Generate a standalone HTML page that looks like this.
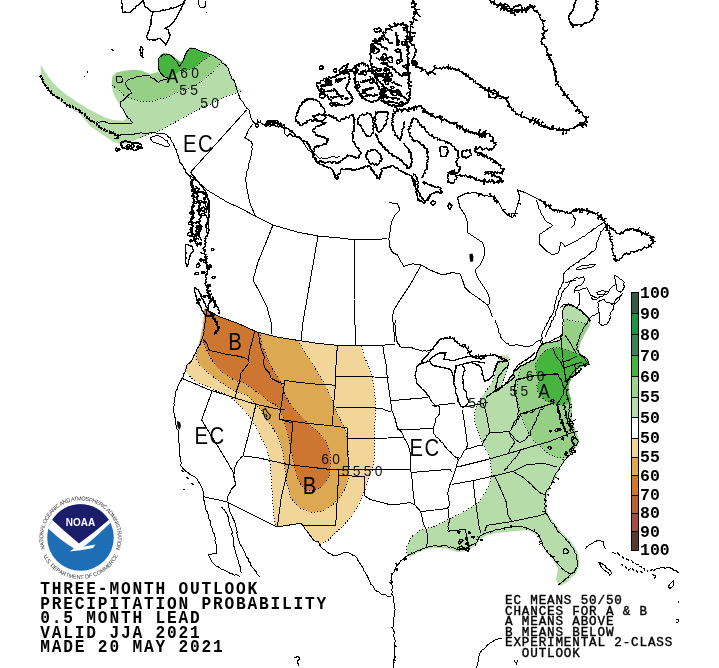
<!DOCTYPE html><html><head><meta charset="utf-8"><style>html,body{margin:0;padding:0;background:#fff;}svg{display:block;}</style></head><body><svg width="719" height="668" viewBox="0 0 719 668">
<rect width="719" height="668" fill="#fff"/>
<g stroke="none"><polygon points="40.8,65.0 48.3,76.7 56.7,86.7 66.7,95.0 76.7,101.7 86.7,108.3 96.7,113.3 105.0,117.5 113.3,120.0 123.3,120.8 126.7,118.3 125.0,113.3 120.8,106.7 116.7,100.0 113.3,93.3 111.7,85.0 112.5,76.7 116.7,72.5 125.0,70.8 133.3,69.7 141.7,70.8 149.8,74.2 155.0,73.5 158.0,72.0 158.0,63.0 160.0,55.0 165.0,53.0 171.7,55.0 176.7,59.0 180.0,62.0 183.3,60.0 186.7,51.7 190.0,47.5 195.0,48.3 203.0,52.0 212.0,55.0 218.0,58.0 224.0,62.0 228.0,67.0 231.0,75.0 235.0,83.0 238.0,88.0 243.0,91.0 228.4,95.6 210.0,104.5 197.5,109.9 181.3,118.9 161.4,129.8 150.0,134.0 139.7,137.9 134.0,140.7 128.0,143.0 121.6,144.8 112.6,141.2 101.7,134.0 90.9,126.8 80.0,114.0 70.0,108.0 61.0,102.0 53.0,96.0 47.0,89.0 43.0,81.0 40.8,73.3" fill="#b6dcaa"/><polygon points="111.7,85.0 112.5,76.7 116.7,72.5 125.0,70.8 133.3,69.7 141.7,70.8 149.8,74.2 158.0,72.0 163.0,76.0 170.0,78.0 176.0,74.0 185.0,68.0 197.0,62.0 205.0,57.0 212.0,55.0 218.0,58.0 223.0,60.5 218.9,65.0 211.1,73.4 201.6,81.1 192.0,87.5 179.0,92.0 168.0,97.0 156.0,99.9 149.8,102.0 138.3,100.8 130.0,98.3 123.3,95.0 118.3,90.0" fill="#95d086"/><polygon points="160.0,55.0 158.0,63.0 159.0,70.0 163.0,76.0 170.0,78.0 176.0,74.0 180.0,71.0 188.0,70.0 194.0,68.0 199.8,63.2 204.0,60.0 207.5,57.8 211.0,55.0 203.0,52.0 195.0,48.3 190.0,47.5 186.7,51.7 183.3,60.0 180.0,62.0 176.7,59.0 171.7,55.0 165.0,53.0" fill="#47b440"/><polygon points="204.0,309.0 206.0,310.0 220.0,317.0 237.0,323.0 257.0,332.0 277.0,337.0 298.0,340.4 318.0,343.4 337.0,345.3 357.0,345.9 361.0,346.0 364.6,357.0 368.5,366.7 372.4,378.4 374.3,390.0 375.3,401.8 375.3,413.5 374.8,425.0 374.6,439.5 374.6,455.0 372.7,468.7 368.8,478.4 364.9,490.1 359.0,503.7 351.2,517.4 339.6,529.0 327.9,540.7 320.1,544.6 316.2,542.7 308.4,532.9 302.6,525.1 300.6,523.2 277.3,527.0 275.3,525.1 273.4,511.5 272.4,497.9 271.4,478.4 269.5,458.9 266.0,447.0 262.1,440.0 259.3,433.7 255.1,425.4 250.9,418.4 244.0,410.1 235.6,401.7 229.1,396.0 223.7,393.5 217.4,390.8 211.2,388.1 204.0,385.4 197.7,382.7 191.4,378.2 186.0,372.0 184.2,368.0 188.3,364.2 193.9,358.0 197.0,350.0 200.0,340.0 203.0,325.0 204.0,315.0" fill="#f2d699"/><polygon points="204.0,309.0 206.0,310.0 220.0,317.0 237.0,323.0 257.0,332.0 277.0,337.0 298.0,340.4 304.3,351.2 312.0,362.8 317.9,372.6 323.7,382.3 329.6,394.0 333.5,403.7 337.4,413.5 341.2,421.2 345.1,429.0 347.0,437.0 348.0,449.0 348.5,458.9 349.3,468.7 348.3,478.4 345.4,488.1 339.6,497.9 331.8,505.7 322.0,511.5 310.4,512.5 298.7,507.6 290.9,497.9 287.0,484.3 285.0,468.7 283.1,453.1 280.0,442.0 277.4,435.1 271.8,426.8 266.2,418.4 260.7,410.1 253.7,401.7 246.8,395.0 241.0,393.0 236.3,391.7 230.9,389.0 225.5,385.4 220.1,381.8 214.8,378.2 209.4,373.7 204.0,369.2 199.5,364.8 196.8,359.4 197.0,350.0 200.0,340.0 203.0,325.0 204.0,315.0" fill="#dca851"/><polygon points="204.0,309.0 206.0,310.0 220.0,317.0 237.0,323.0 257.0,332.0 259.5,332.0 261.4,343.4 266.3,355.0 270.4,365.0 276.0,374.5 280.9,382.3 283.8,392.0 288.7,401.8 294.5,409.6 302.3,417.4 308.4,423.9 318.1,431.7 325.9,441.4 329.8,451.2 330.8,462.8 329.8,474.5 325.9,482.3 320.1,488.1 312.3,491.1 306.5,490.1 300.6,484.3 296.7,476.5 294.8,466.7 291.9,455.0 289.9,443.4 287.0,431.7 284.1,420.0 280.0,410.0 277.4,405.9 269.0,401.7 260.7,394.8 252.3,388.5 244.0,383.0 237.2,380.9 232.7,379.1 227.3,375.5 221.9,371.9 216.5,366.5 212.1,360.3 208.5,354.0 205.8,347.7 203.1,341.4 204.0,330.0 205.0,318.0" fill="#cc7632"/><polygon points="589.3,318.9 584.4,314.8 579.4,309.9 572.8,304.1 567.0,304.5 563.0,306.6 562.9,314.8 563.8,324.7 563.0,332.9 560.1,340.3 551.7,342.4 545.5,343.1 541.9,344.0 538.3,349.4 536.5,353.0 535.6,357.5 532.9,360.2 529.3,362.0 525.7,363.8 522.1,365.5 518.5,368.2 515.0,370.9 513.2,374.5 510.0,379.5 506.0,383.5 502.5,387.0 500.5,389.0 502.0,384.0 504.0,379.0 506.0,373.0 508.0,366.0 509.5,358.0 507.0,355.5 502.0,355.5 499.0,358.0 497.0,365.0 495.0,373.0 493.0,381.0 488.0,388.5 481.5,397.0 477.0,405.0 475.0,412.0 474.5,420.0 476.7,428.3 480.0,436.7 483.3,445.0 486.7,451.7 490.0,458.3 490.8,465.0 491.7,473.3 490.0,481.7 486.7,490.0 478.9,502.0 467.3,509.8 455.6,515.7 447.8,519.6 440.0,523.5 433.3,526.7 420.0,530.0 411.7,536.7 406.7,546.7 407.0,555.0 410.0,557.0 416.7,553.0 426.7,549.0 436.7,548.0 446.7,548.5 456.7,552.0 463.3,551.5 470.0,549.5 476.7,545.0 480.0,539.5 486.7,535.5 496.7,533.0 506.7,532.0 516.7,531.0 526.7,530.0 533.2,533.0 538.1,536.3 541.4,542.9 543.0,547.8 546.3,552.8 551.3,557.7 554.6,562.7 558.0,568.0 556.0,580.0 560.0,586.0 566.0,583.0 571.0,578.0 576.0,574.0 579.0,567.0 579.5,560.0 578.0,553.0 574.5,546.5 571.0,541.5 566.0,536.6 561.0,531.5 556.0,525.0 551.0,518.5 547.0,512.0 546.5,500.0 547.5,493.0 551.0,486.6 555.0,479.0 560.0,469.0 565.0,461.0 571.0,454.0 576.0,447.0 579.5,441.7 576.0,432.0 573.0,424.0 571.5,415.7 572.0,407.3 571.0,399.0 568.5,392.0 568.5,385.7 571.5,377.4 576.5,370.8 581.0,367.0 589.0,364.0 588.0,359.0 581.0,354.0 578.5,349.4 580.5,342.8 583.5,336.2 587.0,329.7 590.0,324.7 591.0,319.5" fill="#b6dcaa"/><polygon points="521.0,366.0 519.0,375.0 517.5,383.0 517.0,390.0 516.4,393.9 517.8,400.9 519.9,412.0 523.4,421.7 527.6,431.5 533.1,439.8 540.1,446.8 548.4,453.7 556.8,457.9 565.1,457.9 571.0,454.0 576.0,447.0 579.5,441.7 576.0,432.0 573.0,424.0 571.5,415.7 572.0,407.3 571.0,399.0 568.5,392.0 568.5,385.7 571.5,377.4 576.5,370.8 581.0,367.0 589.0,364.0 588.0,359.0 581.0,354.0 578.5,349.4 580.5,342.8 583.5,336.2 587.0,329.7 590.0,324.7 588.0,323.9 586.0,323.9 576.1,321.4 566.2,319.8 563.5,320.0 563.8,324.7 563.0,332.9 560.1,340.3 551.7,342.4 545.5,343.1 541.9,344.0 538.3,349.4 536.5,353.0 535.6,357.5 532.9,360.2 529.3,362.0 525.7,363.8" fill="#95d086"/><polygon points="544.8,351.1 551.4,347.8 559.7,347.8 571.2,351.1 579.4,354.4 585.0,358.0 589.0,364.0 581.0,367.0 576.5,370.8 571.5,377.4 568.5,385.7 568.5,392.0 571.0,399.0 569.0,403.0 566.0,404.5 559.7,405.0 551.4,403.8 543.2,398.8 538.2,392.3 536.6,385.7 539.9,380.7 536.6,374.1 534.9,365.9 538.2,357.7" fill="#47b440"/></g>
<g fill="none" stroke="#000" stroke-width="1" stroke-dasharray="1 2" shape-rendering="crispEdges"><polyline points="111.7,85.0 118.3,90.0 123.3,95.0 130.0,98.3 138.3,100.8 149.8,102.0 156.0,99.9 168.0,97.0 179.0,92.0 192.0,87.5 201.6,81.1 211.1,73.4 218.9,65.0 223.0,60.5"/><polyline points="180.0,71.0 188.0,70.0 194.0,68.0 199.8,63.2 204.0,60.0 207.5,57.8 211.0,55.0"/><polyline points="139.7,137.9 150.0,134.0 161.4,129.8 181.3,118.9 197.5,109.9 210.0,104.5 228.4,95.6 243.0,91.0"/><polyline points="298.0,340.4 304.3,351.2 312.0,362.8 317.9,372.6 323.7,382.3 329.6,394.0 333.5,403.7 337.4,413.5 341.2,421.2 345.1,429.0 347.0,437.0 348.0,449.0 348.5,458.9 349.3,468.7 348.3,478.4 345.4,488.1 339.6,497.9 331.8,505.7 322.0,511.5 310.4,512.5 298.7,507.6 290.9,497.9 287.0,484.3 285.0,468.7 283.1,453.1 280.0,442.0 277.4,435.1 271.8,426.8 266.2,418.4 260.7,410.1 253.7,401.7 246.8,395.0 241.0,393.0 236.3,391.7 230.9,389.0 225.5,385.4 220.1,381.8 214.8,378.2 209.4,373.7 204.0,369.2 199.5,364.8 196.8,359.4 197.0,350.0"/><polyline points="259.5,332.0 261.4,343.4 266.3,355.0 270.4,365.0 276.0,374.5 280.9,382.3 283.8,392.0 288.7,401.8 294.5,409.6 302.3,417.4 308.4,423.9 318.1,431.7 325.9,441.4 329.8,451.2 330.8,462.8 329.8,474.5 325.9,482.3 320.1,488.1 312.3,491.1 306.5,490.1 300.6,484.3 296.7,476.5 294.8,466.7 291.9,455.0 289.9,443.4 287.0,431.7 284.1,420.0 280.0,410.0 277.4,405.9 269.0,401.7 260.7,394.8 252.3,388.5 244.0,383.0 237.2,380.9 232.7,379.1 227.3,375.5 221.9,371.9 216.5,366.5 212.1,360.3 208.5,354.0 205.8,347.7 203.1,341.4"/><polyline points="361.0,346.0 364.6,357.0 368.5,366.7 372.4,378.4 374.3,390.0 375.3,401.8 375.3,413.5 374.8,425.0 374.6,439.5 374.6,455.0 372.7,468.7 368.8,478.4 364.9,490.1 359.0,503.7 351.2,517.4 339.6,529.0 327.9,540.7 320.1,544.6"/><polyline points="277.3,527.0 275.3,525.1 273.4,511.5 272.4,497.9 271.4,478.4 269.5,458.9 266.0,447.0 262.1,440.0 259.3,433.7 255.1,425.4 250.9,418.4 244.0,410.1 235.6,401.7 229.1,396.0 223.7,393.5 217.4,390.8 211.2,388.1 204.0,385.4 197.7,382.7 191.4,378.2 186.0,372.0"/><polyline points="563.5,320.0 566.2,319.8 576.1,321.4 588.0,323.9"/><polyline points="500.5,389.0 502.0,384.0 504.0,379.0 506.0,373.0 508.0,366.0 509.5,358.0"/><polyline points="499.0,358.0 497.0,365.0 495.0,373.0 493.0,381.0 488.0,388.5 481.5,397.0 477.0,405.0 475.0,412.0 474.5,420.0 476.7,428.3 480.0,436.7 483.3,445.0 486.7,451.7 490.0,458.3 490.8,465.0 491.7,473.3 490.0,481.7 486.7,490.0 478.9,502.0 467.3,509.8 455.6,515.7 447.8,519.6 440.0,523.5 433.3,526.7 420.0,530.0 411.7,536.7 406.7,546.7 407.0,555.0"/><polyline points="521.0,366.0 519.0,375.0 517.5,383.0 517.0,390.0 516.4,393.9 517.8,400.9 519.9,412.0 523.4,421.7 527.6,431.5 533.1,439.8 540.1,446.8 548.4,453.7 556.8,457.9 565.1,457.9 571.0,454.0"/><polyline points="544.8,351.1 551.4,347.8 559.7,347.8 571.2,351.1 579.4,354.4 582.7,357.7"/><polyline points="544.8,351.1 538.2,357.7 534.9,365.9 536.6,374.1 539.9,380.7 536.6,385.7 538.2,392.3 543.2,398.8 551.4,403.8 559.7,405.0 566.0,402.0"/></g>
<g fill="none" stroke="#000" stroke-width="1" stroke-linejoin="round" shape-rendering="crispEdges"><polyline points="199.0,0.0 198.0,3.0 200.0,7.0 204.0,8.0 206.0,5.0 205.0,1.0"/><polyline points="206.0,12.0 206.5,13.5"/><polyline points="84.0,76.0 85.0,77.0"/><polyline points="87.5,71.5 88.0,72.5"/><polyline points="190.0,48.0 192.5,48.7 195.0,48.3 196.8,49.7 198.9,50.4 200.7,51.7 203.0,52.0 205.4,52.2 207.6,53.2 209.7,54.3 212.0,55.0 213.9,55.9 215.6,57.0 217.2,58.3 219.0,59.5 220.9,60.7 221.8,63.0 223.9,63.9 225.8,65.3 227.2,67.2 228.6,68.9 228.9,71.1 229.7,73.1 230.6,75.0 231.5,77.1 232.2,79.2 234.4,80.6 235.0,82.8 235.3,85.3 236.6,87.5 237.0,90.0 237.2,92.3 238.8,93.9 239.1,96.1 239.7,98.2 241.0,100.0 242.7,101.7 243.8,103.9 245.0,106.0 247.0,108.3 248.9,110.1 249.7,112.5 250.3,114.6 250.9,116.8 251.2,119.0 252.5,120.9 255.3,123.6 258.0,122.7 260.9,122.9 263.0,124.2 265.6,123.9 267.8,125.0 270.2,124.6 272.5,125.4 274.8,125.7 277.0,126.5 279.4,126.5 281.7,126.4 284.5,124.3 285.2,127.8 284.3,130.5 284.5,133.4 287.3,136.2 290.1,133.4 292.9,136.2 295.6,136.9 297.9,137.0 299.8,138.2 301.4,139.8 302.6,141.7 304.2,143.7 305.4,145.9 306.8,148.0 308.2,150.1 310.6,151.1 312.3,152.9 314.8,153.7 316.5,155.6 319.3,158.4 321.4,157.9 323.5,158.4 326.3,158.7 329.0,157.7 331.7,156.9 334.6,157.0 337.4,157.2 340.0,156.3"/><polyline points="133.3,122.5 131.2,121.6 130.4,119.2 128.3,118.3 126.4,115.9 125.0,113.3 123.8,110.8 122.5,108.3 121.0,106.8 120.0,105.0 120.8,101.7 123.3,100.5 125.0,98.3 127.0,97.0 128.3,95.0 131.7,93.3 130.0,90.0 128.1,88.6 126.7,86.7 125.0,83.3 126.6,81.6 128.3,80.0 130.6,78.7 133.3,78.3 135.7,77.1 138.3,76.7 140.4,76.4 142.5,75.9 144.6,75.8 146.7,75.8 149.8,75.8 151.1,77.6 153.3,78.3 155.2,79.5 156.7,81.1 158.3,82.5 160.6,80.8 163.3,80.0 165.9,79.4 168.3,78.3 165.7,77.3 163.3,75.8 161.5,74.1 160.1,72.3 159.2,70.0 158.4,67.8 158.5,65.5 158.3,63.3 159.0,61.1 158.7,58.7 160.0,56.7 161.9,55.8 163.3,54.2 165.5,55.1 167.8,54.7 170.0,55.0 172.0,56.4 173.7,57.9 175.0,60.0 176.9,61.9 178.0,64.3 179.2,66.7 180.6,64.5 182.5,62.6 183.3,60.0 184.3,58.0 184.8,55.8 185.9,53.8 186.7,51.7 188.4,49.9 190.0,48.0"/><polyline points="96.7,121.7 98.7,122.3 100.7,121.8 102.7,122.0 104.8,121.7 106.7,122.5 108.7,123.1 110.7,123.3 112.6,123.7 114.6,123.8 116.7,123.3 118.7,123.1 120.7,123.7 122.7,123.5 124.7,123.0 126.7,123.3 128.9,123.4 131.2,123.3 133.3,122.5"/><polyline points="117.0,76.0 121.0,76.0 123.0,80.0 121.0,83.0 117.0,82.0 116.0,79.0 117.0,76.0"/><polyline points="120.0,135.2 122.2,134.6 124.5,134.4 126.7,134.2 129.0,134.3 131.3,134.8 133.6,134.5 135.8,133.4 138.1,133.4 140.8,132.7 143.5,133.4 145.9,133.4 148.4,133.3 150.7,132.5 153.0,132.5 155.3,132.8 157.4,133.9 159.8,133.4 162.3,133.7 164.8,133.9 167.0,135.2 168.4,137.1 170.6,137.9 171.2,140.3 172.4,142.4 173.6,144.1 174.2,146.1 175.1,147.9 176.1,149.7 176.6,152.5 177.9,155.1 178.6,157.9 179.7,160.5 180.0,162.6 181.5,164.1 183.0,165.7 183.3,167.8 185.0,169.3 185.3,171.7 186.9,173.2 188.5,175.2 190.5,176.8 191.1,179.6 192.3,182.2 192.1,184.3 193.0,186.1 193.3,188.1 194.1,190.0"/><polyline points="246.6,109.9 190.5,172.3"/><polyline points="207.0,310.0 206.5,312.1 206.6,314.4 205.9,316.5 205.7,318.7 205.0,320.8 205.0,323.0 204.1,325.1 204.7,327.4 203.8,329.5 204.2,331.7 203.1,333.8 203.1,336.0 202.6,338.4 201.3,340.5 200.7,342.7 199.9,344.9 198.6,346.8 197.3,348.4 196.6,350.3 195.9,352.2 195.0,354.0 193.9,355.7 193.2,357.6 192.3,359.6 191.1,361.4 189.6,363.0 187.6,364.5 186.0,366.5 186.0,368.7 185.4,370.8 184.6,372.8 183.3,374.6 183.1,376.8 182.2,378.7 181.0,380.4 180.0,382.2 179.0,384.0 177.8,386.3 177.4,388.9 175.9,391.1 175.5,393.1 175.5,395.1 174.9,397.0 174.5,399.0 174.6,401.3 173.9,403.4 174.2,405.7 173.5,407.9 173.9,410.3 173.9,412.7 174.5,415.0 175.0,417.4 175.8,419.8 175.9,422.3 175.9,424.4 176.2,426.4 176.7,428.4 178.1,430.2 178.2,432.2 178.3,434.3 178.1,436.5 178.6,438.7 178.9,440.8 179.0,443.0 179.1,445.0 179.7,447.0 179.7,449.0 179.5,451.0 180.1,453.0 179.3,455.2 180.3,457.1 180.4,459.2 180.9,461.2 181.1,463.3 180.7,465.4 182.3,467.5 184.0,469.5 185.8,471.3 187.9,472.6 189.5,473.9 191.1,475.1 193.0,476.0 195.6,477.5 197.5,479.8 198.7,481.9 200.0,484.0 201.4,486.5 202.3,489.3 203.1,491.7 203.3,494.2 203.3,496.7 203.7,499.1 204.2,501.4 204.4,503.8 205.5,506.0 205.7,508.2 206.1,510.4 207.6,512.3 208.1,514.5 208.3,516.7 208.9,518.8 210.1,520.6 210.6,522.8 210.6,525.0 211.5,527.0 212.6,528.8 212.3,531.1 213.7,532.8 214.6,534.7 215.0,536.7 215.2,538.8 214.9,540.9 215.8,542.9 216.4,544.9 216.2,547.1 216.5,549.1 216.7,551.2 216.7,553.3 214.4,553.8 212.0,554.0 208.3,555.0 209.5,557.1 210.5,559.3 211.6,561.5 213.3,563.3 214.8,564.7 216.3,566.1 218.2,566.9 220.0,568.0 222.0,569.7 224.7,570.1 226.7,571.7 228.7,572.2 230.3,573.7 232.4,573.9 234.1,575.1 236.4,574.8 238.3,575.5 240.0,576.7"/><polyline points="221.7,506.7 222.5,508.7 224.5,509.8 225.4,511.7 226.7,513.3 227.6,515.3 228.3,517.4 228.7,519.5 229.0,521.7 229.8,523.8 229.9,526.0 230.9,528.0 231.7,530.0 232.4,532.2 231.7,534.5 233.0,536.6 233.3,538.8 233.4,541.0 233.3,543.3 233.8,545.5 234.3,547.8 235.1,550.0 235.2,552.3 236.3,554.4 236.7,556.7 237.8,558.6 238.1,560.8 238.6,562.9 239.4,564.9 240.2,567.0 240.2,569.2 240.8,571.3 241.7,573.3"/><polyline points="228.0,503.0 228.6,505.2 228.6,507.4 229.9,509.4 230.0,511.7 230.6,513.7 231.8,515.5 232.8,517.4 233.2,519.5 234.5,521.2 235.0,523.3 235.0,525.5 236.1,527.4 236.7,529.5 237.2,531.5 236.8,533.8 238.0,535.7 237.9,537.9 238.3,540.0 239.3,541.9 240.1,543.9 241.2,545.7 242.3,547.5 243.4,549.4 244.1,551.4 245.0,553.3 245.9,555.3 246.6,557.3 248.4,558.8 248.5,561.1 250.1,562.7 250.6,564.8 251.7,566.7 253.1,568.3 254.6,569.9 256.1,571.5 256.8,573.7 258.4,575.2 260.0,576.7"/><polyline points="181.0,470.0 184.0,472.0"/><polyline points="186.0,477.0 189.0,479.0"/><polyline points="191.0,483.0 194.0,485.0"/><polyline points="183.0,489.0 185.0,490.0"/><polyline points="190.0,175.0 207.0,190.0 227.0,202.0 240.0,208.0 257.0,217.0 273.0,225.0 297.0,232.0 318.0,236.0 340.0,238.0 355.0,240.0 387.5,238.8"/><polyline points="252.5,123.6 251.8,125.5 250.6,127.2 249.2,128.8 248.3,130.6 247.2,132.9 246.3,135.4 244.9,137.6 246.9,139.0 249.1,140.3 251.1,141.7 252.5,144.5 251.8,146.7 252.3,149.0 251.7,151.2 251.3,153.4 251.1,155.6 250.8,157.9 250.1,160.1 249.2,162.3 248.5,164.5 248.3,166.8 248.1,169.1 247.0,171.2 246.7,173.5 246.3,175.7 245.6,177.9 245.6,180.2 246.2,182.3 246.3,184.6 246.9,186.8 247.0,189.0 247.8,190.9 247.9,193.0 248.2,195.0 248.6,197.0 248.9,199.1 249.7,201.0 250.0,203.0 250.5,205.1 251.5,207.1 252.3,209.1 253.3,211.0 254.1,213.0 255.0,215.0 257.0,217.0"/><polyline points="273.0,225.0 265.0,245.0 258.0,262.0 253.0,280.0 260.0,293.0 267.0,307.0 271.0,322.0 271.0,334.0"/><polyline points="318.0,236.0 303.0,322.0 301.0,340.0"/><polyline points="355.0,240.0 354.0,300.0 355.8,345.0"/><polyline points="421.3,265.0 410.0,285.0 400.0,300.0 393.8,310.0 392.5,317.0 395.0,342.0"/><polyline points="388.8,202.5 397.5,203.8 400.0,210.0 395.0,215.0 391.3,222.5 390.0,232.5 388.8,238.8 390.0,247.5 392.5,252.5 397.5,255.0 400.0,260.0 403.8,266.3 412.5,263.8 421.3,265.0 430.0,270.0 442.5,275.0 452.5,272.5 460.0,273.8 462.5,280.0 465.0,287.5 470.0,292.5 477.5,297.5 482.5,301.3 487.5,305.0 490.0,310.0 492.5,317.0"/><polyline points="488.8,305.0 490.0,300.0 487.5,292.5 482.5,285.0 477.5,277.5 475.0,270.0 480.0,265.0 483.8,257.5 485.0,250.0 482.5,242.5 475.0,237.5 467.5,232.5 467.5,222.5 465.0,215.0 460.0,207.5 457.5,197.5 465.0,193.8 475.0,192.5 482.5,195.0 490.0,196.3 495.0,197.5 498.8,202.5 502.5,210.0 507.5,215.0 512.5,217.5 515.0,213.8 517.5,205.0 520.0,197.5 517.5,190.0 525.0,192.5 535.0,197.5 540.0,200.0"/><polyline points="536.0,200.0 537.2,202.0 537.6,204.3 538.5,206.5 538.9,208.8 540.4,210.8 541.0,213.0 542.2,215.1 543.7,217.2 544.7,219.5 546.3,221.4 548.4,222.8 550.7,223.9 552.6,225.6 550.8,227.4 548.4,228.4 546.3,229.8 544.3,231.4 542.2,232.7 540.0,234.0 539.9,236.0 539.2,238.0 539.0,240.0 539.5,242.3 540.0,244.5 542.2,246.5 544.2,248.7 545.8,250.1 547.3,251.6 549.3,252.4 550.7,254.0 552.6,255.0 554.7,254.2 556.7,253.4 558.9,252.9 559.0,250.7 559.3,248.6 559.8,246.5 560.7,244.5 561.0,242.4 563.3,244.3 565.2,246.6 567.2,245.4 569.2,244.2 571.4,243.3 573.5,242.4 575.6,241.3 577.7,240.3 579.2,238.7 581.4,238.0 582.8,236.3 585.2,235.9 586.7,234.3 588.4,232.9 590.3,231.9 591.9,230.5 593.4,229.0 595.5,228.4 597.2,227.0 598.7,225.6 600.9,224.4 602.9,222.9 605.0,221.4"/><polyline points="571.4,213.1 572.9,215.1 573.9,217.5 575.6,219.3 574.7,221.3 574.9,223.7 573.5,225.6 571.4,227.7"/><polyline points="607.1,225.6 605.6,226.9 603.9,228.1 603.0,230.0 600.8,231.9 600.6,234.3 599.4,236.2 598.5,238.3 598.0,240.5 596.6,242.4 596.1,244.5 596.2,246.8 595.8,248.9 594.5,250.8 592.0,251.6 590.2,253.5 588.2,255.0 586.3,256.7 584.3,258.3 581.9,259.2 580.0,260.0 578.6,262.0 576.1,262.7 574.4,264.4 572.4,265.8 570.2,266.7 568.8,268.8 566.7,270.0 565.0,272.2 563.3,274.4 563.6,277.0 563.1,279.6 563.3,282.2 561.7,284.2 561.1,286.7 559.0,290.0 558.8,292.5 558.0,294.7 556.5,296.7 556.7,298.9 555.1,300.8 555.6,303.1 554.5,305.0 554.8,307.1 554.3,309.1 553.5,311.0 553.0,313.0 552.3,314.9 551.0,316.5 549.6,318.0 549.0,320.0 548.3,321.9 546.9,323.5 546.5,325.6 545.0,327.0 544.6,329.6 542.7,331.5 542.0,334.0 541.4,336.0 542.3,338.0 541.3,340.0 542.7,342.0 541.9,344.0"/><polyline points="576.7,267.8 582.2,265.6 595.6,264.4 593.3,266.7 582.2,268.9 576.7,270.0 576.7,267.8"/><polyline points="545.0,337.0 546.1,334.7 547.0,332.3 548.0,330.0 549.2,327.7 550.5,325.6 551.0,323.0 551.6,321.0 553.6,319.8 553.4,317.4 555.0,316.0 555.3,313.9 555.8,311.9 556.2,309.8 557.5,308.0 557.7,305.9 559.0,304.1 558.8,301.8 560.0,300.0 560.8,297.8 561.5,295.5 561.9,293.1 563.3,291.0 564.4,288.9 566.3,287.9 567.7,286.3 568.7,284.5 569.7,282.6 571.1,281.1 573.2,280.5 574.5,278.4 576.7,277.8 579.0,278.2 581.2,277.7 583.3,276.7 585.0,279.4 583.9,281.1 583.0,283.0 580.8,285.0 578.0,286.0 575.7,287.6 574.4,290.0 574.4,293.3"/><polyline points="574.4,293.3 574.9,291.2 576.7,290.0 579.6,290.4 582.2,288.9 584.5,288.5 586.7,287.8 588.9,291.1 589.4,293.6 591.1,295.6 593.6,296.3 595.6,297.8 598.0,298.2 600.0,296.7 602.6,296.3 604.4,294.4 607.1,294.1 608.9,292.2 609.2,289.6 611.1,287.8 613.2,286.0 615.6,284.4"/><polyline points="596.0,292.0 598.1,292.0 600.1,291.6 602.0,290.5 604.0,291.0 606.0,291.0 608.0,291.0 605.8,292.2 604.0,294.0 602.0,294.4 600.0,294.8 598.0,294.5 596.0,292.0"/><polyline points="614.4,275.6 617.8,276.7 619.7,278.8 622.2,280.0 624.4,282.2 623.7,284.4 624.4,286.8 623.3,288.9 622.2,291.1 620.0,292.2 616.7,290.0 616.2,287.4 616.1,284.7 615.0,282.2 615.4,279.9 614.6,277.8 614.4,275.6"/><polyline points="622.2,293.3 621.3,295.1 620.0,296.7 617.6,298.0 615.6,300.0 614.3,302.5 612.2,304.4 610.1,303.2 607.8,302.2 605.7,302.0 604.4,299.9 602.2,300.0 599.8,300.7 597.8,302.2 598.9,304.7 597.7,307.5 598.9,310.0 598.9,312.9 600.0,315.6 599.9,317.8 599.7,320.1 598.9,322.2 600.3,324.2 602.2,325.6 604.4,324.7 606.7,324.4 608.9,321.1 610.0,318.5 610.0,315.6 610.3,313.0 612.2,311.1 613.3,309.0 613.3,306.7 614.7,304.0 617.0,302.0 619.0,300.4 620.0,298.0"/><polyline points="560.0,307.8 562.0,306.5 563.3,304.4 565.9,304.2 568.5,303.9 571.1,304.4 572.7,305.6 574.6,306.4 576.0,308.0 577.8,308.9 580.3,309.9 582.6,311.3 584.4,313.3 585.9,314.8 587.2,316.5 588.9,317.8 589.2,320.1 590.0,322.2"/><polyline points="577.8,308.9 577.7,306.5 579.1,304.4 579.0,302.0 579.0,299.9 579.9,298.0 580.0,296.0 579.5,293.7 578.0,292.0"/><polyline points="565.2,282.2 567.7,282.0 570.0,281.0 572.8,280.3 575.6,280.1"/><polyline points="591.0,297.0 592.2,298.8 594.0,300.0 597.0,299.0"/><polyline points="205.0,309.0 220.0,317.0 237.0,323.0 257.0,332.0 277.0,337.0 298.0,340.4 318.0,343.4 337.0,345.3 357.0,345.9 381.6,345.1 395.0,344.7"/><polyline points="181.4,378.1 207.8,389.2 235.6,398.2 256.5,404.5 280.0,409.4 284.8,410.0"/><polyline points="212.0,391.3 201.6,419.8 212.0,437.0 222.0,453.0 233.4,472.6 235.8,484.6"/><polyline points="255.8,405.2 249.0,433.0 243.0,455.8"/><polyline points="243.0,455.8 241.1,457.4 239.7,459.3 238.0,461.0 236.7,463.1 235.8,465.4 234.7,467.7 234.7,470.2 234.4,472.7 233.4,475.0 233.8,477.5 234.6,479.8 235.2,482.2 235.8,484.6 234.1,486.3 232.4,488.0 231.0,490.0 230.2,492.3 228.6,494.2 227.9,496.7 227.9,499.3 226.7,501.7"/><polyline points="255.1,330.0 252.9,338.9 249.9,349.4 248.4,358.4 249.1,362.9 245.4,367.4 240.9,373.4 239.4,382.3 236.4,391.3 235.6,397.6"/><polyline points="203.1,339.6 204.9,341.2 206.3,343.0 207.6,345.0 208.1,347.2 208.5,349.5 210.6,350.7 213.0,351.3 215.0,351.9 217.1,352.0 219.2,352.2 221.7,353.6 224.6,354.0 226.7,354.1 228.8,354.4 230.9,354.9 233.1,355.4 235.5,355.3 237.7,356.1 239.9,356.7 242.0,357.1 244.0,357.7 246.0,358.5 248.4,360.0"/><polyline points="258.5,331.7 259.5,341.4 261.4,349.2 264.3,357.0 263.4,362.8 265.3,368.7 269.2,372.6 271.2,378.4 279.0,382.3 284.8,384.3"/><polyline points="284.8,380.4 298.4,382.3 317.9,384.3 335.4,385.2"/><polyline points="337.4,345.3 336.4,359.0 335.4,374.5 335.4,385.2 333.5,405.7 332.5,426.0"/><polyline points="284.8,380.4 281.9,401.8 279.0,419.3 306.2,423.2 333.5,426.0 347.4,427.8"/><polyline points="335.4,376.5 388.8,377.2"/><polyline points="335.6,407.5 374.9,408.0 381.6,408.6 390.6,412.0"/><polyline points="292.8,422.9 289.0,464.8 281.2,497.9 277.3,527.0"/><polyline points="279.0,419.3 292.8,422.9"/><polyline points="243.0,455.8 260.0,458.2 289.0,464.8 331.8,469.6 348.3,469.6 390.0,469.6 411.0,470.0"/><polyline points="347.4,427.8 348.3,469.6"/><polyline points="347.4,438.5 404.0,437.8"/><polyline points="338.6,469.6 338.6,475.5 364.9,476.5 364.9,495.9 370.7,499.8 380.0,502.0 390.0,504.7 400.0,504.0 410.0,502.5 415.0,505.0"/><polyline points="338.6,475.5 335.7,525.1 302.6,525.1"/><polyline points="203.3,496.7 226.7,501.7 246.7,511.7 273.3,525.0 277.3,527.0 300.6,523.2 302.6,525.1"/><polyline points="302.6,525.1 304.2,527.0 305.1,529.3 306.8,531.0 308.4,532.9 309.4,535.2 311.4,536.7 312.4,539.0 314.3,540.7 316.5,541.3 318.7,542.0 319.3,544.3 320.4,546.3 322.0,548.0 323.7,549.3 325.5,550.4 326.8,552.1 328.8,553.2 331.0,553.8 332.8,555.2 334.9,556.1 336.9,555.4 338.9,554.5 341.0,554.0 342.9,553.1 344.9,552.5 347.0,552.1 349.0,553.1 351.1,553.9 352.9,555.2 355.0,556.1 356.8,557.7 357.6,560.1 359.0,562.0 360.3,564.1 361.8,566.1 363.1,568.2 363.6,570.3 364.9,572.1 366.0,574.0 367.3,576.0 368.3,578.1 369.2,580.3 370.1,582.5 371.1,584.6 373.2,586.1 374.2,588.2 375.2,590.4 377.2,591.4 379.5,592.1 381.0,594.0 383.3,594.5 385.4,594.6 387.2,596.1 389.2,596.5 391.4,596.5"/><polyline points="382.7,345.1 383.9,353.7 386.1,364.9 387.2,377.2 389.5,394.0 390.6,400.8 391.7,409.8 395.1,418.7 397.3,427.7 401.8,432.2 404.0,437.8 408.5,445.7 410.0,452.0 410.5,462.0 411.0,472.0 411.7,475.0 413.3,494.8 415.0,505.0 420.8,511.7 423.3,523.3 426.7,530.0 427.5,538.3 426.7,548.3"/><polyline points="390.6,400.8 428.3,397.4"/><polyline points="428.3,395.5 429.6,397.5 430.4,399.7 431.7,401.7 433.9,403.9 435.0,406.7 438.3,405.5 439.5,407.4 439.2,409.7 440.0,411.7 439.2,414.3 437.8,416.5 435.8,418.3 435.0,420.7 435.0,423.3 434.2,425.8 433.3,428.3 433.2,430.8 433.3,433.3 434.9,435.1 436.2,437.0 438.3,438.3 439.7,440.2 441.2,442.1 443.3,443.3 444.1,445.2 445.3,446.8 446.7,448.3 448.1,450.2 450.0,451.6 451.7,453.3 453.0,455.3 455.0,456.7 456.9,458.1 458.3,460.0 457.7,462.6 456.7,465.0 456.6,467.1 455.6,468.9 455.1,470.9 454.4,472.8 453.9,474.8 453.1,476.7 452.4,478.7 451.7,480.6 450.8,482.5 450.1,484.4 449.3,486.3 449.0,488.4 448.5,490.4 447.8,492.3 447.8,494.7 449.0,496.9 448.7,499.4 449.3,501.7 449.7,504.0 449.1,506.1 447.8,507.9 448.4,510.2 449.0,512.5 448.6,515.0 448.8,517.3 449.7,519.6 449.3,521.9 448.3,524.1 447.9,526.4 448.3,528.9 447.8,531.2"/><polyline points="447.8,531.2 465.3,529.3 467.3,539.0 469.2,546.8"/><polyline points="431.7,405.8 455.0,403.3"/><polyline points="397.3,430.0 416.7,429.2 433.3,428.3"/><polyline points="411.5,472.5 450.0,469.2 451.7,471.7"/><polyline points="420.8,511.7 448.3,508.3"/><polyline points="462.5,410.0 464.2,421.7 465.8,431.7 466.7,440.0 467.5,445.0 465.8,450.0"/><polyline points="483.3,403.3 486.7,415.0 488.3,425.0 490.0,431.7"/><polyline points="465.0,407.0 483.3,403.3 488.0,402.0"/><polyline points="455.0,456.7 457.6,457.3 460.0,458.3 461.5,456.4 462.4,454.1 463.5,451.9 465.0,450.0 467.3,448.6 470.0,448.3 472.3,447.4 474.7,446.7 477.0,446.0 479.8,445.7 482.5,445.0 483.1,442.7 483.9,440.4 485.8,438.7 486.3,436.3 488.5,434.5 490.0,432.0 492.5,432.0 495.0,432.5 497.1,432.4 499.2,432.3 501.3,432.5 503.7,431.7 506.3,431.3 510.0,431.3 511.5,428.9 512.5,426.3 513.3,423.6 515.0,421.3 517.0,419.1 518.1,416.3 517.9,414.1 518.2,412.1 518.8,410.0 517.9,408.0 517.7,405.9 517.5,403.8 516.8,401.6 516.4,399.4 516.1,397.1 515.0,395.0"/><polyline points="457.5,467.0 488.7,459.2 507.5,453.8 532.5,446.3 549.0,441.7 568.5,433.9 578.0,431.0"/><polyline points="508.8,431.3 509.7,433.3 510.6,435.4 511.3,437.5 512.9,438.9 513.9,440.7 515.0,442.5 513.6,444.1 512.6,445.9 511.3,447.5 509.8,449.5 509.1,451.9 507.5,453.8"/><polyline points="508.8,431.3 510.4,433.4 512.5,435.2 513.8,437.5 515.5,439.6 517.7,441.1 520.0,442.5 522.5,441.2 525.0,440.0 526.5,438.2 527.8,436.2 530.0,435.0 530.4,432.8 530.5,430.4 532.2,428.6 532.5,426.3 534.1,424.6 535.0,422.5 536.2,420.6 536.4,418.2 537.5,416.3 538.8,414.4 539.2,412.1 540.0,410.0 543.8,408.8 542.1,407.5 540.0,407.5 537.2,408.1 535.0,410.0 533.4,411.7 531.3,412.5 528.8,411.3 527.1,412.9 525.0,413.8 521.3,413.8 520.0,416.3 518.8,418.8 516.9,420.2 516.3,422.5 515.0,425.0 512.5,426.3"/><polyline points="518.8,414.5 528.8,411.3 540.0,407.5 555.0,402.5"/><polyline points="451.7,484.5 473.1,480.6 494.5,475.8 514.0,470.9"/><polyline points="504.3,470.9 505.3,468.8 507.7,467.9 508.2,465.4 510.0,464.0 511.4,462.5 512.3,460.5 514.0,459.2 515.7,457.8 516.9,456.0 518.0,454.0 519.6,451.5 521.8,449.5"/><polyline points="514.0,470.9 525.7,465.0 543.2,463.1 556.8,467.0"/><polyline points="514.0,471.9 515.8,473.3 517.7,474.6 520.0,475.2 521.8,476.7 523.7,477.7 525.2,479.0 526.5,480.8 528.4,481.7 529.9,483.2 531.5,484.5 532.9,486.2 534.4,487.9 536.0,489.4 537.8,490.7 539.3,492.3 541.1,493.4 543.0,494.1 545.1,494.3"/><polyline points="494.5,475.8 500.4,488.4 506.2,502.0 508.1,515.7 512.0,521.5"/><polyline points="473.1,480.6 475.0,498.1 477.0,511.8 478.9,525.4 480.9,533.2"/><polyline points="486.7,525.4 512.0,521.5 539.3,515.7 545.1,513.7"/><polyline points="486.7,525.4 484.8,531.2"/><polyline points="558.0,373.8 558.6,376.1 559.7,378.2 561.3,380.0 562.2,382.2 562.8,384.3 563.2,386.5 564.3,388.5 563.7,390.6 563.9,392.8 563.2,394.8 561.9,396.4 561.0,398.2 560.0,400.0 558.7,402.1 556.8,403.6"/><polyline points="552.6,347.6 555.7,355.9 560.9,362.2 564.1,369.6 566.2,379.0"/><polyline points="560.9,335.0 560.7,337.1 561.4,339.2 561.7,341.3 561.9,343.4 562.0,345.5 561.9,347.6 562.0,349.7 562.5,351.8 562.4,353.9 562.7,355.9 563.1,358.0 562.8,360.1 563.0,362.2 563.2,364.3 563.3,366.4 564.2,368.5 564.4,370.6 564.1,372.8 565.1,374.8 565.1,376.9 565.3,379.0 565.8,381.1 566.2,383.2"/><polyline points="565.1,335.0 569.3,341.3 573.5,348.6 576.6,353.8"/><polyline points="560.9,362.2 569.3,360.1 576.6,355.9"/><polyline points="563.0,368.5 571.4,365.4 577.7,363.3 581.9,362.2"/><polyline points="574.6,365.4 576.6,374.8"/><polyline points="579.8,354.9 583.0,356.0 586.1,358.0 587.5,359.9 588.4,362.1 589.2,364.3 586.9,365.0 585.0,366.4 582.9,363.3"/><polyline points="540.0,345.5 542.2,345.0 544.1,343.6 546.2,342.6 548.4,342.2 550.5,341.3 552.7,340.5 554.5,339.0 556.7,338.2 558.8,337.1 560.8,335.9 563.0,335.0"/><polyline points="560.1,340.3 560.6,338.2 561.5,336.2 562.1,334.1 562.2,331.9 562.9,329.8 562.1,327.7 563.3,325.6 562.7,323.5 563.2,321.4 563.1,319.3 562.5,317.3 562.2,315.2 562.8,313.0 562.2,311.0 563.6,309.4 564.4,307.3 565.7,305.6 568.5,304.7 570.5,305.6 572.7,306.1 574.8,306.8 577.1,307.9 578.8,309.8 581.0,311.0 582.4,312.7 583.9,314.4 585.7,315.6 587.3,317.2 589.3,319.0 590.5,321.4"/><polyline points="541.9,344.0 545.5,343.1 547.5,342.7 549.6,342.2 551.7,342.4 553.7,341.6 556.0,341.8 558.0,340.7 560.1,340.3"/><polyline points="395.0,320.0 395.1,322.0 394.9,324.0 395.1,326.0 395.0,328.0 395.4,330.2 395.1,332.6 395.8,334.8 396.1,337.0 396.3,339.3 397.5,343.0 399.1,344.7 400.0,346.8 402.5,347.3 405.0,347.4 407.1,347.2 409.2,347.7 411.3,347.4 413.3,348.5 415.4,349.1 417.5,349.9 420.1,350.1 422.5,351.1 424.6,350.8 426.7,351.1 428.8,350.5 431.2,349.2 433.8,348.6"/><polyline points="495.0,320.0 495.0,322.2 496.6,323.9 497.4,325.8 498.1,327.9 498.3,330.0 498.9,332.8 500.6,335.0 500.9,337.5 502.4,339.5 504.1,341.4 506.0,343.1 508.2,343.9 509.6,345.8 512.3,345.6 515.0,344.9 517.4,344.5 519.7,345.7 522.1,345.8 524.3,346.7 526.6,346.7 528.9,346.6 530.9,345.7 532.9,344.9 534.8,343.2 536.5,341.3 540.1,340.4 540.5,342.4 541.9,344.0"/><polyline points="393.3,668.0 394.1,666.1 393.5,664.0 394.0,662.0 393.9,660.0 394.1,658.0 394.8,656.0 394.7,654.0 395.0,652.0 394.5,650.0 394.2,648.0 395.0,646.0 394.7,644.0 395.1,642.0 395.0,640.0 394.5,638.0 393.7,636.0 394.1,634.0 394.2,632.0 393.3,630.0 392.8,628.1 393.3,626.0 393.6,624.0 393.3,622.0 393.8,620.0 393.5,618.0 394.6,616.0 394.9,614.1 394.1,612.0 395.2,610.0 394.7,608.0 395.0,606.0 394.3,604.0 393.7,602.0 393.0,600.0 393.4,597.9 392.9,595.9 391.6,594.1 392.5,591.9 391.7,590.0 392.2,588.0 392.2,586.0 391.6,584.0 392.4,582.0 391.6,580.0 391.6,578.0 391.7,576.0 392.4,573.9 394.0,572.2 394.7,570.0 395.4,567.8 396.7,566.0 398.2,564.2 399.9,562.5 401.3,560.7 403.3,559.3 404.6,557.5 406.4,556.5 408.1,555.2 410.0,554.3 412.3,553.3 414.5,552.2 416.7,551.0 418.8,550.7 420.8,549.9 422.6,548.7 424.6,548.1 426.7,547.7 428.6,546.8 430.7,547.0 432.6,546.1 434.6,545.8 436.7,546.0 438.7,546.6 440.7,546.4 442.7,545.5 444.7,545.5 446.7,546.0 448.5,547.2 450.8,546.9 452.9,547.5 454.8,548.4 456.7,549.3 458.9,549.7 461.1,549.7 463.3,549.3 465.8,548.7 467.7,547.0 470.0,546.0 472.1,544.6 474.4,543.7 476.7,542.7 477.6,540.4 478.6,538.1 480.0,536.0 482.3,535.0 484.4,533.6 486.7,532.7 488.7,532.1 490.8,531.6 492.9,531.3 494.7,530.0 496.7,529.3 498.7,529.0 500.7,529.0 502.7,528.5 504.7,527.9 506.7,527.7 508.8,528.0 510.7,526.8 512.7,526.6 514.7,526.3 516.7,526.0 520.0,526.9 522.3,526.7 524.4,527.5 526.6,527.7 528.8,528.7 531.0,530.0 533.2,531.0 535.9,532.4 538.1,534.3 538.9,536.7 540.6,538.5 541.4,540.9 542.4,543.3 543.0,545.8 544.7,548.3 546.3,550.8 547.7,552.7 549.5,554.2 551.3,555.7 553.4,557.9 554.6,560.7 556.6,561.9 557.9,563.9 559.5,565.6 561.1,567.3 562.6,569.0 564.4,570.5 567.0,572.0 569.4,573.8 571.9,573.2 574.3,572.2 575.4,569.6 576.8,567.2 577.6,565.1 577.5,562.9 577.6,560.7 576.4,558.7 576.7,556.2 576.0,554.1 574.5,552.1 573.9,549.7 572.7,547.5 570.5,545.4 569.4,542.6 567.4,541.3 566.0,539.3 564.4,537.6 563.0,535.8 561.2,534.3 559.5,532.7 557.8,531.4 556.8,529.6 556.2,527.5 554.6,526.1 553.9,524.1 551.9,522.9 550.7,521.3 549.6,519.5 548.5,517.1 547.4,514.8 545.5,512.9 545.7,510.3 544.7,508.0 545.4,505.9 544.7,503.9 545.2,501.9 544.7,499.8 545.0,497.6 545.8,495.5 545.5,493.2 546.3,490.7 548.7,489.1 549.6,486.6 551.2,484.6 552.1,482.3 553.0,480.0 553.8,477.9 554.7,475.8 555.7,473.8 557.0,472.0 558.8,470.3 559.5,467.9 561.0,466.0 561.9,464.0 563.3,462.4 564.5,460.6 566.0,459.0 567.9,457.2 569.8,455.4 571.0,453.0 572.4,450.7 573.7,448.5 575.5,446.5 576.9,443.9 578.5,441.5 577.3,439.7 575.7,438.2 575.0,436.0 574.8,433.8 573.6,431.9 572.5,430.0 571.3,428.2 571.2,426.1 570.6,424.1 569.6,422.1 570.2,419.7 568.5,417.9 568.5,415.7 568.2,413.5 569.4,411.5 568.8,409.3 569.5,407.3 569.4,405.1 569.4,402.9 568.7,400.8 567.9,398.8 567.5,396.6 566.8,394.4 566.2,392.3 566.8,390.1 565.6,387.9 566.2,385.7 567.6,383.9 567.6,381.5 569.0,379.6 569.5,377.4 570.4,375.5 572.0,374.1 572.9,372.2 574.5,370.8 576.0,369.1 578.2,368.0 579.4,365.9 582.0,366.0 584.4,365.1 585.8,363.6 587.7,362.6 585.6,360.4 584.4,357.7 582.2,356.6 580.7,354.7 579.0,353.0 578.1,350.8 576.1,349.4 577.3,347.4 576.8,344.9 577.8,342.8 578.3,340.6 579.3,338.5 579.4,336.2 580.3,333.9 581.9,332.0 582.7,329.7 584.0,327.0 586.0,324.7 587.6,323.0 588.1,320.8 589.3,318.9 592.0,316.0 594.2,315.4 596.0,314.0 598.0,313.0 600.0,312.0"/><polyline points="558.5,584.5 560.7,583.4 562.4,581.7 564.4,580.4 565.9,578.6 568.0,577.5 569.4,575.5 571.6,573.5 574.3,572.2"/><polyline points="563.0,549.5 566.0,548.5 568.5,551.0 567.5,554.0 564.0,553.5 563.0,549.5"/><polyline points="476.7,668.0 477.1,665.8 477.3,663.5 478.3,661.5 478.4,659.2 478.6,657.0 479.7,654.9 480.0,652.7 481.2,651.1 482.6,649.6 484.5,648.7 485.9,647.2 486.9,645.3 488.9,644.4 490.0,642.7 492.4,641.8 494.5,640.2 497.0,639.5 499.4,638.3 502.0,638.0"/><polyline points="585.5,548.8 586.5,546.8 588.3,545.7 589.9,544.4 592.3,543.6 594.3,541.9 596.6,541.0 598.8,540.3 601.0,541.0 603.2,541.0 603.2,543.1 603.8,545.0 604.3,547.0 605.4,548.8"/><polyline points="598.8,562.1 601.0,563.3 603.2,564.3 605.0,565.5 605.8,567.5 607.6,568.7 609.4,569.9 610.8,571.4 612.1,573.1 609.8,575.3 608.8,573.4 607.2,572.0 605.4,570.9 603.6,569.8 602.1,568.3 601.0,566.5 599.9,564.3 598.8,562.1"/><polyline points="649.7,570.9 651.8,569.9 654.3,570.2 656.3,568.7 658.6,568.7 660.7,567.4 663.0,567.6 665.2,568.2 667.4,567.8 669.6,567.6 671.9,568.6 673.8,570.4 676.3,570.9 678.5,573.1"/><polyline points="652.0,574.0 653.8,575.3 656.0,576.0 654.0,579.0"/><polyline points="668.5,586.4 669.8,584.0 671.8,582.0 674.1,579.8 673.5,582.0 673.3,584.2 672.9,586.4 669.6,588.6 668.5,586.4"/><polyline points="678.0,600.5 678.0,602.5"/><polyline points="676.0,619.0 678.0,619.0 678.0,622.0 676.0,622.0"/><polyline points="294.5,658.0 296.4,657.2 298.0,656.0 300.0,659.0 298.2,660.2 297.0,662.0 298.2,663.9 299.0,666.0"/><polyline points="514.0,660.5 516.0,663.0 518.0,660.5"/><polyline points="516.0,663.0 516.0,665.0"/><polyline points="121.7,0.0 121.4,2.1 122.2,4.1 122.2,6.2 122.1,8.3 122.7,10.4 122.5,12.5 125.0,12.1 127.5,12.4 130.0,12.5 131.6,11.1 133.2,9.5 135.0,8.3 136.4,6.4 138.3,4.9 140.0,3.3 141.9,2.0 143.0,0.0" stroke-width="1.4"/><polyline points="143.0,0.0 144.0,2.1 144.3,4.5 145.0,6.7 147.0,7.7 148.6,9.1 150.0,10.8 152.0,11.4 154.0,11.7 156.0,11.2 158.0,11.7 160.2,11.2 162.2,10.0 164.7,10.3 166.7,9.2 168.9,9.3 170.7,7.8 173.0,8.4 175.0,7.5 177.2,6.8 179.1,5.6 181.2,4.8 183.0,3.3 185.0,0.0" stroke-width="1.4"/><polyline points="153.0,11.7 152.6,14.3 151.7,16.7 151.2,18.7 150.9,20.8 151.0,22.9 150.8,25.0 149.4,27.0 149.5,29.6 148.3,31.7 147.6,34.2 146.7,36.7 147.5,38.6 149.0,40.0 151.2,39.5 153.3,40.0 155.7,39.9 157.8,39.0 160.0,38.3 161.7,39.9 163.3,41.7 164.9,43.1 165.8,45.0 166.9,42.4 168.3,40.0 169.3,37.6 170.0,35.0 168.8,32.6 168.3,30.0 165.0,28.3 167.6,27.2 170.0,25.8 171.8,24.0 173.4,22.0 175.0,20.0 176.2,17.8 177.7,15.8 178.3,13.3 179.8,11.3 181.0,9.1 181.7,6.7 183.0,4.6 184.4,2.5 185.0,0.0" stroke-width="1.4"/><polyline points="141.0,46.0 143.0,49.0 142.0,53.0 143.0,58.0 141.0,56.0 140.0,50.0 141.0,46.0" stroke-width="1.4"/><polyline points="112.0,49.0 113.0,51.0" stroke-width="1.4"/><polyline points="113.0,50.5 113.5,51.5" stroke-width="1.4"/><polyline points="40.8,75.0 40.4,76.4 40.9,77.3 42.4,77.9 42.2,79.1 43.3,79.9 43.7,80.8 43.0,82.3 43.6,83.2 44.0,84.3 45.0,85.0 46.0,85.6 46.6,86.4 46.5,87.8 48.1,87.9 49.0,88.5 48.3,90.3 49.4,90.8 50.0,91.7 51.4,91.5 51.2,93.6 52.0,94.3 53.0,94.6 53.7,95.5 55.2,95.3 55.6,96.4 56.7,96.7 58.2,96.4 58.3,98.1 59.4,98.3 60.5,98.6 61.5,99.0 61.8,100.2 62.3,101.3 63.3,101.7 64.0,102.5 65.2,102.7 66.2,103.1 66.7,104.2 66.8,105.7 67.8,106.2 69.6,105.5 70.0,106.7 71.2,106.5 72.3,106.4 73.1,107.5 73.9,108.2 75.0,108.3 75.8,108.9 76.8,109.3 77.4,110.1 78.6,110.2 79.6,110.5 80.0,111.7 81.2,111.8 81.7,112.9 82.5,113.5 84.0,113.3 84.8,114.0 84.5,116.1 85.7,116.3 86.7,116.7 87.1,117.9 88.7,117.5 89.0,118.8 89.6,119.7 91.0,119.6 91.1,121.1 93.0,120.4 93.3,121.7 94.2,122.5 95.3,123.1 96.6,123.4 96.7,125.0 97.7,125.7 99.2,125.6 99.3,127.6 100.8,127.5 101.7,128.3 102.2,129.6 103.1,130.2 104.8,129.2 105.3,130.6 106.0,131.5 107.3,131.3 108.3,131.7 109.6,131.2 109.9,133.2 111.3,132.4 112.1,132.9 113.4,132.5 113.9,133.8 114.9,134.0 115.4,135.5 116.7,135.0 117.7,136.0 119.0,134.2 120.0,135.2" stroke-width="2.0" stroke-dasharray="3 1"/><polyline points="121.0,142.0 122.2,141.7 123.5,141.7 124.7,141.0 126.0,141.0 127.1,141.7 128.3,141.9 129.5,141.9 130.8,142.0 131.8,142.9 133.0,143.0 134.4,142.9 135.8,143.1 137.3,142.9 138.7,143.3 140.0,144.0 141.5,144.9 141.0,146.8 142.0,148.0 140.7,148.1 139.4,148.3 138.3,148.8 137.2,149.5 136.0,150.0 134.6,150.5 133.3,150.1 132.1,148.8 130.7,148.8 129.4,148.5 128.0,149.0 126.7,148.9 125.5,148.4 124.3,148.1 123.0,148.1 122.0,147.0 121.8,145.7 120.7,144.7 121.4,143.2 121.0,142.0" stroke-width="1.6"/><polyline points="150.0,137.0 151.7,137.1 153.1,136.4 154.7,136.1 156.0,135.0 157.3,135.8 158.9,136.0 160.3,136.6 161.6,137.5 163.0,138.0 164.4,139.4 166.0,140.6 168.0,141.0 167.9,142.8 169.3,144.2 169.0,146.0 167.3,146.0 165.7,146.6 164.0,146.0 162.4,145.5 161.2,144.1 159.2,144.4 158.0,143.0 156.3,143.1 154.8,142.6 153.3,142.1 152.0,141.0 150.8,139.1 150.0,137.0" stroke-width="1.0"/><polyline points="192.5,179.0 192.4,180.6 190.6,181.7 191.3,183.5 190.9,185.1 193.0,185.5 191.8,187.5 193.2,188.1 194.8,188.8 194.7,190.2 193.0,190.8 194.1,192.7 193.8,194.0 193.0,195.0 192.0,196.0 193.8,196.7 193.2,198.3 193.8,199.4 193.9,200.7 194.0,202.0 194.2,203.5 193.2,204.5 192.6,205.6 192.2,206.9 191.5,208.0 192.2,209.1 191.7,210.5 191.2,211.9 191.8,213.0 193.0,214.0 193.6,215.4 192.2,216.3 193.2,217.9 190.4,218.4 191.5,220.0 190.9,221.4 192.8,222.2 192.8,223.5 191.3,225.1 193.0,226.0 192.4,227.1 191.6,228.2 192.3,229.6 191.8,230.7 192.0,232.0 192.3,233.2 193.4,234.2 191.8,236.1 194.0,236.7 194.0,238.0 194.3,239.2 194.1,240.6 196.0,241.3 195.2,242.9 196.0,244.0" stroke-width="1.6"/><polyline points="196.0,186.0 196.5,187.3 197.1,188.4 199.1,188.9 197.8,191.1 199.0,192.0 197.8,192.9 196.8,193.9 198.3,195.8 197.2,196.7 197.0,198.0 197.0,199.5 197.5,200.8 199.1,201.5 199.7,202.6 200.0,204.0 200.1,205.4 198.6,206.2 198.7,207.6 199.2,209.1 198.0,210.0 198.3,211.3 199.2,212.4 198.9,214.0 199.5,215.2 201.0,216.0 201.1,217.4 200.5,218.5 199.0,219.3 200.6,221.2 199.0,222.0 199.1,223.3 200.1,224.3 200.6,225.5 201.9,226.4 201.0,228.0 201.0,229.3 199.5,230.2 199.0,231.3 198.5,232.5 199.0,234.0 199.8,235.1 199.2,236.9 200.6,237.7 200.4,239.3 202.0,240.0" stroke-width="1.6"/><polyline points="203.0,191.0 203.1,192.4 204.9,193.0 205.7,194.1 205.6,195.7 206.0,197.0 205.8,198.6 203.9,199.6 205.3,201.8 204.0,203.0 205.2,203.9 205.4,205.3 205.8,206.6 206.5,207.8 207.0,209.0 206.6,210.5 206.1,212.0 204.5,213.2 205.0,215.0 206.5,215.8 206.9,217.0 207.8,218.1 207.3,219.9 208.0,221.0 206.8,222.3 206.2,223.7 206.1,225.4 206.0,227.0 207.0,228.3 206.7,230.1 206.5,231.8 208.0,233.0 207.6,234.5 207.6,236.2 205.5,237.2 206.0,239.0" stroke-width="1.4"/><polyline points="194.7,190.2 197.1,191.8 200.0,192.0 202.2,192.0 203.8,194.1 206.0,194.0 207.0,196.0 207.4,198.3 209.0,200.0 209.1,202.0 208.9,204.0 209.8,206.0 209.1,208.0 209.3,210.0 208.9,212.0 208.7,214.0 209.3,216.1 208.7,218.1 208.0,220.0 208.1,222.0 208.0,224.0 208.7,226.0 208.2,228.1 209.0,230.0 208.5,232.4 207.3,234.6 207.0,237.0" stroke-width="1.4"/><polyline points="206.0,237.4 204.7,238.4 205.8,240.0 204.3,241.0 206.2,242.7 204.7,243.7 205.4,245.1 205.3,246.4 203.9,247.4 203.7,248.7 203.6,250.0 205.2,251.0 204.8,252.4 204.0,253.8 205.9,254.7 205.5,256.1 204.8,257.6 207.0,258.4 206.0,259.9 205.9,261.2 205.0,262.5 206.3,263.6 207.3,264.8 206.6,266.1 207.5,267.3 206.6,268.6 208.1,269.7 207.1,271.1 207.2,272.4 207.4,273.7 206.0,274.8 205.3,276.0 205.9,277.3 206.8,278.7 205.4,279.8 205.7,281.1 206.0,282.4 204.9,283.9 205.9,285.0 207.1,286.1 206.7,287.4 208.1,288.4 206.7,290.0 207.7,291.1 208.1,292.3 208.2,293.6 208.4,295.1 210.5,295.3 210.5,296.9 210.8,298.3 210.9,299.9 212.7,300.3 213.3,301.5 214.5,302.4 215.6,303.3 216.2,304.5 216.7,305.8 217.2,307.1 218.9,308.0 217.9,309.9 219.7,310.7 218.8,312.5 219.4,313.8" stroke-width="1.4"/><polyline points="185.7,244.2 188.1,244.6 190.2,245.9 192.5,246.4 192.7,248.7 193.6,250.9 191.4,252.8 190.2,255.4 189.6,257.6 188.8,259.8 188.6,262.2 188.0,264.4 186.9,266.6 186.4,264.4 185.6,262.2 185.7,259.9 186.0,257.6 185.3,255.4 186.0,253.2 185.7,250.9 185.4,248.7 185.8,246.4 185.7,244.2" stroke-width="1.4"/><polyline points="194.7,286.9 196.0,288.6 197.9,289.6 199.2,291.3 200.0,293.2 201.1,294.8 201.2,297.0 202.2,298.8 203.7,300.3 204.1,302.3 205.1,304.1 205.8,306.0 207.3,307.5 208.2,309.3 209.0,311.7 210.9,313.6 211.6,316.1 208.8,316.1 206.0,316.1 204.9,314.4 203.8,312.7 202.3,311.2 201.5,309.3 200.9,307.3 200.1,305.5 198.2,304.2 198.5,301.8 197.0,300.3 196.3,298.1 196.0,295.8 195.3,293.5 194.7,291.3 194.6,289.1 194.7,286.9" stroke-width="1.4"/><polyline points="190.5,172.3 196.7,180.0 203.3,188.3 206.7,193.3 208.3,200.0 208.0,210.0" stroke-width="1.4"/><polyline points="540.0,200.0 540.8,200.8 541.8,201.4 543.0,201.6 544.2,201.9 544.1,203.9 545.5,203.9 546.3,204.7 547.1,205.6 548.6,205.6 549.4,206.4 549.3,208.4 551.0,208.1 551.6,209.3 552.6,209.9 553.8,210.4 554.9,210.9 556.3,209.7 557.4,210.4 558.7,210.1 559.7,211.8 561.0,211.0 562.1,211.8 563.5,211.3 564.5,212.1 565.5,213.1 567.2,211.5 567.9,213.8 569.3,213.1 570.6,213.3 571.3,212.2 572.1,211.0 573.2,210.8 574.4,210.8 575.9,211.5 576.6,210.1 577.7,209.9 578.9,208.7 580.6,209.7 581.9,208.9 582.7,209.9 583.9,209.8 584.8,210.6 586.1,210.3 586.9,211.3 588.2,211.0 589.4,210.8 590.0,212.6 591.4,211.8 592.4,212.3 593.1,213.8 594.5,213.1 595.4,214.1 597.3,213.4 597.7,215.1 598.3,216.4 599.1,217.5 600.8,217.2 602.3,217.3 601.7,219.7 603.1,219.9 603.9,220.8 605.0,221.4 604.6,222.9 605.4,223.8 605.8,225.0 607.1,225.6" stroke-width="1.5"/><polyline points="605.0,223.5 605.5,224.6 605.9,225.7 605.7,227.1 607.0,227.7 606.6,229.3 607.7,230.0 609.3,230.5 609.2,231.9 608.7,233.2 610.6,234.0 609.4,235.5 610.4,236.5 610.2,237.8 609.7,239.1 610.5,240.1 610.6,241.3 611.3,242.4 612.5,243.4 611.9,244.7 613.1,245.7 612.5,247.0 612.9,248.1 612.8,249.4 612.3,250.7 612.4,251.9 613.4,252.9 613.4,254.2 613.0,255.6 615.5,256.2 615.6,257.5 614.3,259.0 614.3,260.3 615.5,261.3 616.6,260.9 617.3,259.7 619.1,260.7 619.6,259.2 620.4,258.3 621.7,258.0 622.7,257.2 622.5,255.4 623.8,255.0 624.7,254.1 625.7,253.7 626.6,252.8 628.2,254.3 629.3,254.0 630.1,252.9 630.9,251.8 631.9,251.3 633.3,251.9 634.4,251.9 635.5,251.7 636.4,250.8 637.7,251.2 638.3,249.5 639.5,249.6 641.0,250.6 642.0,250.0 642.7,248.7 643.6,247.8 644.4,246.8 645.9,247.8 647.1,247.8 648.1,247.4 649.0,246.6 650.7,246.7 650.3,244.5 651.3,243.9 652.9,243.7 653.2,242.4 652.8,241.4 653.6,239.9 652.9,239.0 651.7,238.2 651.8,237.0 651.1,236.1 650.2,235.2 649.0,235.4 647.9,235.3 647.1,234.2 646.0,233.8 644.8,234.0 644.0,233.0 642.2,233.9 641.9,231.9 640.6,231.9 639.9,230.7 638.4,231.0 637.0,231.1 636.4,229.8 635.0,230.3 633.7,230.6 632.8,228.2 631.3,229.3 630.1,228.8 629.6,230.5 627.6,229.1 626.9,230.3 625.5,230.0 624.7,231.1 623.8,231.9 623.1,233.1 621.2,231.9 620.9,234.0 619.6,234.0 618.5,233.6 617.2,233.6 616.3,232.8 615.5,231.9 615.0,230.8 613.9,230.4 613.6,229.0 612.0,229.1 611.7,227.8 609.9,228.1 609.2,227.2 609.2,225.6 607.8,225.8 607.4,224.0 605.5,225.1 605.0,223.5" stroke-width="1.4"/><polyline points="413.0,0.0 412.8,1.4 414.4,2.2 413.9,3.6 415.1,4.5 415.0,5.8 414.5,7.3 415.0,8.4 415.1,9.7 416.5,10.6 416.5,11.9 417.0,13.0 415.1,13.2 414.7,15.0 414.0,16.3 413.0,17.6 413.3,19.3 413.6,20.9 413.4,22.4 411.9,23.5 410.5,24.7 410.6,26.2 410.7,27.7 410.5,29.2 410.7,30.6 410.3,32.0 410.3,33.5 409.5,34.9 410.5,36.3 410.7,37.7 412.0,39.0 412.1,40.4 410.1,42.1 411.2,43.4 411.6,45.3 414.1,44.6 414.7,46.3 414.6,47.9 415.8,49.1 416.1,50.5 416.2,52.0 414.7,52.7 414.3,53.9 414.8,55.6 414.3,56.8 413.3,57.7 412.8,59.1 411.9,60.4 411.6,61.8 411.9,63.4 412.5,64.5 413.1,65.6 414.9,65.5 415.7,66.4 416.2,67.6 417.6,67.0 419.0,67.5 420.5,68.3 421.9,67.6 422.0,69.2 423.0,69.8 425.0,69.6 425.6,70.7 426.1,71.9 427.2,73.3 428.6,73.9 430.4,73.3 430.8,72.0 431.9,71.4 432.8,70.6 433.7,69.8 434.7,69.1 435.9,68.1 437.6,68.5 439.1,68.6 440.3,67.6 441.7,68.8 443.2,67.0 444.6,68.5 446.1,67.2 447.5,67.6 448.5,69.0 450.2,67.1 451.0,69.5 452.6,67.9 453.7,68.9 455.0,69.1 455.8,70.4 457.6,69.5 458.6,70.4 459.6,71.2 460.9,71.5 462.0,72.0 462.9,72.9 463.7,73.9 465.3,73.8 466.5,74.3 466.9,75.9 468.4,76.0 468.8,77.5 470.0,78.0 470.3,79.6 472.3,79.1 473.6,79.4 473.3,82.0 475.5,81.1 475.5,83.1 476.8,83.6 478.0,84.0 479.2,84.7 480.4,85.1 481.7,85.7 482.2,87.2 482.9,88.6 485.2,87.5 485.1,90.1 486.7,90.0 487.9,90.4 489.2,90.6 490.7,90.3 491.1,92.7 492.6,92.4 493.4,94.0 495.0,93.3 496.2,93.7 497.4,94.2 498.1,95.8 499.6,95.7 500.7,96.2 502.0,96.4 503.3,96.7 503.6,98.2 506.0,98.2 506.3,99.6 506.7,101.0 508.2,101.6 508.3,103.3 509.5,104.1 508.3,106.1 509.7,106.8 511.2,107.4 511.4,108.7 511.7,110.0 513.1,110.4 514.2,111.3 515.3,112.1 515.6,114.1 517.4,113.9 518.3,115.0 519.9,114.5 520.8,115.7 521.5,117.4 522.8,117.6 524.5,116.9 525.6,117.6 526.7,118.3 528.0,118.6 529.0,119.5 530.1,120.1 531.0,121.3 532.8,120.4 534.0,120.7 535.0,121.7 536.4,121.9 537.0,123.6 539.1,122.4 539.2,125.2 541.2,124.1 541.9,125.6 543.3,125.8 544.1,127.4 545.4,127.4 547.0,126.9 548.0,128.0 549.4,128.1 550.1,129.6 551.7,129.2 553.1,128.9 554.6,128.4 556.0,128.5 557.2,130.3 558.6,129.6 560.0,130.0 561.3,130.2 562.6,130.2 563.9,129.6 565.1,130.8 566.4,129.6 567.7,130.3 569.0,130.0 569.8,128.8 570.9,128.3 572.3,128.3 574.0,128.8 574.4,126.9 575.7,126.8 577.0,126.6 577.4,124.5 579.0,125.0 580.5,125.4 580.8,123.0 582.2,123.0 583.7,123.7 584.4,122.1 585.6,121.6 587.0,122.0 586.1,120.9 586.3,119.5 586.1,118.3 586.0,117.0 584.3,117.0 583.7,115.8 582.5,115.3 582.6,113.4 581.9,112.3 580.6,111.9 579.3,111.5 579.0,110.0 577.3,109.9 577.5,108.0 577.1,106.6 575.8,106.2 574.2,106.0 573.8,104.7 573.5,103.2 572.0,103.0 571.2,102.0 571.0,100.5 569.3,100.2 569.3,98.5 567.7,98.1 567.0,97.0 567.1,95.4 564.8,95.5 565.6,93.5 564.0,93.1 563.8,91.7 562.4,91.2 562.0,90.0 560.6,89.3 561.0,87.6 560.0,86.7 558.6,86.0 558.6,84.5 557.0,83.9 558.1,81.8 556.0,81.5 556.0,80.0 555.9,78.7 555.9,77.4 556.0,76.1 554.9,75.0 555.4,73.6 554.6,72.5 555.2,71.1 554.0,70.0 554.9,68.4 553.6,67.4 553.7,66.0 553.5,64.7 552.7,63.6 552.4,62.3 550.4,61.6 551.0,60.0 549.3,59.2 550.4,57.4 548.5,56.7 549.6,54.8 548.4,53.8 547.1,52.8 546.6,51.6 547.0,50.0 546.7,48.7 546.5,47.4 545.6,46.5 544.4,45.8 544.3,44.4 541.7,44.7 542.0,43.0 541.1,41.5 541.5,40.3 541.7,39.0 544.1,38.2 544.1,36.9 543.3,35.5 542.7,34.0 544.0,33.0 544.9,31.5 543.5,30.4 543.2,29.1 542.5,27.9 543.9,26.4 543.3,25.1 543.5,23.8 542.4,22.6 543.0,21.2 542.0,20.0 540.8,19.1 540.5,17.7 539.2,17.0 540.0,14.9 538.4,14.3 538.3,12.8 537.0,12.0 536.1,10.9 534.3,10.7 533.5,9.5 533.8,7.2 532.0,7.0 530.4,6.4 529.6,8.2 528.3,8.4 527.2,9.1 526.0,9.6 524.5,9.4 523.4,10.0 522.0,10.0 520.5,9.7 519.5,10.6 518.3,11.3 516.7,10.4 515.4,10.9 514.5,12.3 513.4,13.2 512.0,13.0 510.6,12.8 510.1,11.2 508.7,10.9 507.2,11.0 507.0,8.8 505.2,9.2 503.8,9.0 503.0,7.8 502.0,7.0 501.3,5.6 500.2,5.1 498.7,5.4 497.8,4.3 496.1,4.9 495.4,3.6 493.9,3.9 493.6,1.8 491.6,2.9 490.6,2.1 490.7,-0.5 489.0,0.0" stroke-width="1.6"/><polyline points="488.0,91.0 490.1,91.1 492.0,90.6 494.0,90.0 496.1,91.9 498.0,94.0 496.8,96.2 495.0,98.0 493.0,97.4 491.0,97.3 489.0,97.0 488.9,95.0 488.5,93.0 488.0,91.0" stroke-width="1.6"/><polyline points="505.0,3.0 505.3,4.7 507.1,4.6 507.8,5.8 509.1,6.3 509.5,7.9 510.7,8.5 512.0,9.0 513.0,8.2 513.9,7.1 515.0,6.4 516.0,5.7 518.0,6.6 518.7,5.2 520.0,5.0 521.4,5.6 521.7,7.1 522.0,8.5 522.6,9.7 524.6,9.8 525.8,10.4 526.0,12.0 526.4,10.8 527.8,10.0 526.7,8.1 528.3,7.4 529.9,6.8 529.5,5.2 530.0,4.0" stroke-width="1.6"/><polyline points="569.0,17.0 569.3,14.6 571.0,13.0 572.5,11.3 573.2,9.1 574.0,7.0 574.2,4.5 575.4,2.4 576.0,0.0" stroke-width="1.6"/><polyline points="596.0,0.0 596.1,2.0 596.6,4.0 596.2,6.0 596.2,8.1 597.0,10.0 595.7,11.9 594.4,13.7 593.8,15.9 593.2,18.1 592.0,20.0 590.2,21.4 588.3,22.6 585.9,22.8 583.8,23.6 582.0,25.0 580.0,24.3 578.0,24.6 576.0,25.3 574.0,24.7 572.0,25.0 571.6,22.9 569.7,21.7 569.6,19.4 568.0,18.0" stroke-width="1.6"/><polyline points="296.2,114.7 296.5,113.7 297.2,112.8 298.2,112.1 297.8,110.8 298.3,109.9 298.9,109.0 298.6,107.7 299.6,107.0 300.0,106.0 300.9,105.4 301.8,104.9 301.5,103.2 302.5,102.8 302.9,101.7 304.6,102.0 305.2,101.1 304.9,99.5 307.0,100.0 307.0,98.6 307.9,99.6 309.0,99.1 310.0,99.1 311.1,98.2 312.0,99.0 313.3,98.5 313.9,99.8 315.2,99.3 316.0,100.0 316.9,100.4 317.7,101.3 319.2,101.6 319.4,103.1 320.3,104.0 321.0,105.0 321.2,106.3 322.4,106.7 322.9,107.8 323.8,108.4 324.5,109.3 324.3,110.4 324.9,111.3 325.4,112.3 324.2,113.5 324.3,114.5 324.8,115.5 325.2,116.5 325.8,117.4 325.1,118.4 324.3,119.2 323.4,119.8 322.7,120.8 321.0,120.4 320.4,121.5 319.3,121.5 318.4,120.4 317.1,121.1 316.2,119.8 315.0,120.5 314.0,119.7 312.8,121.3 311.7,120.8 310.7,119.4 309.6,120.1 308.7,120.7 307.2,120.4 306.9,122.0 306.4,123.1 305.0,123.0 304.0,123.4 303.0,123.8 302.7,125.2 301.6,125.5 300.2,125.6 299.6,124.5 299.4,122.9 298.0,123.0 297.8,121.8 296.2,121.5 296.2,120.1 295.7,119.0 295.4,117.9 295.3,116.9 296.8,115.8 296.2,114.7" stroke-width="1.6"/><polyline points="312.3,116.1 313.4,115.8 314.6,116.0 315.8,115.8 316.7,114.5 318.0,115.0 319.1,114.0 320.2,114.7 321.3,114.4 322.5,115.4 323.6,115.2 324.7,114.9 325.8,114.7 326.8,115.1 327.7,115.7 329.1,115.0 329.9,115.9 331.1,115.7 331.6,117.5 333.2,116.2 333.9,117.4 334.4,118.6 336.2,118.1 336.4,119.7 337.7,119.9 338.5,120.7 339.3,121.5 340.6,121.4 340.6,119.5 341.6,118.9 343.0,119.0 344.4,119.4 345.2,118.2 346.0,117.0 347.4,117.4 348.7,117.8 349.6,117.3 349.8,115.4 350.9,115.5 351.6,114.5 352.8,114.7 353.4,115.7 353.0,116.8 354.1,117.7 353.3,119.0 354.8,119.8 354.1,121.0 354.8,122.0 353.5,123.1 354.3,124.1 354.3,125.1 353.9,126.1 354.1,127.2 354.1,128.2 354.1,129.4 354.7,130.6 353.1,131.5 352.4,132.6 352.2,133.7 353.0,135.0 352.6,136.1 353.2,137.2 353.2,138.4 352.5,139.5 352.5,140.6 352.8,141.7 354.1,142.1 354.6,143.2 355.0,144.2 355.4,145.3 355.6,146.6 356.8,147.1 357.5,148.0 358.9,148.3 358.3,150.2 359.6,150.6 360.2,151.6 360.9,152.5 360.9,153.6 360.1,154.4 359.7,155.3 358.6,155.9 359.4,157.4 358.2,157.9 357.2,157.5 355.9,157.9 355.2,156.6 353.8,157.5 352.9,156.7 352.0,156.0 350.8,156.1 349.7,155.3 348.4,156.3 347.4,155.2 346.7,156.0 346.3,157.2 345.4,157.8 344.3,158.3 342.9,158.4 342.8,159.9 342.0,160.6 340.5,160.4 340.3,162.4 338.6,161.7 338.0,163.0 336.9,163.1 335.9,163.2 335.1,161.9 334.2,161.4 333.0,162.0 331.9,163.0 330.7,162.4 329.6,161.4 328.5,161.9 327.4,162.2 326.3,162.5 325.3,162.9 324.2,162.9 323.1,161.7 322.0,162.0 320.9,161.0 319.9,161.0 318.8,161.9 317.7,161.9 316.3,161.7 316.1,160.4 316.1,159.0 315.5,158.1 314.5,157.5 313.2,157.2 313.0,156.0 312.3,155.2 312.6,154.2 313.2,153.3 312.9,152.0 314.5,151.4 314.7,150.4 313.7,148.9 314.3,148.0 315.0,147.1 316.2,147.5 316.9,146.0 318.3,147.0 319.0,145.8 320.0,145.5 321.2,145.7 322.4,145.5 323.4,144.3 324.6,144.2 325.8,144.4 325.8,143.3 327.0,142.8 327.5,141.9 326.9,140.5 328.7,140.2 328.5,139.0 327.4,138.9 326.2,138.9 325.2,138.2 324.4,136.9 323.0,137.5 322.0,137.1 320.9,136.8 320.0,136.0 319.0,135.6 317.7,136.3 317.3,135.2 316.0,134.9 315.5,133.9 315.2,132.6 314.3,132.0 313.2,131.6 312.3,130.9 312.9,129.9 313.7,129.2 314.9,128.9 315.5,127.9 315.5,126.4 317.2,126.6 317.7,125.5 319.0,125.9 319.9,125.4 321.0,125.2 322.0,124.9 322.8,123.9 324.0,124.0 324.7,122.9 325.8,122.8 324.5,123.3 323.4,122.6 322.2,122.4 321.3,120.9 320.0,121.5 319.0,120.5 317.7,120.1 316.8,119.4 316.0,118.6 314.6,118.7 314.1,117.4 313.4,116.4 312.3,116.1" stroke-width="1.6"/><polyline points="280.0,125.5 281.2,125.6 281.8,126.8 282.8,127.3 283.7,128.1 285.0,128.0 286.2,127.9 287.2,128.5 288.2,128.8 289.1,129.4 289.6,130.8 290.8,130.9 292.1,131.1 292.3,132.5 293.5,132.8 294.2,133.7 294.8,134.7 295.0,136.0 296.2,136.3 297.1,137.0 298.6,136.5 299.3,137.5 300.4,137.8 301.0,139.0 301.7,140.1 302.7,140.5 303.7,140.9 304.7,141.4 305.8,141.7 307.0,141.7 306.7,143.0 307.5,143.8 308.9,144.1 308.4,145.6 309.5,146.1 310.0,147.0 310.0,148.3 310.8,149.2 311.5,150.2 312.1,151.3 312.3,152.5 312.9,153.4 313.5,154.2 314.3,154.9 313.5,156.4 314.0,157.3 315.0,158.0 314.7,159.5 315.7,160.3 316.5,161.2 316.7,162.4 317.7,163.2 319.0,163.0 319.7,164.5 320.9,164.5 322.2,164.5 323.2,165.0 324.0,166.0 325.0,166.4 326.2,166.3 327.1,167.0 328.0,167.7 329.2,167.7 330.4,167.5 331.2,168.6 331.7,169.5 332.6,170.2 333.1,171.1 333.6,171.9 333.8,173.0 334.0,174.0 335.3,174.7 334.8,176.3 334.7,177.6 336.3,178.2 336.6,179.4 337.5,178.5 338.4,177.6 337.2,175.8 337.9,174.8 339.0,174.0 340.0,173.4 340.6,172.5 340.7,171.4 340.4,170.1 341.3,169.4 342.0,168.6 343.0,169.4 343.9,169.5 345.0,169.4 346.0,168.3 347.0,169.6 348.0,169.0 349.1,168.9 350.1,169.7 351.3,168.7 352.2,170.5 353.3,169.9 354.4,170.3 355.5,170.0 356.4,169.1 357.7,169.6 358.8,169.2 359.9,168.8 360.8,168.1 362.0,168.0 363.1,168.1 363.9,167.1 364.9,166.7 365.8,166.2 367.1,166.9 367.8,165.5 369.0,165.9 370.0,166.4 370.9,167.0 370.6,168.5 371.3,169.2 372.0,170.0 372.5,171.0 373.9,171.5 373.8,172.9 374.3,174.0 375.2,174.5 376.3,175.0 377.1,175.6 377.0,177.0 377.2,178.5 379.3,178.0 379.7,179.4 379.6,178.2 379.8,177.1 380.7,176.2 379.9,174.9 381.0,174.0 381.2,172.9 381.3,171.8 382.5,170.9 381.2,169.4 382.4,168.6 383.4,168.0 384.6,168.0 386.0,168.5 386.9,167.4 388.0,167.0 389.0,166.7 390.2,166.9 391.0,165.9 392.0,165.2 393.2,165.9 394.1,166.4 394.7,167.7 395.8,167.9 397.0,168.0 398.2,168.3 398.5,169.6 399.2,170.5 400.7,170.3 401.3,171.3 402.2,172.0 403.3,172.1 404.4,172.5 405.3,173.1 406.0,174.0 407.3,173.9 408.2,174.6 409.4,174.5 410.1,175.6 411.4,175.5 412.1,176.7 411.9,177.9 412.5,178.9 413.9,179.6 412.7,181.1 413.5,182.0 414.4,183.0 414.1,184.2 414.2,185.3 414.9,186.3 414.8,187.5" stroke-width="1.6"/><polyline points="316.4,84.2 316.8,82.9 318.3,83.5 319.1,82.8 320.3,82.8 320.3,81.0 321.1,80.4 322.6,80.7 323.3,80.0 323.7,78.8 324.8,78.6 325.9,78.8 326.8,78.1 328.0,78.7 328.8,77.1 329.9,77.2 331.2,78.5 332.0,77.2 333.1,77.3 333.8,76.4 335.3,77.0 336.0,76.2 336.5,74.7 337.8,75.1 338.7,74.5 339.8,74.3 340.0,72.8 341.5,73.2 341.7,71.7 342.8,71.6 343.4,70.6 344.4,70.3 345.6,70.3 346.1,71.7 347.6,71.0 348.4,71.7 347.7,73.1 349.2,73.8 349.2,74.9 349.8,75.9 348.8,76.7 349.0,77.8 350.0,79.0 348.8,79.8 348.5,80.8 349.3,82.0 348.4,82.8 348.7,84.1 346.7,84.3 347.0,85.6 347.1,86.8 346.2,87.5 345.6,88.4 346.8,88.9 346.5,90.6 347.7,91.2 349.1,91.5 348.5,93.4 349.8,93.9 351.1,94.4 351.2,95.6 352.1,96.2 351.2,97.9 352.9,98.2 352.6,99.5 352.0,100.3 352.2,101.7 351.0,102.0 350.0,102.6 349.8,103.7 348.8,103.8 347.8,104.2 346.8,104.3 345.9,104.6 344.8,104.5 344.1,105.8 342.9,105.1 341.8,105.2 340.7,105.7 339.5,104.3 338.4,104.1 337.3,105.1 335.9,105.5 335.1,104.9 334.7,103.3 333.6,103.1 332.2,103.7 331.7,102.3 331.4,101.1 331.1,99.9 329.5,99.6 328.7,98.8 328.4,97.5 327.6,96.7 327.5,95.2 325.6,95.5 324.9,94.7 323.9,94.0 323.8,92.6 322.8,92.0 322.0,91.2 320.9,91.1 320.2,90.3 318.9,90.4 318.4,89.3 317.8,88.4 318.5,87.0 317.3,86.2 316.3,85.4 316.4,84.2" stroke-width="1.6"/><polyline points="320.0,86.0 321.2,86.9 321.8,84.5 323.1,86.1 323.9,84.5 325.2,86.3 326.0,85.0 326.8,83.7 328.1,85.6 329.1,84.9 330.1,85.2 331.2,85.3 332.0,84.0" stroke-width="1.6"/><polyline points="324.0,92.0 324.9,91.5 326.0,91.6 327.0,91.3 328.0,91.2 329.0,91.0 330.0,91.0 331.1,91.2 331.9,90.1 333.1,90.8 333.8,89.2 334.9,89.7 336.0,90.0" stroke-width="1.6"/><polyline points="330.0,97.0 331.0,97.0 332.1,97.6 333.1,97.9 334.0,96.2 335.0,97.3 336.0,97.1 337.0,96.5 338.0,96.8 338.9,95.4 339.9,95.2 341.0,95.9 342.0,96.7 343.0,95.5 344.0,96.0" stroke-width="1.6"/><polyline points="336.0,80.0 336.8,79.0 338.1,80.0 338.9,79.0 339.9,78.5 341.0,79.0 342.0,78.8 343.0,78.6 344.0,78.4 345.0,78.1 346.0,78.0" stroke-width="1.6"/><polyline points="334.0,88.0 334.2,89.1 334.6,90.1 335.7,90.6 336.3,91.4 337.1,92.1 336.4,93.8 338.0,94.0 339.0,94.6 339.8,95.2 340.2,96.3 340.8,97.1 341.2,98.1 341.9,98.8 342.0,100.0" stroke-width="1.6"/><polyline points="339.0,70.0 340.1,69.7 340.8,68.8 341.7,68.2 342.6,67.7 343.0,66.4 344.0,66.0 345.1,65.6 346.2,65.4 347.2,64.9 348.0,64.0 347.5,65.0 347.6,66.1 346.9,67.0 345.8,67.8 346.0,69.0 345.2,70.0 344.1,70.4 342.7,70.3 342.0,71.5 341.0,72.0 339.8,71.2 339.0,70.0" stroke-width="1.6"/><polyline points="352.0,70.0 352.3,69.0 353.4,68.5 353.9,67.7 354.4,66.8 355.0,66.0 355.9,66.6 355.9,67.8 356.5,68.6 357.4,69.2 358.0,70.0 357.4,70.8 357.1,71.8 356.7,72.8 355.7,73.3 355.0,74.0 354.5,73.1 353.4,72.7 353.5,71.4 352.3,71.0 352.0,70.0" stroke-width="1.6"/><polyline points="355.0,67.5 356.4,67.8 356.3,65.7 357.1,64.9 359.1,66.2 359.0,64.1 359.8,63.4 361.3,63.8 362.0,63.0 363.2,63.2 363.6,64.8 365.3,64.0 365.5,65.9 367.2,65.1 368.0,66.0 368.4,67.0 368.4,68.2 369.4,68.8 369.5,69.9 370.5,70.5 372.3,70.6 372.0,72.0 372.1,73.4 373.3,73.8 374.5,74.3 375.4,75.0 375.0,76.8 376.1,77.3 377.0,78.0 377.0,79.5 378.0,80.1 378.4,81.2 379.7,81.5 380.2,82.6 381.1,83.3 382.0,84.0 383.0,84.8 382.1,86.4 383.9,86.8 383.4,88.3 383.6,89.4 385.0,90.0 384.4,90.9 385.1,92.2 383.3,92.8 383.3,93.9 384.0,95.2 383.0,96.0 382.8,97.4 381.3,97.3 381.1,98.8 379.1,97.9 378.8,99.3 378.0,100.0 377.0,100.3 376.1,100.9 374.9,100.7 373.7,100.5 373.1,102.1 372.0,102.0 370.9,101.9 370.1,101.2 368.9,101.4 368.1,100.5 367.0,100.2 366.0,100.0 365.1,99.4 364.6,98.4 363.5,98.0 362.1,98.0 362.5,95.8 361.0,96.0 360.2,95.3 359.7,94.4 359.1,93.5 359.5,92.0 359.0,91.2 357.6,90.8 357.0,90.0 356.6,89.0 355.7,88.2 357.3,86.8 355.5,86.1 356.1,85.0 355.5,84.1 355.2,83.1 355.1,82.1 354.5,81.1 355.0,80.0 354.0,79.0 355.1,77.9 355.7,76.9 355.3,75.8 354.3,74.8 355.4,73.8 354.0,72.7 354.8,71.7 355.7,70.6 355.9,69.6 354.9,68.5 355.0,67.5" stroke-width="1.6"/><polyline points="358.0,74.0 359.5,74.4 360.5,74.0 361.4,73.3 362.0,72.0 362.6,70.6 364.1,71.2 364.9,70.3 366.0,70.0" stroke-width="1.6"/><polyline points="360.0,82.0 361.1,82.3 362.2,82.4 362.9,80.7 364.2,82.4 365.0,81.0 365.9,80.1 367.1,81.0 367.8,79.4 369.1,80.8 370.0,80.0" stroke-width="1.6"/><polyline points="362.0,90.0 363.0,89.5 364.2,90.7 365.1,90.3 365.9,88.7 367.1,90.0 368.0,89.0 369.1,89.2 369.8,87.6 371.2,89.6 371.9,87.8 372.9,87.7 374.0,88.0" stroke-width="1.6"/><polyline points="366.0,96.0 367.0,96.5 367.9,95.1 368.9,95.0 370.0,95.9 370.9,94.5 372.0,95.5 373.1,96.1 374.1,96.0 374.9,94.2 376.0,95.6 377.0,95.1 378.0,95.0" stroke-width="1.6"/><polyline points="370.0,76.0 370.3,77.0 370.8,77.9 370.9,79.1 373.0,78.8 373.0,80.0 374.4,80.2 373.6,82.1 375.1,82.2 375.6,83.0 376.0,84.0" stroke-width="1.6"/><polyline points="380.0,93.0 380.7,91.9 381.7,91.6 383.1,92.1 383.8,90.9 384.7,90.4 386.0,90.7 386.9,90.2 388.0,90.0 389.1,89.7 390.1,90.3 390.8,91.4 392.2,90.3 393.2,90.6 394.2,90.6 395.1,91.2 396.0,92.0 397.3,91.9 397.3,93.9 398.9,93.4 399.0,95.1 400.8,94.1 400.9,96.0 402.2,95.9 402.9,96.8 404.0,97.0 404.4,98.0 405.7,98.4 406.4,99.2 406.4,100.6 407.9,100.7 408.0,102.0 407.4,103.4 405.8,102.5 404.9,103.3 404.2,104.4 403.0,104.5 401.6,104.3 401.2,105.9 400.0,106.0 398.9,106.6 398.0,106.0 396.9,106.4 396.0,105.9 394.9,106.4 394.1,104.9 393.1,104.7 392.0,105.5 391.0,105.3 390.0,105.0 388.8,104.9 388.4,103.2 387.3,102.8 386.1,102.7 384.7,103.1 383.7,102.6 383.2,101.0 382.0,101.0 381.1,100.2 381.9,98.9 381.1,98.0 380.1,97.2 380.2,96.1 381.3,94.8 379.9,94.1 380.0,93.0" stroke-width="1.6"/><polyline points="384.0,97.0 385.0,97.2 386.0,96.9 386.9,98.2 388.1,97.0 389.0,97.6 390.0,97.4 391.0,97.7 392.0,98.0 392.9,99.3 394.1,97.3 395.0,98.2 396.1,97.8 397.0,98.3 397.9,99.9 399.1,98.5 400.0,99.0" stroke-width="1.6"/><polyline points="386.0,102.0 387.0,102.1 388.0,101.6 389.1,101.0 390.0,102.6 391.0,101.6 392.0,101.8 393.0,102.1 394.0,102.8 395.0,102.5 395.9,103.7 397.0,102.5 397.9,103.8 398.9,103.9 400.0,102.2 401.1,101.8 402.0,102.1 403.0,103.8 404.0,103.0" stroke-width="1.6"/><polyline points="370.6,49.1 370.3,47.6 371.1,46.9 372.2,46.5 373.4,46.1 373.0,44.5 373.5,43.7 374.9,43.4 375.3,42.1 377.0,42.2 376.7,40.4 378.6,40.6 379.2,39.7 379.2,38.0 380.6,37.8 381.3,37.1 381.8,36.1 382.3,35.3 384.1,35.3 383.0,33.2 383.5,32.3 385.9,32.9 385.5,31.3 386.3,30.6 386.8,29.5 387.9,29.2 388.8,28.7 390.4,29.4 390.4,27.4 391.3,26.9 392.6,27.1 393.4,26.4 394.5,26.1 395.8,26.6 396.8,25.9 397.3,24.4 398.2,23.7 399.8,24.7 400.5,23.5 401.3,24.9 403.1,23.0 403.8,24.9 404.8,25.6 406.2,25.0 406.2,26.2 407.5,26.9 406.6,28.4 407.6,29.2 406.9,30.1 407.9,31.4 406.7,32.2 407.5,33.4 407.7,34.5 406.8,35.4 406.2,36.3 406.8,37.2 406.8,38.3 406.5,39.4 406.2,40.5 406.1,41.6 406.3,42.6 407.6,43.4 406.5,44.5 407.1,45.5 408.4,46.4 408.8,47.4 407.8,48.6 408.1,49.6 408.3,50.6 407.8,51.6 409.1,52.7 408.7,53.7 406.9,54.6 407.6,55.6 407.2,56.6 407.6,57.7 408.8,58.5 408.3,59.7 407.3,60.9 408.1,61.8 407.5,63.0 409.6,63.6 409.1,64.8 409.0,65.8 408.0,66.7 408.6,67.9 407.6,68.7 407.9,69.8 408.7,71.1 407.6,71.9 408.8,72.7 406.9,74.2 409.1,74.8 409.2,75.8 409.1,76.9 408.4,78.1 409.1,79.0 408.1,79.9 408.9,81.0 408.8,82.0 408.0,83.0 409.1,84.1 408.7,85.1 408.3,86.1 408.3,87.2 408.5,88.3 410.2,89.1 410.3,90.2 410.5,91.3 409.4,92.7 409.8,93.7 410.5,94.7 409.1,95.5 409.3,96.8 410.2,98.2 408.8,99.0 409.1,100.3 407.6,100.0 407.7,101.8 407.4,103.1 406.0,103.0 405.3,103.8 404.7,104.6 403.4,104.6 402.5,105.9 401.4,105.8 400.0,104.3 399.3,106.4 398.0,105.2 397.1,106.3 396.0,106.6 394.8,106.0 393.9,105.0 392.7,106.1 391.6,106.1 390.7,105.3 389.8,104.5 388.7,104.7 387.7,104.6 387.6,103.3 386.1,103.3 385.6,102.4 385.2,101.4 384.1,101.1 383.4,100.3 383.6,99.1 382.8,98.1 381.7,97.2 381.4,96.0 382.0,94.7 382.2,93.5 381.7,92.6 381.8,91.4 380.8,90.7 380.2,89.8 378.9,89.3 379.2,88.0 379.6,86.7 377.6,86.3 377.9,85.1 376.9,84.3 377.1,83.1 376.6,82.2 376.5,81.1 376.3,80.0 376.3,78.8 375.6,78.0 374.5,77.2 375.2,75.7 374.7,74.8 374.5,73.7 372.3,73.4 373.2,71.9 373.4,70.6 372.1,70.0 371.4,69.1 371.1,68.1 372.4,66.9 371.2,66.0 371.1,65.0 372.0,63.9 370.8,63.0 370.2,62.1 370.1,61.1 370.6,60.0 370.2,58.9 371.1,57.8 370.3,56.7 371.3,55.6 369.6,54.5 370.0,53.5 370.9,52.4 370.6,51.3 370.6,50.2 370.6,49.1" stroke-width="1.6"/><polyline points="378.0,44.0 379.7,43.5 380.4,44.5 381.3,45.3 381.4,47.4 383.0,47.0 384.0,47.6 384.7,48.8 386.6,47.8 387.0,49.4 388.0,50.0" stroke-width="1.6"/><polyline points="384.0,36.0 384.7,36.9 385.3,37.9 385.7,39.1 387.7,38.7 388.0,40.0 388.5,41.1 388.8,42.4 389.5,43.3 391.9,42.5 392.0,44.0" stroke-width="1.6"/><polyline points="376.0,58.0 377.0,58.3 377.9,58.7 378.8,59.6 379.8,60.0 381.0,59.0 381.8,60.3 383.1,59.0 383.7,60.9 385.0,59.6 386.0,60.0" stroke-width="1.6"/><polyline points="386.0,64.0 386.9,64.7 387.6,65.8 388.6,66.4 389.4,67.3 391.0,67.0 392.3,67.0 392.3,69.4 393.9,69.0 394.6,70.0 396.0,70.0" stroke-width="1.6"/><polyline points="380.0,74.0 381.3,74.2 381.3,76.4 382.3,77.0 383.4,77.5 385.0,77.0 385.6,78.3 386.4,79.2 388.8,77.5 388.8,79.7 390.0,80.0" stroke-width="1.6"/><polyline points="392.0,82.0 392.8,82.9 394.5,81.7 394.9,83.5 395.6,84.6 397.0,84.0 397.6,85.3 399.0,84.8 399.9,85.6 401.1,85.2 402.0,86.0" stroke-width="1.6"/><polyline points="396.0,32.0 395.8,33.1 396.5,34.0 395.8,35.1 398.0,35.8 396.2,37.1 397.0,38.0 397.5,38.9 397.0,40.1 398.5,40.8 398.1,41.9 398.5,42.9 398.0,44.0" stroke-width="1.6"/><polyline points="400.0,52.0 401.1,52.8 400.7,53.9 401.5,54.8 401.1,55.9 401.0,57.0 401.0,58.0 401.0,59.1 402.3,59.9 402.2,60.9 402.0,62.0" stroke-width="1.6"/><polyline points="388.0,90.0 389.0,90.2 389.7,91.7 391.4,89.5 392.2,90.5 392.6,92.8 393.9,92.2 395.0,92.0 396.3,91.2 397.1,92.1 397.7,94.0 399.0,93.0 400.4,92.1 400.7,94.9 402.0,94.0" stroke-width="1.6"/><polyline points="395.0,72.0 396.2,72.2 397.4,72.3 398.4,72.6 399.0,74.0 399.4,75.6 400.9,75.2 401.7,76.0 403.0,76.0" stroke-width="1.6"/><polyline points="358.3,118.3 359.3,117.7 359.3,116.0 360.5,115.5 361.7,115.0 362.7,114.2 364.0,114.9 365.1,114.5 366.3,114.6 367.0,112.8 368.3,113.3 369.3,114.0 370.7,114.3 371.2,115.5 371.7,116.7 372.0,117.8 373.2,118.7 373.1,119.9 372.5,121.2 372.9,122.2 373.3,123.3 373.9,124.3 373.1,125.4 372.7,126.4 374.3,127.5 372.7,128.5 372.9,129.6 373.6,130.6 373.3,131.7 373.4,133.1 371.4,133.5 371.7,135.0 370.8,135.6 370.0,136.5 369.0,136.8 367.5,135.7 366.7,136.7 366.3,135.7 366.1,134.5 365.4,133.7 364.5,132.9 364.7,131.5 363.2,131.2 362.9,130.1 362.8,128.9 361.7,128.3 361.3,127.3 361.2,126.2 360.1,125.7 359.8,124.7 358.1,124.6 358.3,123.3 357.8,122.3 357.9,121.3 357.5,120.3 357.8,119.3 358.3,118.3" stroke-width="1.6"/><polyline points="375.0,113.3 375.9,112.1 377.3,113.1 378.2,111.8 379.4,112.2 380.7,112.3 381.7,111.7 382.7,112.4 383.9,111.9 385.0,112.1 386.2,111.3 387.2,112.2 388.3,112.5 388.4,113.6 387.3,114.4 387.7,115.6 387.1,116.5 387.5,117.6 387.9,118.7 386.4,119.5 386.2,120.6 386.7,121.7 386.4,122.8 386.4,124.0 385.2,124.5 384.8,125.5 383.8,126.2 383.6,127.3 383.3,128.3 382.5,129.1 381.5,129.9 381.0,131.0 380.0,131.7 378.5,131.9 377.4,131.3 376.7,130.0 377.3,128.7 376.8,127.6 375.5,126.8 376.3,125.3 375.3,124.4 375.0,123.3 374.2,122.3 375.7,121.3 375.2,120.3 375.9,119.3 375.4,118.3 374.2,117.3 375.2,116.3 375.6,115.3 375.8,114.3 375.0,113.3" stroke-width="1.6"/><polyline points="366.7,151.7 367.8,151.2 368.9,151.2 370.2,151.6 370.9,149.9 372.1,149.8 373.3,150.0 374.7,149.6 375.6,150.3 376.6,150.5 377.4,151.3 378.1,152.4 378.6,153.7 380.0,153.3 379.9,154.5 380.8,155.5 381.0,156.6 380.8,157.9 381.8,158.8 381.7,160.0 381.6,161.3 379.8,160.9 379.4,162.0 379.4,163.4 378.7,164.2 378.0,164.9 376.7,165.0 375.8,163.8 374.3,165.2 373.4,163.9 372.5,163.0 370.9,164.5 370.0,163.3 369.1,162.4 368.6,161.3 368.7,159.8 366.8,159.6 366.7,158.3 366.2,157.2 366.2,156.1 365.8,155.0 367.0,153.9 367.3,152.8 366.7,151.7" stroke-width="1.6"/><polyline points="375.0,133.3 375.8,134.1 375.8,135.2 376.9,135.8 376.8,136.9 377.6,137.7 378.1,138.5 378.0,139.7 378.6,140.5 378.3,141.7 379.3,142.2 379.4,143.5 381.2,143.2 381.1,144.8 382.5,144.8 382.4,146.5 383.2,147.2 384.7,147.2 385.0,148.3 385.2,149.5 386.1,150.0 387.7,149.8 388.0,151.0 388.3,152.2 388.7,153.2 390.0,153.3 391.2,153.3 391.9,154.0 392.2,155.5 392.8,156.3 394.6,155.5 395.0,156.7 396.3,156.4 396.7,158.1 398.0,157.8 398.9,158.4 399.5,159.7 400.5,160.0 401.7,160.0 402.1,161.0 402.4,162.1 403.2,162.8 403.7,163.7 404.6,164.4 405.3,165.1 406.8,165.3 406.7,166.7 406.9,168.1 408.3,168.3 409.7,168.1 409.8,166.4 411.0,166.0 411.7,165.0 410.7,164.0 411.7,163.0 411.9,162.0 411.3,161.0 411.5,160.0 412.4,159.0 411.0,158.0 411.6,157.0 410.9,156.0 411.7,155.0 410.9,154.2 411.2,152.8 410.2,152.1 408.7,151.8 409.5,150.0 408.6,149.3 407.8,148.5 406.9,147.8 406.7,146.7 405.6,146.1 404.6,145.4 404.3,144.0 403.3,143.3" stroke-width="1.6"/><polyline points="393.3,113.3 394.9,113.5 395.1,111.7 396.4,111.5 397.9,111.5 398.3,110.0 399.4,109.2 400.4,110.0 401.4,110.2 402.5,111.3 403.6,108.7 404.6,108.8 405.6,109.5 406.7,110.0 408.0,110.3 409.0,109.9 409.1,107.7 411.0,109.2 411.4,107.7 412.9,108.3 413.3,106.7 414.4,107.9 415.4,105.6 416.4,108.0 417.5,106.6 418.6,105.7 419.6,106.6 420.6,105.5 421.7,106.7 421.8,107.9 422.9,108.4 424.4,108.5 424.8,109.5 424.8,110.8 424.8,112.1 426.6,112.1 426.7,113.3 428.1,112.8 428.8,113.9 430.1,113.7 430.7,114.8 430.9,116.7 432.8,115.4 433.3,116.7 434.5,116.4 435.4,118.0 436.8,116.7 438.0,116.7 439.0,117.3 440.0,118.3 440.9,119.0 441.9,119.7 442.9,120.0 444.6,118.9 445.4,119.9 446.6,119.9 447.2,121.4 448.3,121.7 449.4,121.7 449.9,123.1 451.0,123.0 451.9,123.4 453.3,122.7 453.9,124.0 455.3,123.1 456.2,123.6 456.7,125.0 457.1,126.4 459.0,125.3 460.2,125.5 460.1,127.7 461.8,127.0 462.5,127.9 463.0,129.1 463.4,130.5 465.0,130.0 466.5,129.2 466.9,131.2 468.6,130.0 468.9,132.4 470.3,131.7 471.7,131.4 472.4,132.6 473.3,133.3 474.3,133.8 475.5,132.5 476.5,133.3 477.4,134.5 478.5,134.8 479.5,134.6 480.7,134.0 481.7,134.2 482.7,134.9 483.9,133.4 484.8,134.2 485.9,134.1 487.0,133.7 488.0,133.5 489.1,133.7 490.0,135.0 489.9,136.8 491.9,136.4 492.8,137.1 493.3,138.3 493.2,139.4 493.4,140.5 493.3,141.7 493.6,142.7 495.0,143.3 495.8,144.7 495.0,145.5 494.3,146.4 494.2,147.5 493.3,148.3 492.2,148.5 491.5,149.7 489.9,148.3 489.5,150.1 488.3,150.0 487.5,148.6 486.4,148.3 485.1,148.7 483.7,149.5 482.5,149.8 481.7,148.3 480.7,146.8 479.6,146.9 478.3,147.9 477.1,149.0 476.2,146.9 475.0,147.5" stroke-width="1.6"/><polyline points="475.0,147.5 475.3,148.6 475.2,149.6 475.1,150.6 475.0,151.7 476.2,151.8 477.1,152.6 478.2,152.7 479.5,152.4 480.3,153.6 481.6,153.2 482.6,153.8 483.3,155.0 484.4,155.0 484.7,156.8 486.0,156.3 486.9,156.9 487.4,158.1 488.4,158.5 489.6,158.3 490.8,158.1 491.5,159.1 492.5,159.3 493.3,160.0 493.5,161.4 495.6,160.4 496.0,161.7 496.4,162.8 497.4,163.3 498.2,163.9 498.8,164.8 500.0,165.0 501.0,165.7 500.3,167.2 500.6,168.3 502.8,168.4 502.7,169.6 503.1,170.6 503.3,171.7 502.3,172.2 501.1,172.1 500.1,173.0 498.8,172.4 497.6,172.2 496.7,173.3 495.8,172.2 494.7,172.2 493.4,173.3 492.6,172.0 491.6,171.7 490.4,171.9 489.4,171.5 488.3,171.7 487.3,172.4 486.0,171.6 485.0,172.5 486.2,172.3 487.0,173.2 488.3,172.9 489.1,173.8 490.5,173.1 491.3,174.0 492.1,175.3 493.3,175.0 494.4,174.9 495.0,176.2 495.9,176.7 496.9,176.7 497.9,177.1 499.1,176.6 499.8,177.5 500.4,178.9 501.7,178.3 501.6,180.1 503.3,180.8 502.2,180.8 501.1,181.2 499.9,180.2 498.9,181.3 497.7,180.9 496.7,181.7 495.6,182.6 494.6,182.2 493.6,181.0 492.5,181.6 491.4,181.1 490.4,181.8 489.4,180.8 488.3,181.7 487.2,182.6 486.2,182.0 485.2,181.0 484.2,181.2 483.2,180.8 482.1,181.1 481.1,180.5 480.0,180.8 479.3,179.8 477.9,180.5 476.8,180.7 476.0,179.9 475.1,179.3 474.6,177.6 473.3,178.3 472.7,177.0 471.6,177.2 470.2,177.9 469.9,176.0 468.3,177.3 467.4,176.9 466.7,175.8 465.7,175.0 464.4,175.9 463.3,175.6 462.2,175.8 461.0,176.2 460.0,175.0 458.9,175.7 457.8,175.6 456.8,175.6 455.8,175.4 455.0,174.2 453.9,174.7 453.0,173.8 452.0,173.7 451.1,172.9 450.0,173.3 451.1,174.0 452.2,173.4 453.4,173.4 454.5,172.2 455.6,172.4 456.7,173.3 458.0,172.7 458.8,171.8 458.4,170.1 460.0,169.7 460.0,168.3 460.0,166.8 458.2,166.6 457.2,165.8 456.7,164.8 456.7,163.3 456.1,162.0 456.3,160.9 457.6,160.0 457.2,158.8 458.9,158.0 458.3,156.7 458.1,155.6 457.9,154.4 458.1,153.2 457.5,152.2 458.0,150.9 456.7,150.0 455.3,149.9 455.2,148.5 454.6,147.7 454.4,146.3 452.8,146.4 452.0,145.8 451.2,145.1 451.3,143.5 450.0,143.3 449.0,143.0 447.8,143.4 447.3,141.3 445.7,142.8 445.0,141.7 444.2,140.7 443.2,140.3 442.0,140.8 441.0,140.2 440.0,140.0 439.3,139.0 437.7,139.9 437.4,138.0 436.4,137.6 435.2,137.7 433.9,137.9 433.3,136.7 432.1,136.5 432.0,134.9 430.4,135.4 429.4,135.0 428.6,134.3 428.3,133.0 427.5,132.4 426.7,131.7 425.6,131.2 425.3,130.0 424.9,129.0 424.5,127.8 423.9,127.0 421.9,127.3 421.7,126.0 421.5,124.9 419.7,124.9 419.6,123.8 419.4,122.7 418.1,122.4 418.3,121.0 417.6,119.9 416.7,119.1 415.5,118.8 414.4,118.4 413.3,118.0 412.9,119.0 412.0,119.7 412.1,120.9 412.1,122.0 411.1,122.8 410.3,123.6 410.3,124.7 411.3,126.1 409.2,126.5 409.7,127.8 409.8,128.9 408.1,129.4 408.6,130.7 408.3,131.7 409.1,132.5 410.1,133.1 409.2,135.0 409.9,135.8 410.6,136.6 411.9,137.1 412.5,138.0 412.1,139.5 413.3,140.0 414.0,141.2 415.2,141.0 416.5,140.5 417.5,140.8 418.3,141.7 419.7,141.8 419.9,143.7 420.9,144.3 421.7,145.2 423.3,145.0 424.0,145.8 423.9,147.0 425.3,147.3 425.2,148.5 426.8,148.7 426.7,150.0 426.9,151.0 428.1,151.9 426.5,153.3 427.5,154.2 427.5,155.2 427.1,156.4 428.5,157.2 428.3,158.3 428.5,159.4 427.0,160.2 427.9,161.5 427.5,162.5 426.3,163.4 427.1,164.6 426.9,165.6 426.7,166.7 426.8,167.9 427.1,169.2 425.6,169.9 424.8,170.9 424.5,172.0 425.0,173.3 423.6,173.8 423.5,175.2 422.8,176.2 422.1,177.1 421.7,178.3" stroke-width="1.6"/><polyline points="393.3,113.3 393.1,114.4 393.8,115.5 392.5,116.4 393.2,117.6 391.8,118.5 393.2,119.7 392.0,120.7 393.0,121.9 391.3,122.8 391.4,123.9 392.0,125.0 393.1,125.8 392.3,127.1 393.4,127.8 393.2,129.0 392.8,130.2 394.5,130.8 394.6,131.8 395.2,132.8 395.5,133.7 395.0,135.0 395.7,135.7 396.9,136.0 397.7,136.6 397.6,138.1 398.9,138.3 399.5,139.1 400.0,140.0 400.0,138.9 401.2,138.1 400.4,136.8 401.4,136.0 402.2,135.1 401.8,133.9 401.5,132.8 401.5,131.7 402.8,130.9 402.2,129.7 402.9,128.8 403.9,128.0 404.2,126.9 403.5,125.6 403.9,124.7 404.0,123.6 404.3,122.6 405.0,121.7" stroke-width="1.6"/><polyline points="440.0,147.0 441.0,146.4 442.0,146.8 443.0,146.4 444.0,147.1 445.0,146.8 446.0,146.7 447.0,147.5 447.5,148.6 447.2,150.0 448.0,151.0 448.1,152.1 447.1,152.8 446.9,153.8 446.7,154.8 445.9,155.6 446.0,156.7 445.0,156.4 444.0,156.3 443.0,156.4 442.0,156.4 441.0,156.0 440.4,155.1 440.5,154.0 440.3,153.0 440.5,151.9 440.0,151.0 439.7,150.0 439.9,149.0 440.5,148.0 440.0,147.0" stroke-width="1.6"/><polyline points="448.0,174.0 449.0,173.7 449.9,173.2 451.0,173.4 451.9,172.7 453.0,172.7 454.0,172.5 453.9,173.7 455.3,174.1 455.5,175.2 455.6,176.3 456.7,176.9 456.7,178.0 456.4,179.1 455.1,179.5 454.4,180.3 454.4,181.7 453.9,182.6 453.0,183.3 452.1,182.5 450.9,183.0 450.0,182.4 449.0,182.1 448.0,182.0 448.1,181.0 448.3,180.0 448.3,178.9 447.8,178.0 447.5,177.0 448.1,176.1 448.2,175.1 448.0,174.0" stroke-width="1.6"/><polyline points="462.0,151.0 463.0,150.6 464.0,150.8 464.9,150.2 466.0,150.9 467.0,150.1 468.0,150.3 469.1,150.6 470.0,150.0 470.5,151.0 470.1,152.2 470.8,153.1 471.3,154.0 471.7,155.0 470.7,155.4 469.7,156.0 468.9,156.8 467.6,156.7 467.0,157.8 466.0,158.3 465.3,157.2 464.2,156.8 462.7,157.1 462.0,156.0 461.7,155.0 462.0,154.0 462.4,153.0 461.6,152.0 462.0,151.0" stroke-width="1.6"/><polyline points="413.3,173.3 413.5,174.8 415.6,174.4 415.5,176.2 416.7,176.7 417.0,177.8 416.4,179.1 417.7,180.0 417.0,181.3 418.7,182.0 418.3,183.3 417.1,184.2 417.9,185.6 418.1,186.8 417.5,187.8 416.7,188.8 416.7,190.0 418.1,190.6 418.0,191.9 419.2,192.5 419.7,193.6 420.0,194.7 420.0,196.0 421.2,196.3 422.0,197.2 422.1,198.7 423.4,198.9 423.7,200.3 425.0,200.5 426.3,200.3 427.0,199.5 427.8,198.7 428.0,197.5 428.8,196.8 429.9,196.3 430.0,195.0 431.0,194.6 431.7,193.4 433.0,193.5 434.0,193.1 435.0,192.5 436.1,191.9 437.1,191.7 438.2,191.9 439.3,192.9 440.4,193.1 441.4,192.8 442.5,192.5 441.9,191.6 440.7,190.9 440.1,189.9 440.8,188.4 440.0,187.5 439.0,187.2 438.0,187.1 436.8,187.4 435.8,187.2 434.8,186.9 433.8,186.7 433.0,185.6 431.9,185.9 431.0,185.1 430.0,185.0 428.9,184.8 427.9,184.2 426.9,183.5 425.9,183.0 424.4,183.9 423.9,182.0 422.5,182.5" stroke-width="1.6"/><polyline points="415.0,180.0 414.9,181.0 414.6,182.1 415.5,183.0 415.1,184.0 414.8,185.1 415.7,186.0 415.5,187.1 415.6,188.1 415.5,189.1 417.1,189.9 417.0,190.9 415.6,192.1 416.2,193.1 417.2,193.9 416.4,195.1 417.6,195.9 417.4,197.0 417.4,198.0 417.9,198.9 417.5,200.0 418.8,199.7 419.6,200.7 420.6,201.3 421.9,201.1 422.8,202.1 423.7,203.0 425.0,202.5 425.1,201.2 426.1,200.8 426.6,199.8 428.1,199.9 428.5,198.8 429.2,198.1 430.0,197.5" stroke-width="1.6"/><polyline points="433.0,200.0 433.5,201.0 434.7,201.3 435.2,202.3 436.0,203.0 435.3,203.8 434.2,204.2 433.8,205.3 433.0,206.0 432.3,205.0 431.7,204.0 431.0,203.0 431.6,201.9 432.6,201.2 433.0,200.0" stroke-width="1.4"/><polyline points="449.0,203.0 450.0,203.5 450.2,204.8 451.4,205.1 452.0,206.0 451.3,206.9 450.8,207.9 450.3,208.9 450.0,210.0 449.4,209.1 448.9,208.1 448.7,206.9 448.0,206.0 448.7,205.1 448.8,204.0 449.0,203.0" stroke-width="1.4"/><polyline points="447.5,172.5 448.7,172.6 449.7,171.8 450.7,171.4 451.8,171.1 452.9,171.0 454.1,170.8 455.0,170.0" stroke-width="1.6"/><polyline points="212.0,314.0 213.0,314.8 213.6,315.7 213.0,317.1 212.8,318.3 214.0,319.0 215.3,319.3 215.4,320.5 215.4,321.7 217.1,321.7 217.0,323.0 216.5,324.5 217.2,325.4 217.7,326.4 219.0,327.0 218.9,328.2 217.9,328.9 218.1,330.3 217.0,331.0 215.9,331.4 215.9,332.9 215.0,333.5 214.0,334.0" stroke-width="2.2"/><polyline points="208.0,308.0 208.8,307.2 207.9,305.8 208.2,304.7 208.8,303.8 209.3,302.9 210.0,302.0 211.3,301.4 210.6,299.6 211.5,298.8 212.7,298.2 213.0,297.0 213.6,297.9 213.0,299.3 213.8,300.2 215.3,300.7 215.0,302.0 215.3,303.1 215.1,304.1 215.2,305.1 215.1,306.1 214.1,307.0 214.0,308.0" stroke-width="1.4"/><polyline points="417.5,365.5 416.4,367.9 416.3,370.5 415.7,373.0 415.0,375.5 415.8,378.1 416.7,380.6 416.7,383.3 418.2,385.1 420.2,386.4 421.4,388.5 423.3,390.0 425.1,391.7 426.6,393.7 428.3,395.5" stroke-width="1.35"/><polyline points="515.0,395.0 514.0,390.0" stroke-width="1.35"/><polyline points="514.0,390.0 516.0,380.0 532.9,375.9 558.0,373.8" stroke-width="1.35"/><polyline points="565.1,382.1 565.6,381.1 566.8,381.0 567.4,380.1 568.6,379.9 569.2,379.1 569.3,377.6 570.5,377.4 571.4,376.9 572.6,376.7 573.3,375.9 574.1,375.1 575.3,375.0 575.5,373.3 576.9,373.5 577.7,372.7 579.0,372.3 579.2,370.8 580.5,370.5 580.7,369.0 581.9,368.5" stroke-width="1.6"/><polyline points="433.8,348.6 433.7,347.1 434.4,346.1 435.5,345.3 436.3,344.3 436.9,343.4 436.9,342.2 438.3,341.9 438.2,340.5 439.7,340.4 440.0,339.3 441.0,339.0 442.0,338.8 443.0,338.4 444.0,338.2 445.0,338.0 446.1,338.7 447.1,337.2 448.2,338.7 449.3,338.0 450.4,337.9 451.4,338.4 452.5,338.0 453.1,339.0 454.0,339.5 454.4,340.7 455.4,341.2 456.3,341.8 457.5,342.0 457.4,343.6 458.9,343.6 459.7,344.4 460.0,345.5 461.5,345.7 462.5,344.5 463.8,344.3 465.1,344.7 464.3,346.6 465.9,347.0 466.3,348.0 467.2,348.8 467.3,350.0 468.5,350.6 468.8,351.8 470.1,352.3 469.4,354.1 470.6,354.7 471.3,355.5 472.7,355.4 472.8,357.3 474.5,356.7 475.0,358.0 475.9,358.6 477.0,358.0 477.9,358.9 479.0,358.3 480.0,358.6 481.3,359.1 482.4,357.7 483.6,357.4 484.9,358.0" stroke-width="1.4"/><polyline points="433.8,348.6 431.9,349.8 430.5,351.6 428.8,353.0 427.8,354.7 426.3,356.2 424.9,357.6 423.8,359.3 422.1,360.6 421.4,362.7 420.0,364.3 417.5,365.5" stroke-width="1.35"/><polyline points="417.5,365.5 419.9,364.0 422.5,363.0 425.2,362.6 427.5,361.1 430.0,361.8 431.1,363.7 432.5,365.5 434.6,366.1 436.8,366.0 438.8,366.8 440.9,367.2 443.0,367.3 445.0,368.0 447.5,368.6 450.0,369.3 451.6,371.6 452.5,374.3 453.8,377.9" stroke-width="1.35"/><polyline points="428.8,361.8 429.6,359.8 431.2,358.4 432.5,356.8 434.6,355.9 436.3,354.3 440.0,353.0 443.8,353.0 446.3,352.4 445.2,354.5 444.4,356.8 443.8,359.3 447.5,359.3 449.9,360.4 452.5,360.5 455.1,360.3 457.5,359.3 460.0,358.6 462.5,358.0 464.9,357.1 467.5,356.8 470.0,356.8 472.1,356.5 474.1,356.8 476.0,357.5" stroke-width="1.35"/><polyline points="455.0,365.5 457.2,365.7 459.3,365.1 461.3,364.3 463.4,364.1 465.4,363.4 467.5,363.0 470.1,362.7 472.5,361.8 475.0,361.4 477.5,361.8 480.0,362.3 482.4,362.6 484.9,363.0" stroke-width="1.35"/><polyline points="456.3,365.5 456.0,368.1 455.0,370.5 454.9,373.0 454.5,375.5 453.8,377.9 454.2,380.1 453.8,382.4 454.1,384.6 455.0,386.7 455.9,388.7 455.2,391.0 455.7,393.1 456.7,395.0 457.8,397.1 457.9,399.4 458.0,401.7 459.9,403.9 461.0,406.7 464.0,407.0 466.7,405.0 468.2,402.7 468.3,400.0 467.1,397.9 466.5,395.7 466.7,393.3 465.7,391.0 463.9,389.2 463.3,386.7 463.4,384.7 462.9,382.7 463.4,380.7 462.8,378.7 462.5,376.7 463.3,374.6 463.6,372.3 465.0,370.5 464.1,367.8 462.5,365.5" stroke-width="1.35"/><polyline points="471.7,363.3 474.1,363.2 476.0,364.8 478.3,365.0 479.9,366.3 481.1,368.0 481.7,370.0 482.5,372.0 481.8,374.3 483.5,376.1 483.3,378.3 485.0,381.7 486.5,380.4 488.6,379.8 490.0,378.3 491.7,376.7 493.3,375.0 493.6,373.0 494.3,371.0 494.4,369.0 496.0,367.3 496.2,365.3 496.7,363.3 500.0,361.7 502.4,361.9 504.5,360.7 506.7,360.0 508.2,362.3 508.3,365.0 507.1,367.2 504.8,368.2 503.3,370.0 502.2,371.8 500.9,373.4 499.5,375.0 498.3,376.7 497.2,378.8 497.7,381.2 496.7,383.3 496.0,385.3 496.2,387.6 495.2,389.5 495.0,391.7" stroke-width="1.35"/><polyline points="476.0,357.5 476.9,356.8 477.8,356.3 479.1,357.6 480.0,356.8 480.8,355.8 482.0,356.5 483.0,355.8 484.1,356.2 485.1,355.9 486.2,356.4 487.2,355.2 488.3,355.8 489.2,355.2 490.2,355.2 491.4,355.7 492.3,354.9 493.3,355.0 494.7,354.3 495.7,355.0 496.4,356.7 497.8,356.0 498.7,357.1 500.0,356.7 500.9,357.3 501.1,358.7 502.2,359.0 503.9,358.4 504.8,359.0 504.5,361.1 506.0,361.0 506.7,361.7" stroke-width="1.4"/><polyline points="486.0,398.0 487.7,395.9 489.9,394.6 492.0,393.0 493.9,391.6 495.9,390.2 498.0,389.0 500.1,387.9 502.3,386.8 504.0,385.0 506.1,383.8 508.0,382.3 510.0,381.0 511.7,379.8 513.0,378.0 515.0,377.2" stroke-width="1.35"/><polyline points="495.0,391.7 497.8,390.5 500.0,388.5 501.9,387.5 503.2,385.7 505.0,384.5 506.1,382.8 507.6,381.5 509.0,380.0 509.9,377.7 511.6,376.0 513.0,374.0" stroke-width="1.35"/><polyline points="515.0,377.2 513.2,374.5 513.6,372.5 515.0,370.9 516.7,369.5 518.5,368.2 519.9,366.3 522.1,365.5 525.7,363.8 527.4,362.7 529.3,362.0 530.8,360.5 532.9,360.2 535.6,357.5 536.5,355.3 536.5,353.0 537.6,351.3 538.3,349.4 539.4,347.5 541.0,346.0 541.9,344.0" stroke-width="1.35"/><polyline points="513.0,372.0 514.3,370.3 515.6,368.5 516.9,366.9 518.0,365.0 519.9,363.5 522.2,362.6 524.0,361.0 525.8,360.1 527.7,359.3 529.1,357.7 531.0,357.0 532.3,355.3 533.7,353.7 535.0,352.0" stroke-width="1.35"/><polyline points="556.8,403.6 557.8,404.5 557.1,405.7 558.6,406.6 557.3,407.9 558.7,408.8 558.0,410.0 559.3,410.7 557.7,412.3 559.0,413.0 560.6,413.6 560.0,414.9 560.0,416.0 560.1,417.1 559.5,418.3 559.9,419.3 562.0,419.8 562.1,420.8 562.1,421.9 562.0,423.0 563.0,423.7 562.5,425.2 563.2,426.0 564.6,426.6 563.3,428.3 564.9,428.9 565.0,430.0 564.6,431.4 566.9,431.5 566.6,433.0 566.5,434.3 566.5,435.5 568.0,436.0" stroke-width="1.6"/><polyline points="563.0,403.0 564.3,403.7 562.9,405.2 564.8,405.7 565.0,406.8 565.1,407.8 563.9,409.2 565.0,410.0 565.7,410.9 566.0,411.9 565.7,413.0 566.3,413.9 564.9,415.1 566.3,415.9 566.3,416.9 566.0,418.0 567.4,418.6 567.1,419.9 567.3,421.0 568.1,421.8 567.1,423.4 569.1,423.8 569.0,425.0 569.5,426.0 570.4,426.8 570.1,427.9 570.3,428.9 569.3,430.1 570.5,430.9 570.0,432.0" stroke-width="1.3"/><polyline points="571.0,440.0 571.8,440.6 571.9,441.8 573.0,442.2 572.8,443.6 574.0,444.0 574.3,445.4 573.3,446.2 572.6,447.1 572.0,448.0 573.0,448.5 573.5,449.5 574.2,450.3 575.0,451.0 575.1,452.4 573.7,452.5 572.3,452.7 572.3,454.0 572.0,455.0" stroke-width="1.5"/><polyline points="612.1,552.1 613.4,552.5 614.6,553.5 615.9,554.0 617.7,553.0 618.7,554.3 619.5,555.6 621.5,555.1 622.2,556.5 623.1,557.6 624.1,558.4 624.9,559.6 626.6,559.1 627.6,559.8 628.9,560.3 630.5,560.1 631.8,560.6 632.6,562.4 634.2,562.1 635.3,562.6 636.0,563.9 637.1,564.6 638.6,564.3 639.3,565.4 639.8,566.6 641.6,566.7 641.4,568.6 643.1,568.7 644.6,568.4 644.8,570.7 646.1,570.9 647.5,570.9" stroke-width="1.2" stroke-dasharray="4 2"/><polyline points="620.9,564.3 622.5,564.3 623.2,565.6 624.1,566.7 625.5,567.0 626.3,568.2 627.6,568.7 628.6,570.1 630.3,568.7 631.3,569.8 632.9,568.9 633.8,570.5 635.0,571.1 636.4,570.9 637.5,572.0 639.3,571.0 640.7,571.4 642.0,572.1 643.1,573.1" stroke-width="1.2" stroke-dasharray="3 2"/><polyline points="199.9,230.5 199.8,231.6 198.8,232.2 197.7,232.3 196.7,231.6 195.6,231.2 196.4,229.7 198.2,229.4 199.9,230.5" stroke-width="1.4"/><polyline points="205.3,203.2 203.4,203.2 203.6,202.4 202.9,201.7 204.4,201.4 206.3,201.2 206.2,201.9 206.3,202.6 205.3,203.2" stroke-width="1.4"/><polyline points="193.5,189.6 195.0,190.3 195.0,190.9 194.3,191.5 193.1,191.8 191.8,191.7 191.9,190.8 191.9,189.9 193.5,189.6" stroke-width="1.4"/><polyline points="190.9,231.8 190.8,230.6 190.0,229.7 190.8,227.9 192.4,228.7 192.6,230.5 191.8,231.2 190.9,231.8" stroke-width="1.4"/><polyline points="191.8,205.5 192.9,205.6 193.9,205.3 194.4,205.9 194.0,206.8 192.7,206.8 191.9,206.2 191.8,205.5" stroke-width="1.4"/><polyline points="197.2,228.1 197.7,227.0 199.3,227.2 200.8,227.8 199.6,228.7 198.0,228.5 197.2,228.1" stroke-width="1.4"/><polyline points="192.8,202.9 193.2,202.2 193.3,201.1 194.9,201.1 196.6,201.5 196.5,202.7 196.2,203.3 194.3,203.4 192.8,202.9" stroke-width="1.4"/><polyline points="205.6,197.5 205.8,197.9 205.6,198.5 204.8,198.7 203.7,198.4 204.0,197.9 203.9,197.5 204.9,197.4 205.6,197.5" stroke-width="1.4"/><polyline points="191.6,213.7 190.1,213.3 189.9,212.9 191.4,212.5 193.1,212.5 194.3,212.9 193.6,213.3 193.5,213.8 191.6,213.7" stroke-width="1.4"/><polyline points="191.5,242.3 189.8,241.6 189.7,240.4 190.8,239.2 191.9,240.0 192.0,241.2 191.5,242.3" stroke-width="1.4"/><polyline points="196.3,235.2 195.1,234.4 196.6,233.2 198.4,233.8 199.4,234.7 197.9,235.8 196.3,235.2" stroke-width="1.4"/><polyline points="196.9,227.3 198.8,227.1 199.8,228.0 198.7,229.0 197.2,228.9 195.9,227.9 196.9,227.3" stroke-width="1.4"/><polyline points="198.7,228.3 196.9,227.8 196.3,227.2 196.3,226.4 198.0,225.5 199.1,225.5 200.1,226.0 200.1,226.7 200.7,227.5 199.5,227.5 198.7,228.3" stroke-width="1.4"/><polyline points="195.5,221.9 197.0,221.9 197.6,222.7 195.8,223.0 194.1,222.4 195.5,221.9" stroke-width="1.4"/><polyline points="195.5,239.8 194.1,239.0 193.5,237.3 194.4,236.1 195.4,235.8 196.5,235.8 196.3,236.9 196.6,238.0 195.6,238.7 195.5,239.8" stroke-width="1.4"/><polyline points="204.6,208.3 205.3,209.4 204.4,210.1 204.3,211.2 203.3,211.1 202.2,210.8 201.6,209.8 200.4,209.6 201.2,207.8 202.4,207.9 203.1,207.0 203.8,207.7 204.6,208.3" stroke-width="1.4"/><polyline points="191.6,222.0 192.7,222.9 192.5,223.8 190.9,224.4 189.8,224.7 188.6,224.5 188.2,223.0 189.2,222.3 190.4,222.0 191.6,222.0" stroke-width="1.4"/><polyline points="200.3,203.6 199.1,203.8 198.1,203.0 197.1,202.2 197.5,201.0 198.7,201.2 199.6,200.4 201.4,201.0 202.0,201.9 202.5,202.8 201.2,202.7 200.3,203.6" stroke-width="1.4"/><polyline points="197.5,195.5 196.9,196.8 195.5,197.3 194.5,196.9 193.9,196.0 193.8,194.8 192.9,194.1 193.7,192.9 195.1,192.6 196.8,193.4 197.4,194.4 197.5,195.5" stroke-width="1.4"/><polyline points="190.2,236.0 189.0,235.7 187.8,235.5 187.6,234.3 188.1,233.1 188.8,232.3 190.0,232.3 191.6,232.3 192.1,234.1 191.6,236.0 190.2,236.0" stroke-width="1.4"/><polyline points="198.6,210.0 200.0,210.3 201.3,209.8 200.9,210.6 200.4,211.0 199.2,210.9 198.0,211.0 197.1,210.7 197.2,210.3 198.6,210.0" stroke-width="1.4"/><polyline points="203.7,215.2 202.2,215.5 201.4,214.8 201.0,214.0 202.8,213.5 204.4,214.0 205.1,214.8 203.7,215.2" stroke-width="1.4"/><polyline points="214.0,276.5 215.6,277.2 214.6,278.3 212.7,278.4 211.6,277.5 212.4,276.7 214.0,276.5" stroke-width="1.4"/><polyline points="212.4,251.3 211.6,250.4 211.2,249.3 211.9,248.5 213.0,248.4 213.8,248.6 214.0,250.0 213.3,250.6 212.4,251.3" stroke-width="1.4"/><polyline points="198.0,274.2 196.5,274.7 194.8,274.1 195.4,273.2 196.0,272.6 197.7,272.2 198.8,272.6 198.7,273.7 198.0,274.2" stroke-width="1.4"/><polyline points="196.5,303.5 196.5,302.9 197.0,302.5 198.5,302.5 199.3,302.9 198.6,303.5 197.7,303.7 196.5,303.5" stroke-width="1.4"/><polyline points="211.1,285.2 210.5,285.8 209.2,286.3 207.6,285.9 206.8,285.4 208.0,284.7 209.5,284.8 211.1,285.2" stroke-width="1.4"/><polyline points="198.2,299.3 198.8,299.0 199.6,298.6 199.9,299.5 200.3,300.1 199.7,300.5 198.6,300.5 198.1,300.1 198.2,299.3" stroke-width="1.4"/><polyline points="205.1,272.0 205.5,272.7 204.3,273.3 203.3,272.7 202.3,273.2 201.5,272.7 201.3,272.1 203.0,271.7 204.0,271.9 205.1,272.0" stroke-width="1.4"/><polyline points="209.4,267.5 208.8,265.7 209.4,264.8 210.1,264.1 210.5,265.1 211.7,265.3 211.5,267.1 210.4,266.8 209.4,267.5" stroke-width="1.4"/><polyline points="201.5,261.6 200.9,261.5 200.0,261.0 199.9,260.1 200.5,259.1 201.6,258.9 202.0,260.2 201.5,261.6" stroke-width="1.4"/><polyline points="197.1,263.6 198.2,263.1 199.1,263.4 198.8,264.4 197.7,264.3 197.1,263.6" stroke-width="1.4"/><polyline points="206.0,296.3 205.6,297.1 203.7,297.2 202.8,296.4 203.6,295.5 204.6,295.3 206.1,295.6 206.0,296.3" stroke-width="1.4"/><polyline points="197.8,263.8 199.3,264.4 200.1,265.4 199.6,266.4 198.6,267.4 197.0,267.2 196.5,266.1 196.3,265.1 197.3,264.7 197.8,263.8" stroke-width="1.4"/><polyline points="210.1,295.1 211.0,296.0 210.4,296.9 209.3,297.3 208.0,296.5 207.6,296.0 208.2,295.4 209.4,295.0 210.1,295.1" stroke-width="1.4"/><polyline points="208.2,269.4 207.9,268.3 208.3,267.6 209.3,267.1 209.9,268.0 209.6,269.0 209.0,269.4 208.2,269.4" stroke-width="1.4"/><polyline points="115.4,149.1 116.5,147.8 117.3,148.2 118.2,149.6 117.7,151.2 116.7,151.1 116.1,150.5 115.4,149.1" stroke-width="1.3"/><polyline points="127.3,147.2 126.3,147.3 125.7,146.5 126.3,145.7 127.3,145.7 128.0,146.4 127.3,147.2" stroke-width="1.3"/><polyline points="139.3,146.1 140.3,146.6 141.3,146.6 140.6,147.4 139.9,148.3 138.5,148.1 136.7,147.5 137.2,146.3 138.2,145.8 139.3,146.1" stroke-width="1.3"/><polyline points="120.1,149.1 119.7,149.8 118.3,150.2 117.4,149.9 117.2,148.9 118.5,148.6 120.1,149.1" stroke-width="1.3"/><polyline points="116.4,148.2 117.2,148.9 117.9,149.8 117.2,150.8 116.1,150.8 115.6,149.7 116.4,148.2" stroke-width="1.3"/><polyline points="129.5,145.2 130.3,146.1 129.4,146.9 127.8,147.0 127.5,146.3 127.5,145.1 128.3,144.5 129.5,145.2" stroke-width="1.3"/><polyline points="134.8,145.7 134.2,146.7 133.5,147.5 132.0,147.1 130.4,145.9 131.5,144.6 132.5,144.0 133.6,143.9 133.8,145.1 134.8,145.7" stroke-width="1.3"/><polyline points="115.6,137.8 117.3,137.8 118.7,138.1 117.9,138.5 117.0,138.8 115.8,138.7 115.0,138.2 115.6,137.8" stroke-width="1.3"/><polyline points="461.8,539.7 463.5,540.2 463.0,541.1 462.0,541.7 460.8,541.7 459.5,540.7 459.3,539.8 460.6,539.5 461.8,539.7" stroke-width="1.3"/><polyline points="466.6,545.2 465.9,544.5 466.0,543.5 466.6,543.1 467.4,542.6 468.0,543.6 468.2,544.4 467.4,545.2 466.6,545.2" stroke-width="1.3"/><polyline points="482.1,539.4 482.5,539.8 482.2,540.4 481.1,540.7 480.2,540.0 480.9,539.4 482.1,539.4" stroke-width="1.3"/><polyline points="460.1,532.3 459.4,533.3 458.1,532.9 458.0,531.8 458.7,531.2 459.9,531.3 460.1,532.3" stroke-width="1.3"/><polyline points="469.1,549.6 468.1,551.1 467.0,550.6 465.9,550.2 466.5,548.5 467.5,547.8 469.4,548.4 469.1,549.6" stroke-width="1.3"/><polyline points="459.0,543.8 458.3,542.8 458.8,541.9 459.5,541.1 460.5,541.4 461.0,542.5 460.4,543.3 459.8,544.2 459.0,543.8" stroke-width="1.3"/><polyline points="474.8,537.5 473.2,538.0 472.0,537.6 471.0,537.1 472.3,536.6 474.1,536.6 474.8,537.5" stroke-width="1.3"/><polyline points="470.6,532.3 470.5,532.9 469.6,533.3 468.5,533.2 468.2,532.7 468.5,532.1 469.5,531.8 470.6,532.3" stroke-width="1.3"/><polyline points="460.0,548.2 459.3,547.5 459.8,546.3 461.4,546.1 462.4,547.0 463.2,548.0 461.5,548.6 460.0,548.2" stroke-width="1.3"/><polyline points="465.0,539.7 465.7,538.0 467.2,537.9 467.7,539.4 466.5,540.1 465.0,539.7" stroke-width="1.3"/><polyline points="550.1,430.6 551.6,430.7 551.7,431.3 550.7,432.0 549.3,431.7 549.3,430.9 550.1,430.6" stroke-width="1.3"/><polyline points="550.6,401.9 550.6,400.4 552.2,399.6 553.3,399.8 554.2,400.6 553.4,401.5 552.0,401.7 550.6,401.9" stroke-width="1.3"/><polyline points="559.9,430.1 558.6,429.5 559.0,428.2 560.2,428.3 561.1,429.5 559.9,430.1" stroke-width="1.3"/><polyline points="562.6,440.3 561.6,439.3 561.7,438.6 562.7,437.7 563.7,438.1 563.8,439.0 563.5,440.0 562.6,440.3" stroke-width="1.3"/><polyline points="573.6,438.9 571.9,439.4 571.3,438.3 571.9,437.5 573.1,436.9 574.3,438.1 573.6,438.9" stroke-width="1.3"/><polyline points="558.7,430.8 557.5,430.8 556.8,431.6 555.8,431.5 554.9,430.9 555.3,429.4 556.6,428.6 557.7,429.4 558.7,430.8" stroke-width="1.3"/><polyline points="571.2,427.3 569.6,426.7 568.7,425.7 569.9,425.0 571.7,425.4 572.4,426.2 571.2,427.3" stroke-width="1.3"/><polyline points="566.9,452.0 567.9,453.1 567.0,454.0 565.9,454.1 565.4,453.0 565.9,451.9 566.9,452.0" stroke-width="1.3"/><polyline points="562.7,421.5 563.1,423.3 561.5,423.8 560.8,422.8 561.3,421.2 562.7,421.5" stroke-width="1.3"/><polyline points="565.0,454.7 564.6,454.0 564.7,453.3 565.6,452.6 566.3,452.8 567.0,453.9 566.3,454.9 565.7,455.2 565.0,454.7" stroke-width="1.3"/><polyline points="572.1,449.8 571.7,451.7 570.2,451.6 569.7,450.2 570.6,448.8 572.1,449.8" stroke-width="1.3"/><polyline points="550.0,446.9 550.9,447.2 551.3,448.3 550.3,449.3 549.2,449.2 548.0,448.0 548.5,446.7 550.0,446.9" stroke-width="1.3"/><polyline points="387.1,60.2 386.7,58.5 387.5,57.8 388.7,57.8 389.6,57.2 390.9,56.7 392.1,57.4 392.3,58.6 392.6,59.7 392.0,60.8 392.8,61.8 391.6,62.5 390.3,62.7 389.3,62.1 388.5,61.2 387.1,60.2" stroke-width="1.6"/><polyline points="377.1,52.4 376.2,53.6 374.7,53.5 373.5,53.0 372.7,52.1 371.5,51.7 370.8,50.6 371.3,49.5 372.3,48.8 373.3,48.3 374.7,48.1 376.1,47.9 377.0,49.0 378.4,48.8 378.9,50.1 379.7,51.0 378.6,52.1 377.1,52.4" stroke-width="1.6"/><polyline points="382.3,54.8 383.5,53.9 384.8,53.4 384.8,54.7 386.2,55.1 386.6,56.1 386.6,57.7 385.2,58.5 383.9,58.8 383.4,57.2 382.3,56.9 381.1,57.2 382.4,56.3 382.3,54.8" stroke-width="1.6"/><polyline points="394.0,86.7 394.3,87.6 393.5,88.3 392.4,88.5 390.7,87.6 390.8,86.6 392.7,86.3 394.0,86.7" stroke-width="1.6"/><polyline points="395.1,91.0 396.2,90.2 397.4,89.8 398.5,90.0 399.2,90.7 399.7,91.6 397.8,92.3 396.5,91.7 395.1,91.0" stroke-width="1.6"/><polyline points="374.2,29.3 375.0,28.3 376.1,28.6 377.4,29.3 378.2,28.3 379.6,28.0 380.6,28.9 381.7,29.7 381.3,30.8 379.8,31.0 379.6,32.2 378.6,31.5 377.5,31.5 376.3,32.5 375.3,31.9 374.4,30.7 374.2,29.3" stroke-width="1.6"/><polyline points="387.6,79.3 387.8,80.3 386.8,81.5 385.7,81.7 384.7,81.2 383.8,80.6 382.8,80.3 383.8,79.8 384.7,79.1 386.1,79.4 387.6,79.3" stroke-width="1.6"/><polyline points="374.6,49.9 373.8,51.4 372.0,50.9 371.9,49.9 373.2,48.9 374.6,49.9" stroke-width="1.6"/><polyline points="372.8,69.4 372.1,67.6 373.2,66.8 374.4,67.3 375.9,67.5 376.6,68.3 377.1,69.2 375.9,69.9 375.0,71.0 373.2,70.9 372.8,69.4" stroke-width="1.6"/><polyline points="408.9,74.0 407.5,74.6 405.5,74.7 404.3,75.4 403.1,74.5 403.3,74.0 403.2,73.3 404.6,73.2 406.0,73.3 407.3,72.7 408.4,73.4 408.9,74.0" stroke-width="1.6"/><polyline points="380.3,41.6 378.8,41.7 378.5,40.5 378.6,39.2 379.9,38.0 380.7,38.8 380.8,39.9 380.3,41.6" stroke-width="1.6"/><polyline points="381.3,76.3 379.8,76.3 378.4,76.4 377.5,75.7 376.5,75.2 377.5,74.5 378.4,73.8 379.8,74.5 381.3,73.8 382.5,74.2 383.6,74.8 382.1,75.0 381.3,76.3" stroke-width="1.6"/><polyline points="407.7,42.6 407.6,44.2 406.3,45.3 405.3,43.9 404.7,42.8 405.5,41.8 407.0,41.2 407.7,42.6" stroke-width="1.6"/><polyline points="393.1,95.1 391.5,94.3 390.9,92.7 392.1,92.9 393.1,92.4 393.9,91.6 394.9,92.6 396.3,92.1 397.0,93.6 396.5,94.8 395.4,95.6 394.3,95.4 393.1,95.1" stroke-width="1.6"/><polyline points="382.4,94.3 383.3,93.5 384.4,94.0 385.5,94.4 386.6,94.7 385.8,95.5 385.0,96.2 384.0,96.2 382.9,96.1 381.9,95.7 382.4,94.3" stroke-width="1.6"/><polyline points="400.7,49.8 400.4,51.8 399.3,52.7 397.9,52.0 396.7,52.4 396.0,51.1 394.8,50.3 395.7,49.7 396.8,49.5 397.8,49.0 398.8,49.2 399.6,50.2 400.7,49.8" stroke-width="1.6"/><polyline points="386.3,73.1 386.3,71.9 385.3,71.2 386.1,69.5 387.1,68.2 387.9,69.0 389.0,69.4 389.3,70.4 389.7,72.3 389.1,73.5 387.9,73.9 386.3,73.1" stroke-width="1.6"/><polyline points="392.0,76.7 391.0,76.2 389.9,76.8 388.9,76.6 387.9,76.1 386.8,76.6 385.8,75.9 387.0,75.5 387.1,74.2 388.1,73.3 388.8,72.3 389.8,73.2 391.0,72.6 391.5,73.7 392.1,74.8 392.0,76.7" stroke-width="1.6"/><polyline points="387.9,79.1 389.1,77.8 390.7,78.5 391.4,79.7 390.7,80.9 389.4,81.6 388.4,81.4 387.6,80.6 387.9,79.1" stroke-width="1.6"/><polyline points="404.2,41.7 405.5,41.3 406.5,42.2 406.7,43.8 406.1,44.9 404.9,45.1 403.3,45.4 402.3,44.3 401.5,42.9 402.3,41.5 404.2,41.7" stroke-width="1.6"/><polyline points="399.1,63.5 397.7,63.8 396.6,62.7 396.5,61.7 396.9,60.7 398.1,59.8 399.2,60.0 399.3,61.3 400.5,61.8 399.9,62.7 399.1,63.5" stroke-width="1.6"/><polyline points="383.2,88.5 384.4,88.6 385.6,89.0 386.8,88.5 388.3,89.6 387.3,90.2 386.2,90.6 385.1,90.6 384.1,90.0 383.0,90.1 383.2,88.5" stroke-width="1.6"/><polyline points="374.4,46.6 374.1,47.6 372.7,48.0 372.8,49.2 372.2,48.2 371.3,47.3 370.7,46.3 371.3,45.3 371.2,44.2 372.4,44.4 373.2,43.5 373.5,44.6 373.5,45.8 374.4,46.6" stroke-width="1.6"/><polyline points="396.6,42.2 396.9,41.1 396.9,39.9 397.7,39.6 398.8,40.4 398.9,42.3 398.1,43.3 398.8,44.4 397.7,45.5 396.5,44.5 397.0,43.4 396.6,42.2" stroke-width="1.6"/><polyline points="384.8,62.4 385.9,62.9 387.1,62.8 387.5,63.7 386.2,64.0 384.9,64.1 383.3,64.5 382.3,63.5 381.0,63.5 382.0,62.7 383.4,63.0 384.8,62.4" stroke-width="1.6"/><polyline points="407.4,66.4 407.5,66.9 405.6,67.4 404.1,67.0 403.0,66.1 404.8,65.5 406.3,65.0 407.5,65.8 407.4,66.4" stroke-width="1.6"/><polyline points="376.8,70.8 375.8,69.7 377.2,68.6 378.3,68.4 379.3,68.3 380.1,69.4 381.3,69.0 381.2,70.3 380.4,71.1 379.4,70.7 378.4,71.1 376.8,70.8" stroke-width="1.6"/><polyline points="335.2,80.6 336.5,80.4 337.8,80.3 338.8,80.8 339.7,81.2 340.8,80.8 339.4,81.7 338.1,82.0 336.8,81.3 335.5,81.8 335.2,80.6" stroke-width="1.6"/><polyline points="379.0,76.4 377.9,75.3 376.5,75.8 377.6,74.3 378.7,74.5 379.8,74.3 380.4,75.5 379.0,76.4" stroke-width="1.6"/><polyline points="355.6,85.5 357.1,84.8 358.2,85.6 359.4,85.0 359.9,86.7 359.3,87.5 358.6,88.2 357.3,87.8 356.0,88.0 354.6,86.7 355.6,85.5" stroke-width="1.6"/><polyline points="388.8,82.4 388.6,83.5 387.8,84.3 386.5,84.4 385.4,84.0 385.2,82.7 386.2,81.1 388.0,81.2 388.8,82.4" stroke-width="1.6"/><polyline points="369.7,69.9 370.5,70.8 369.1,71.4 367.6,70.7 368.3,69.9 369.7,69.9" stroke-width="1.6"/><polyline points="360.1,72.8 360.5,72.2 362.1,72.4 362.8,73.0 362.6,74.3 361.3,74.2 359.9,73.9 360.1,72.8" stroke-width="1.6"/><polyline points="327.1,83.0 327.0,81.2 328.2,80.8 329.3,80.3 331.2,80.6 331.1,81.9 331.4,83.1 330.3,84.6 329.1,84.2 328.2,85.2 327.4,84.2 327.1,83.0" stroke-width="1.6"/><polyline points="333.8,69.9 334.7,68.6 336.0,69.1 336.5,70.5 336.6,71.8 334.7,72.2 333.3,71.4 333.8,69.9" stroke-width="1.6"/><polyline points="319.8,89.4 321.1,88.7 322.7,88.7 323.1,89.9 324.3,90.2 323.3,91.7 322.4,92.4 321.3,92.0 320.3,91.7 319.6,90.9 319.8,89.4" stroke-width="1.6"/><polyline points="346.1,97.4 347.7,97.6 347.8,99.0 346.4,99.4 345.3,98.5 346.1,97.4" stroke-width="1.6"/><polyline points="384.7,93.3 383.4,94.7 382.1,93.7 382.2,92.5 381.3,91.6 382.5,90.4 384.2,89.7 384.9,91.3 384.3,92.2 384.7,93.3" stroke-width="1.6"/><polyline points="363.9,89.8 365.6,90.6 365.1,91.7 365.4,92.9 364.0,93.4 363.0,92.2 363.3,90.9 363.9,89.8" stroke-width="1.6"/><polyline points="330.0,105.4 330.3,103.6 331.1,103.0 331.9,102.4 332.9,104.0 332.4,105.8 331.2,105.9 330.0,105.4" stroke-width="1.6"/><polyline points="365.9,95.6 364.4,96.6 363.3,97.0 362.3,96.7 361.4,96.0 360.9,94.1 362.1,93.4 363.4,93.2 365.0,92.7 366.3,93.6 366.7,94.7 365.9,95.6" stroke-width="1.6"/><polyline points="323.2,68.5 322.2,69.0 321.2,69.2 320.1,69.0 319.3,67.6 320.1,66.2 321.2,65.9 322.3,66.1 323.2,67.4 323.2,68.5" stroke-width="1.6"/><polyline points="387.0,68.4 387.6,70.1 386.3,71.1 385.0,71.7 384.0,70.7 383.9,69.6 384.8,68.9 384.8,67.8 386.1,67.5 387.0,68.4" stroke-width="1.6"/><polyline points="382.0,90.3 381.5,88.7 382.8,88.8 383.5,88.0 384.1,87.0 385.6,87.8 386.9,88.6 387.7,89.9 386.3,90.5 385.8,91.8 384.8,91.7 383.8,91.3 382.6,91.4 382.0,90.3" stroke-width="1.6"/><polyline points="377.5,72.9 378.5,73.5 377.7,74.0 376.5,74.4 375.8,73.7 375.9,73.0 377.5,72.9" stroke-width="1.6"/><polyline points="329.9,80.7 330.0,82.6 328.9,82.6 328.0,83.4 326.5,83.6 325.8,82.9 325.2,82.1 325.5,80.5 326.6,79.1 328.4,78.9 328.8,80.0 329.9,80.7" stroke-width="1.6"/><polyline points="357.6,80.9 358.7,81.8 358.6,82.9 358.7,84.0 357.9,84.6 356.4,85.0 355.3,84.3 355.6,83.1 356.3,81.6 357.6,80.9" stroke-width="1.6"/><polyline points="371.7,83.7 371.3,82.7 369.9,82.7 369.6,81.6 369.8,80.2 370.8,79.3 371.9,79.0 372.7,78.2 372.4,79.4 373.2,80.3 373.5,81.4 372.5,82.5 371.7,83.7" stroke-width="1.6"/><polyline points="321.0,94.6 322.1,93.4 323.7,93.4 324.6,94.2 324.9,95.3 325.3,96.4 324.5,97.4 323.4,97.8 322.3,98.3 321.5,97.4 320.3,97.4 319.3,97.0 319.7,95.4 321.0,94.6" stroke-width="1.6"/><polyline points="342.0,73.4 342.6,72.7 343.8,72.2 345.1,71.8 346.4,72.5 347.9,73.1 346.2,73.6 345.2,73.0 344.1,74.2 343.1,72.8 342.0,73.4" stroke-width="1.6"/><polyline points="346.7,70.8 347.0,70.1 348.2,69.3 349.4,70.0 351.1,70.1 352.0,70.9 350.4,71.4 349.4,71.3 348.3,71.3 346.7,70.8" stroke-width="1.6"/><polyline points="334.8,105.5 333.6,104.8 334.2,103.4 335.2,102.4 336.9,102.4 338.0,103.5 338.0,105.3 336.7,106.0 334.8,105.5" stroke-width="1.6"/><polyline points="319.7,93.3 321.5,93.0 322.3,93.6 322.3,94.3 320.7,94.4 319.6,94.1 319.7,93.3" stroke-width="1.6"/><polyline points="385.4,73.8 385.8,75.6 385.4,76.7 384.2,76.8 382.7,75.6 382.0,74.2 383.7,73.1 385.4,73.8" stroke-width="1.6"/><polyline points="363.8,71.6 365.8,71.5 366.3,72.8 366.5,74.1 365.7,74.9 364.8,75.7 364.3,74.5 363.2,74.1 362.0,73.9 362.6,72.4 363.8,71.6" stroke-width="1.6"/><polyline points="389.2,77.2 390.0,78.9 389.9,80.1 389.0,81.0 388.0,81.5 386.6,81.5 386.0,80.3 386.0,79.2 386.7,78.3 387.5,76.8 389.2,77.2" stroke-width="1.6"/><polyline points="465.0,346.1 464.3,346.6 463.1,347.0" stroke-width="1.35"/><polyline points="466.8,348.8 468.1,348.2 469.2,346.7" stroke-width="1.35"/><polyline points="469.9,353.4 470.0,352.0 472.2,351.4" stroke-width="1.35"/><polyline points="469.0,352.1 467.8,353.1 468.0,353.2" stroke-width="1.35"/><polyline points="469.3,352.5 470.9,351.2 472.0,350.4" stroke-width="1.35"/><polyline points="449.6,338.0 450.1,336.7 449.2,336.3" stroke-width="1.35"/><polyline points="478.2,358.4 478.9,358.0 477.7,356.0" stroke-width="1.35"/><polyline points="461.5,345.0 461.6,345.4 462.1,347.2" stroke-width="1.35"/><polyline points="452.8,338.3 453.9,338.2 454.6,337.5" stroke-width="1.35"/><polyline points="474.9,357.9 476.1,356.3 475.9,355.2" stroke-width="1.35"/><polyline points="484.3,358.1 484.4,358.2 484.9,359.2" stroke-width="1.35"/><polyline points="444.0,338.0 443.8,339.4 444.2,339.4" stroke-width="1.35"/><polyline points="486.2,356.0 485.4,355.6 485.3,354.5" stroke-width="1.35"/><polyline points="505.8,361.0 506.5,360.7 507.6,360.8" stroke-width="1.35"/><polyline points="500.1,356.8 501.0,356.7 501.7,355.8" stroke-width="1.35"/><polyline points="482.7,356.4 483.2,356.8 483.7,358.7" stroke-width="1.35"/><polyline points="490.1,355.5 490.4,353.9 490.6,353.5" stroke-width="1.35"/><polyline points="479.9,356.8 479.5,358.3 480.2,358.0" stroke-width="1.35"/><polyline points="505.5,360.8 505.7,359.3 505.9,359.9" stroke-width="1.35"/><polyline points="478.5,357.1 478.5,356.5 478.8,354.0" stroke-width="1.35"/><polyline points="571.5,414.2 571.6,413.3 572.0,414.5" stroke-width="1.2"/><polyline points="568.1,395.4 567.2,395.1 566.4,396.0" stroke-width="1.2"/><polyline points="566.0,386.7 565.3,387.5 564.3,388.0" stroke-width="1.2"/><polyline points="569.6,403.9 571.2,404.4 570.8,404.2" stroke-width="1.2"/><polyline points="570.2,407.5 571.6,407.9 571.8,406.2" stroke-width="1.2"/><polyline points="572.6,420.4 574.1,420.6 576.0,419.5" stroke-width="1.2"/><polyline points="573.9,429.4 572.6,429.8 570.3,429.5" stroke-width="1.2"/><polyline points="571.8,415.7 570.8,416.2 570.3,416.1" stroke-width="1.2"/><polyline points="573.6,427.6 571.7,427.3 571.2,427.8" stroke-width="1.2"/><polyline points="572.9,422.7 572.1,423.4 570.2,423.3" stroke-width="1.2"/><polyline points="572.8,421.5 572.1,422.1 570.6,421.1" stroke-width="1.2"/><polyline points="566.8,389.9 567.7,390.2 569.3,389.3" stroke-width="1.2"/><polyline points="573.2,424.4 573.7,423.8 573.9,424.7" stroke-width="1.2"/><polyline points="568.7,398.7 567.7,399.6 566.1,399.1" stroke-width="1.2"/><polyline points="557.0,478.1 558.0,478.8 559.3,479.1" stroke-width="1.2"/><polyline points="564.8,461.0 564.6,460.5 562.8,459.1" stroke-width="1.2"/><polyline points="545.1,511.3 545.5,510.7 545.5,511.8" stroke-width="1.2"/><polyline points="550.4,489.0 550.0,487.8 548.6,488.2" stroke-width="1.2"/><polyline points="545.1,505.4 546.5,506.1 545.8,505.2" stroke-width="1.2"/><polyline points="557.1,478.0 555.8,477.7 556.2,477.3" stroke-width="1.2"/><polyline points="572.4,453.4 571.6,452.5 570.7,451.6" stroke-width="1.2"/><polyline points="546.6,494.4 548.1,494.5 548.0,495.5" stroke-width="1.2"/><polyline points="568.6,457.2 567.9,456.9 566.3,454.8" stroke-width="1.2"/><polyline points="545.1,511.4 543.5,511.8 542.4,512.1" stroke-width="1.2"/><polyline points="545.2,499.5 545.4,500.2 547.1,500.8" stroke-width="1.2"/><polyline points="554.9,482.5 553.6,482.1 554.5,482.3" stroke-width="1.2"/><polyline points="479.2,537.7 478.3,537.5 477.5,536.0" stroke-width="1.2"/><polyline points="490.5,531.4 490.5,532.0 490.4,532.8" stroke-width="1.2"/><polyline points="478.2,539.7 478.0,540.1 477.5,539.7" stroke-width="1.2"/><polyline points="469.1,546.4 469.0,545.1 468.9,545.3" stroke-width="1.2"/><polyline points="474.6,543.7 475.8,545.1 476.0,545.2" stroke-width="1.2"/><polyline points="504.1,528.1 504.8,530.0 504.9,530.4" stroke-width="1.2"/><polyline points="484.6,533.7 483.9,533.5 484.4,533.5" stroke-width="1.2"/><polyline points="460.0,549.3 459.6,549.9 459.4,551.2" stroke-width="1.2"/><polyline points="458.2,549.3 457.7,548.2 458.7,546.8" stroke-width="1.2"/><polyline points="510.9,527.0 511.1,525.7 510.1,525.0" stroke-width="1.2"/><polyline points="511.3,526.9 511.5,525.7 510.7,525.8" stroke-width="1.2"/><polyline points="463.9,549.0 464.2,547.9 463.3,547.9" stroke-width="1.2"/><polyline points="511.6,526.9 511.0,527.3 510.8,528.4" stroke-width="1.2"/><polyline points="478.3,539.4 477.0,539.4 475.6,539.5" stroke-width="1.2"/><polyline points="276.1,120.7 278.0,121.1 278.0,122.4 276.4,122.8 275.1,122.0 276.1,120.7" stroke-width="1.4"/><polyline points="265.4,125.9 264.9,124.9 265.4,123.9 266.7,123.6 267.8,124.0 268.2,125.1 267.2,125.8 266.4,126.2 265.4,125.9" stroke-width="1.4"/><polyline points="255.6,125.2 256.6,123.7 257.5,123.9 258.2,124.5 258.6,125.8 257.9,126.7 257.0,127.5 256.2,126.6 255.6,125.2" stroke-width="1.4"/><polyline points="277.3,126.1 277.3,124.2 278.6,123.7 280.4,124.0 280.3,125.6 278.9,126.9 277.3,126.1" stroke-width="1.4"/><polyline points="273.9,124.3 272.9,123.6 273.2,122.7 273.6,122.1 274.8,122.3 276.2,123.1 275.0,123.8 273.9,124.3" stroke-width="1.4"/><polyline points="269.7,122.7 268.7,122.7 267.8,123.3 266.4,122.1 267.6,120.6 268.6,120.9 269.5,121.3 269.7,122.7" stroke-width="1.4"/><polyline points="281.8,126.0 280.0,126.5 278.4,127.1 277.4,125.6 278.0,124.2 278.7,123.8 280.4,123.2 281.5,124.3 281.8,126.0" stroke-width="1.4"/><polyline points="271.3,122.0 272.3,122.1 273.3,121.8 273.6,122.9 273.8,123.9 273.0,124.8 271.8,124.9 270.9,124.3 270.1,123.7 270.6,122.8 271.3,122.0" stroke-width="1.4"/><polyline points="269.4,121.2 270.9,120.5 271.9,120.9 272.9,120.4 274.5,121.1 273.4,122.0 272.1,122.6 271.0,122.6 270.0,122.0 269.4,121.2" stroke-width="1.4"/><polyline points="488.5,90.7 489.3,88.5 489.1,86.8" stroke-width="1.6"/><polyline points="493.7,92.8 493.7,93.8 492.6,94.9" stroke-width="1.6"/><polyline points="411.0,41.3 408.9,41.5 406.9,42.0" stroke-width="1.6"/><polyline points="447.2,67.6 447.2,66.4 447.5,66.4" stroke-width="1.6"/><polyline points="428.8,72.8 428.2,73.8 427.8,75.5" stroke-width="1.6"/><polyline points="413.5,1.7 412.0,2.4 411.4,2.0" stroke-width="1.6"/><polyline points="413.7,65.2 415.2,63.2 417.4,61.8" stroke-width="1.6"/><polyline points="584.7,122.9 585.5,124.3 586.8,126.8" stroke-width="1.6"/><polyline points="553.1,129.3 553.5,126.8 552.6,124.9" stroke-width="1.6"/><polyline points="432.5,71.2 433.3,73.0 435.9,74.7" stroke-width="1.6"/><polyline points="534.2,121.4 535.5,119.3 536.4,118.3" stroke-width="1.6"/><polyline points="580.7,124.4 579.9,123.4 579.9,122.1" stroke-width="1.6"/><polyline points="481.4,86.4 480.1,87.8 479.5,88.2" stroke-width="1.6"/><polyline points="410.8,39.4 409.3,40.3 409.7,39.3" stroke-width="1.6"/><polyline points="411.8,23.8 412.6,24.5 413.0,24.2" stroke-width="1.6"/><polyline points="537.1,122.8 537.9,120.6 539.0,119.0" stroke-width="1.6"/><polyline points="414.5,4.8 415.8,5.1 416.3,3.3" stroke-width="1.6"/><polyline points="414.6,55.2 415.7,55.0 415.5,55.1" stroke-width="1.6"/><polyline points="551.0,128.9 551.9,127.1 552.6,125.8" stroke-width="1.6"/><polyline points="410.5,32.3 409.1,31.9 409.1,31.7" stroke-width="1.6"/><polyline points="580.4,124.5 580.2,123.3 580.5,122.4" stroke-width="1.6"/><polyline points="416.7,13.2 418.6,14.8 420.5,17.4" stroke-width="1.6"/><polyline points="415.4,14.4 414.2,13.2 413.5,11.2" stroke-width="1.6"/><polyline points="537.4,122.9 538.3,122.5 537.2,120.9" stroke-width="1.6"/><polyline points="499.4,95.1 499.4,95.6 499.0,97.1" stroke-width="1.6"/><polyline points="414.3,65.8 415.4,65.0 417.0,64.5" stroke-width="1.6"/><polyline points="505.1,99.1 506.7,98.3 508.8,96.8" stroke-width="1.6"/><polyline points="416.0,9.8 418.7,9.6 420.4,9.3" stroke-width="1.6"/><polyline points="411.2,26.3 413.0,27.2 413.6,26.8" stroke-width="1.6"/><polyline points="410.5,32.6 412.6,32.8 415.7,32.9" stroke-width="1.6"/><polyline points="412.2,22.7 410.4,21.6 409.4,21.9" stroke-width="1.6"/><polyline points="583.5,123.3 583.3,124.8 584.6,125.1" stroke-width="1.6"/><polyline points="535.3,121.9 534.1,123.2 533.2,124.5" stroke-width="1.6"/><polyline points="448.3,67.8 448.6,65.9 448.4,64.0" stroke-width="1.6"/><polyline points="563.7,130.0 563.3,131.9 562.8,134.6" stroke-width="1.6"/><polyline points="410.5,32.5 409.3,32.5 407.6,32.1" stroke-width="1.6"/><polyline points="582.0,123.9 581.9,125.7 582.9,127.8" stroke-width="1.6"/><polyline points="416.6,11.6 415.2,11.0 414.5,12.9" stroke-width="1.6"/><polyline points="544.7,126.4 545.4,125.6 545.5,123.7" stroke-width="1.6"/><polyline points="541.3,124.8 541.7,123.1 543.3,121.7" stroke-width="1.6"/><polyline points="467.8,76.3 469.1,74.6 469.4,74.7" stroke-width="1.6"/><polyline points="413.9,2.8 413.0,3.3 411.1,4.3" stroke-width="1.6"/><polyline points="412.5,60.8 414.8,61.0 416.4,61.6" stroke-width="1.6"/><polyline points="586.4,122.2 585.6,120.8 585.6,117.7" stroke-width="1.6"/><polyline points="413.4,18.9 415.9,19.8 417.3,21.0" stroke-width="1.6"/><polyline points="521.0,116.1 521.1,114.5 522.7,111.2" stroke-width="1.6"/><polyline points="412.4,63.9 413.6,62.5 414.6,62.6" stroke-width="1.6"/><polyline points="581.9,123.9 580.9,122.5 581.2,122.4" stroke-width="1.6"/><polyline points="466.6,75.4 465.5,76.1 465.4,76.0" stroke-width="1.6"/><polyline points="435.1,69.0 434.2,66.7 435.3,65.1" stroke-width="1.6"/><polyline points="414.7,66.1 416.8,64.4 418.1,62.3" stroke-width="1.6"/><polyline points="410.6,37.5 410.1,37.9 407.9,37.9" stroke-width="1.6"/><polyline points="421.5,67.6 421.4,69.5 421.8,69.8" stroke-width="1.6"/><polyline points="581.4,124.1 581.6,125.4 582.7,125.1" stroke-width="1.6"/><polyline points="458.1,70.4 457.7,70.3 459.3,68.7" stroke-width="1.6"/><polyline points="531.1,120.1 530.2,121.1 530.3,122.6" stroke-width="1.6"/><polyline points="497.1,94.2 497.3,93.2 499.1,91.6" stroke-width="1.6"/><polyline points="531.7,120.4 532.4,119.2 533.3,117.1" stroke-width="1.6"/><polyline points="503.5,96.9 501.6,97.8 499.7,99.0" stroke-width="1.6"/><polyline points="559.1,129.9 559.2,128.1 559.7,127.4" stroke-width="1.6"/><polyline points="566.0,130.0 566.5,131.2 566.2,133.7" stroke-width="1.6"/><polyline points="415.4,14.4 414.1,14.0 413.1,12.7" stroke-width="1.6"/><polyline points="563.0,130.0 562.6,129.0 563.1,127.9" stroke-width="1.6"/><polyline points="410.5,36.8 412.9,36.8 415.0,36.1" stroke-width="1.6"/><polyline points="430.9,72.9 430.0,72.4 428.5,72.0" stroke-width="1.6"/><polyline points="414.9,6.1 412.3,7.2 411.2,6.6" stroke-width="1.6"/><polyline points="509.7,106.0 509.1,105.7 507.4,106.1" stroke-width="1.6"/><polyline points="512.6,110.7 513.4,109.2 513.6,108.2" stroke-width="1.6"/><polyline points="542.0,125.2 542.2,126.6 540.0,126.6" stroke-width="1.6"/><polyline points="424.0,69.8 422.0,70.6 420.4,72.4" stroke-width="1.6"/><polyline points="570.9,101.6 571.8,101.3 571.8,100.8" stroke-width="1.6"/><polyline points="543.8,34.2 542.4,34.3 541.7,33.0" stroke-width="1.6"/><polyline points="522.8,9.8 521.9,9.4 522.7,8.3" stroke-width="1.6"/><polyline points="548.8,54.5 547.5,55.0 546.0,55.5" stroke-width="1.6"/><polyline points="580.9,111.9 579.6,112.5 578.5,114.3" stroke-width="1.6"/><polyline points="514.3,12.3 514.2,13.4 515.4,15.7" stroke-width="1.6"/><polyline points="549.4,55.9 551.4,54.9 552.2,55.2" stroke-width="1.6"/><polyline points="542.2,21.3 544.6,21.0 544.8,20.3" stroke-width="1.6"/><polyline points="564.6,93.6 564.3,94.3 562.4,95.9" stroke-width="1.6"/><polyline points="497.9,4.8 497.9,5.7 497.8,6.9" stroke-width="1.6"/><polyline points="550.5,58.9 549.7,59.4 548.4,59.3" stroke-width="1.6"/><polyline points="571.5,102.3 571.6,101.2 572.9,100.0" stroke-width="1.6"/><polyline points="525.3,9.0 525.3,10.4 525.8,10.6" stroke-width="1.6"/><polyline points="566.3,96.1 567.9,94.4 568.2,94.8" stroke-width="1.6"/><polyline points="522.3,9.9 522.3,10.5 522.4,13.0" stroke-width="1.6"/><polyline points="552.0,63.3 552.3,62.9 552.8,62.7" stroke-width="1.6"/><polyline points="498.0,4.8 498.0,6.3 496.6,8.0" stroke-width="1.6"/><polyline points="557.9,83.1 557.2,83.1 554.8,85.5" stroke-width="1.6"/><polyline points="571.6,102.5 572.5,101.9 572.9,101.2" stroke-width="1.6"/><polyline points="543.0,38.2 544.5,38.1 545.5,37.8" stroke-width="1.6"/><polyline points="543.7,31.2 544.8,31.8 547.9,30.1" stroke-width="1.6"/><polyline points="578.2,109.2 576.2,110.4 575.9,111.8" stroke-width="1.6"/><polyline points="546.7,49.6 547.6,49.6 547.2,48.3" stroke-width="1.6"/><polyline points="504.0,8.2 504.1,9.1 504.1,10.0" stroke-width="1.6"/><polyline points="536.5,11.5 537.7,10.3 537.4,10.2" stroke-width="1.6"/><polyline points="553.6,68.7 554.4,67.9 554.5,68.6" stroke-width="1.6"/><polyline points="554.4,72.0 556.0,72.0 557.3,71.5" stroke-width="1.6"/><polyline points="563.8,92.6 563.7,92.9 564.5,92.3" stroke-width="1.6"/><polyline points="586.2,118.1 588.2,117.1 589.0,117.9" stroke-width="1.6"/><polyline points="491.9,1.6 491.0,2.0 492.0,3.5" stroke-width="1.6"/><polyline points="502.3,7.2 501.7,8.2 499.9,10.6" stroke-width="1.6"/><polyline points="511.3,12.6 511.8,11.3 511.4,11.4" stroke-width="1.6"/><polyline points="543.0,38.1 542.1,38.3 540.7,38.5" stroke-width="1.6"/><polyline points="493.4,2.4 493.8,1.4 494.8,0.5" stroke-width="1.6"/><polyline points="533.3,8.3 533.6,7.3 535.4,5.7" stroke-width="1.6"/><polyline points="531.3,5.2 532.1,7.0 531.6,7.2" stroke-width="1.6"/><polyline points="518.6,8.7 518.6,10.1 519.7,9.6" stroke-width="1.6"/><polyline points="502.4,3.6 502.4,3.7 500.7,4.5" stroke-width="1.6"/><polyline points="503.7,4.5 502.3,5.7 502.4,7.6" stroke-width="1.6"/><polyline points="512.1,10.0 512.7,12.6 512.4,13.8" stroke-width="1.6"/><polyline points="517.8,8.8 518.5,11.1 518.3,13.1" stroke-width="1.6"/><polyline points="506.3,6.2 505.5,8.9 503.6,10.7" stroke-width="1.6"/><polyline points="508.6,7.8 507.2,8.9 506.5,9.5" stroke-width="1.6"/><polyline points="529.3,5.8 530.0,6.9 528.9,7.3" stroke-width="1.6"/><polyline points="531.9,5.0 532.7,7.8 533.7,9.4" stroke-width="1.6"/><polyline points="516.8,9.0 516.9,11.3 517.3,12.9" stroke-width="1.6"/><polyline points="501.9,3.3 500.4,4.7 501.0,5.8" stroke-width="1.6"/><polyline points="517.3,8.9 517.2,10.5 518.2,12.7" stroke-width="1.6"/><polyline points="511.1,9.4 510.0,10.7 509.8,11.6" stroke-width="1.6"/><polyline points="521.4,8.1 521.9,11.1 521.9,13.3" stroke-width="1.6"/><polyline points="505.3,5.5 505.1,5.9 504.1,8.4" stroke-width="1.6"/><polyline points="530.1,5.6 530.4,7.1 531.5,8.3" stroke-width="1.6"/><polyline points="500.8,2.5 499.8,3.9 498.2,5.9" stroke-width="1.6"/><polyline points="527.6,6.3 528.3,7.8 527.9,8.0" stroke-width="1.6"/><polyline points="515.8,9.2 516.2,10.3 516.9,11.8" stroke-width="1.6"/><polyline points="504.0,4.6 503.5,6.7 501.8,8.8" stroke-width="1.6"/><polyline points="529.8,5.7 529.9,5.5 529.8,6.3" stroke-width="1.6"/><polyline points="513.7,9.7 514.7,11.1 513.5,14.4" stroke-width="1.6"/><polyline points="524.7,7.2 524.5,8.1 526.5,10.4" stroke-width="1.6"/><polyline points="527.3,6.4 528.3,8.9 528.0,9.9" stroke-width="1.6"/><polyline points="596.2,2.0 597.9,1.4 598.6,2.2" stroke-width="1.6"/><polyline points="597.0,9.7 597.0,10.3 597.4,9.9" stroke-width="1.6"/><polyline points="580.6,25.0 581.2,26.3 580.4,27.0" stroke-width="1.6"/><polyline points="592.9,18.1 593.8,18.6 595.1,18.7" stroke-width="1.6"/><polyline points="573.0,25.0 572.4,26.3 573.6,27.9" stroke-width="1.6"/><polyline points="576.7,25.0 577.3,25.7 577.7,26.3" stroke-width="1.6"/><polyline points="596.8,8.0 597.7,8.4 598.2,8.1" stroke-width="1.6"/><polyline points="596.4,4.3 597.4,4.2 598.5,3.8" stroke-width="1.6"/><polyline points="571.6,24.4 571.2,24.1 569.6,24.1" stroke-width="1.6"/><polyline points="596.9,9.4 597.1,9.5 599.0,9.5" stroke-width="1.6"/><polyline points="485.8,134.6 485.1,135.2 485.6,137.6" stroke-width="1.6"/><polyline points="424.0,109.7 424.0,109.6 422.5,111.6" stroke-width="1.6"/><polyline points="482.2,134.2 482.0,136.6 482.2,138.2" stroke-width="1.6"/><polyline points="412.8,106.9 414.2,108.7 414.1,111.3" stroke-width="1.6"/><polyline points="495.0,143.2 496.4,143.1 496.4,143.2" stroke-width="1.6"/><polyline points="479.7,134.0 480.1,136.0 479.5,137.8" stroke-width="1.6"/><polyline points="457.7,125.6 457.7,127.3 457.1,128.5" stroke-width="1.6"/><polyline points="406.7,110.0 407.6,111.1 408.6,112.1" stroke-width="1.6"/><polyline points="482.8,134.3 483.4,136.2 481.5,137.3" stroke-width="1.6"/><polyline points="399.0,110.0 399.3,108.9 399.1,108.6" stroke-width="1.6"/><polyline points="461.4,127.9 461.6,126.6 462.7,125.5" stroke-width="1.6"/><polyline points="460.8,127.5 459.6,129.0 460.5,129.5" stroke-width="1.6"/><polyline points="411.2,107.8 411.9,108.1 411.3,109.5" stroke-width="1.6"/><polyline points="484.0,134.4 484.9,132.4 484.5,130.8" stroke-width="1.6"/><polyline points="483.9,134.4 484.5,136.2 484.4,138.5" stroke-width="1.6"/><polyline points="455.8,124.6 456.5,122.4 457.5,122.2" stroke-width="1.6"/><polyline points="483.3,134.4 483.2,132.6 482.9,131.6" stroke-width="1.6"/><polyline points="427.5,113.7 427.6,112.2 427.9,112.6" stroke-width="1.6"/><polyline points="479.7,134.0 479.1,131.3 480.6,129.2" stroke-width="1.6"/><polyline points="480.9,134.1 481.0,134.8 479.6,136.8" stroke-width="1.6"/><polyline points="407.8,109.5 408.0,110.5 409.6,112.1" stroke-width="1.6"/><polyline points="431.6,115.8 431.6,114.3 433.5,113.4" stroke-width="1.6"/><polyline points="439.5,118.2 439.2,117.3 440.7,115.5" stroke-width="1.6"/><polyline points="457.2,125.3 456.4,127.0 456.3,127.6" stroke-width="1.6"/><polyline points="394.5,112.5 393.6,111.1 393.8,109.5" stroke-width="1.6"/><polyline points="441.0,118.7 441.0,117.8 442.9,116.4" stroke-width="1.6"/><polyline points="465.8,130.3 465.2,132.0 464.4,132.3" stroke-width="1.6"/><polyline points="495.0,143.2 494.4,143.6 493.5,143.1" stroke-width="1.6"/><polyline points="456.8,125.1 457.7,124.8 457.4,123.9" stroke-width="1.6"/><polyline points="442.0,119.1 441.8,120.8 441.3,122.8" stroke-width="1.6"/><polyline points="485.9,134.6 485.3,132.6 486.1,129.9" stroke-width="1.6"/><polyline points="494.0,140.4 491.8,140.9 489.6,141.1" stroke-width="1.6"/><polyline points="412.8,106.9 413.6,107.9 414.2,107.9" stroke-width="1.6"/><polyline points="397.7,110.4 397.3,110.5 396.6,109.3" stroke-width="1.6"/><polyline points="424.8,110.7 422.7,112.3 422.4,113.0" stroke-width="1.6"/><polyline points="438.7,118.0 439.8,117.2 440.1,114.6" stroke-width="1.6"/><polyline points="471.2,132.4 470.7,133.0 470.2,134.1" stroke-width="1.6"/><polyline points="416.4,106.7 416.7,108.5 416.0,109.0" stroke-width="1.6"/><polyline points="454.8,124.2 455.2,122.5 455.3,121.8" stroke-width="1.6"/><polyline points="484.5,134.5 484.5,133.0 485.4,132.1" stroke-width="1.6"/><polyline points="399.0,110.0 399.4,108.3 399.1,107.9" stroke-width="1.6"/><polyline points="401.4,110.0 402.0,110.5 401.1,112.4" stroke-width="1.6"/><polyline points="397.7,110.4 396.6,108.1 394.8,107.0" stroke-width="1.6"/><polyline points="485.3,134.5 485.2,135.7 485.1,137.4" stroke-width="1.6"/><polyline points="478.2,133.8 477.8,133.5 479.3,132.0" stroke-width="1.6"/><polyline points="503.3,180.7 503.4,181.6 501.3,182.0" stroke-width="1.6"/><polyline points="493.5,181.7 493.5,182.9 494.0,183.9" stroke-width="1.6"/><polyline points="496.1,162.1 495.6,162.2 494.6,163.4" stroke-width="1.6"/><polyline points="482.3,154.6 482.6,154.9 480.8,155.5" stroke-width="1.6"/><polyline points="502.4,169.9 503.4,169.7 504.4,168.3" stroke-width="1.6"/><polyline points="492.2,172.4 491.5,172.7 491.4,173.5" stroke-width="1.6"/><polyline points="484.3,181.3 483.8,183.4 484.1,185.1" stroke-width="1.6"/><polyline points="492.0,181.7 492.0,180.4 492.3,179.0" stroke-width="1.6"/><polyline points="485.7,172.7 485.2,174.7 485.4,174.5" stroke-width="1.6"/><polyline points="478.4,153.0 477.3,153.4 477.7,155.5" stroke-width="1.6"/><polyline points="487.2,172.0 488.0,172.6 488.4,174.6" stroke-width="1.6"/><polyline points="486.1,156.4 486.3,154.6 486.4,154.1" stroke-width="1.6"/><polyline points="484.5,181.3 485.5,180.4 483.8,178.5" stroke-width="1.6"/><polyline points="494.3,160.8 493.1,162.2 493.3,161.7" stroke-width="1.6"/><polyline points="491.2,159.0 490.4,159.8 490.7,160.5" stroke-width="1.6"/><polyline points="488.9,181.7 489.7,180.2 488.4,181.2" stroke-width="1.6"/><polyline points="480.4,180.8 480.5,181.7 480.5,182.2" stroke-width="1.6"/><polyline points="479.9,153.6 479.8,154.9 479.0,156.0" stroke-width="1.6"/><polyline points="501.5,172.1 501.5,172.8 502.8,174.4" stroke-width="1.6"/><polyline points="484.3,181.3 484.0,180.1 485.1,179.3" stroke-width="1.6"/><polyline points="497.9,181.5 498.7,182.5 497.7,183.1" stroke-width="1.6"/><polyline points="483.4,155.0 483.0,156.5 482.4,155.9" stroke-width="1.6"/><polyline points="493.4,175.0 494.6,174.2 494.2,172.1" stroke-width="1.6"/><polyline points="492.8,174.8 492.1,175.0 491.8,177.1" stroke-width="1.6"/><polyline points="475.5,179.1 475.5,178.9 476.8,177.1" stroke-width="1.6"/><polyline points="390.2,28.3 390.6,28.8 392.5,31.0" stroke-width="1.6"/><polyline points="390.6,28.1 390.4,26.3 388.6,24.7" stroke-width="1.6"/><polyline points="408.0,47.5 409.0,47.1 410.4,46.5" stroke-width="1.6"/><polyline points="406.2,36.3 406.8,36.2 408.5,37.4" stroke-width="1.6"/><polyline points="375.8,42.5 376.3,43.0 378.0,44.9" stroke-width="1.6"/><polyline points="408.9,64.0 407.7,63.5 408.3,64.2" stroke-width="1.6"/><polyline points="386.5,30.5 386.2,29.1 385.5,28.6" stroke-width="1.6"/><polyline points="406.6,38.5 406.7,39.3 404.5,39.5" stroke-width="1.6"/><polyline points="407.9,73.3 410.1,73.7 410.0,72.5" stroke-width="1.6"/><polyline points="409.0,65.2 407.9,65.6 407.5,65.6" stroke-width="1.6"/><polyline points="408.4,85.4 410.9,86.3 411.9,85.6" stroke-width="1.6"/><polyline points="407.3,30.9 405.6,30.4 402.6,29.4" stroke-width="1.6"/><polyline points="375.4,42.9 374.6,41.1 372.3,41.0" stroke-width="1.6"/><polyline points="406.3,36.7 408.8,36.4 410.0,35.7" stroke-width="1.6"/><polyline points="406.3,25.4 404.7,25.2 404.2,26.2" stroke-width="1.6"/><polyline points="406.9,27.1 407.9,26.2 408.4,26.0" stroke-width="1.6"/><polyline points="409.9,92.3 407.5,92.9 406.1,94.0" stroke-width="1.6"/><polyline points="402.0,23.9 401.3,24.6 401.1,26.1" stroke-width="1.6"/><polyline points="408.0,73.6 408.7,72.7 409.5,73.4" stroke-width="1.6"/><polyline points="408.3,75.2 406.7,75.3 405.0,75.2" stroke-width="1.6"/><polyline points="386.9,30.2 385.9,29.1 386.0,29.1" stroke-width="1.6"/><polyline points="373.4,45.4 374.6,46.4 375.8,47.4" stroke-width="1.6"/><polyline points="407.9,54.3 407.6,53.8 407.1,54.6" stroke-width="1.6"/><polyline points="406.7,33.9 407.3,33.8 407.5,33.9" stroke-width="1.6"/><polyline points="382.5,35.5 382.9,36.1 384.2,35.9" stroke-width="1.6"/><polyline points="407.1,27.6 405.6,27.9 403.7,27.9" stroke-width="1.6"/><polyline points="396.1,25.3 394.8,23.7 393.8,22.7" stroke-width="1.6"/><polyline points="408.6,87.1 410.1,86.0 410.8,86.0" stroke-width="1.6"/><polyline points="407.0,27.5 407.5,27.1 408.1,26.9" stroke-width="1.6"/><polyline points="408.1,69.4 407.0,68.7 405.6,69.3" stroke-width="1.6"/><polyline points="380.5,37.9 381.5,39.0 383.7,40.2" stroke-width="1.6"/><polyline points="377.2,41.1 375.5,39.4 374.5,38.5" stroke-width="1.6"/><polyline points="408.7,66.9 408.0,66.8 406.4,66.1" stroke-width="1.6"/><polyline points="406.6,26.2 405.7,27.4 402.6,28.2" stroke-width="1.6"/><polyline points="408.8,81.9 409.2,81.2 411.7,82.5" stroke-width="1.6"/><polyline points="406.8,39.3 406.9,39.6 408.7,38.6" stroke-width="1.6"/><polyline points="408.8,81.6 410.4,81.4 410.9,82.2" stroke-width="1.6"/><polyline points="408.2,50.1 407.3,49.9 406.2,49.7" stroke-width="1.6"/><polyline points="408.0,47.1 406.7,46.9 405.9,46.3" stroke-width="1.6"/><polyline points="381.7,36.4 382.0,37.9 384.0,38.9" stroke-width="1.6"/><polyline points="257.9,122.5 257.9,120.8 257.7,118.9" stroke-width="1.2"/><polyline points="260.5,122.8 260.4,121.0 260.0,120.5" stroke-width="1.2"/><polyline points="266.7,124.2 266.9,124.9 266.8,126.7" stroke-width="1.2"/><polyline points="281.4,125.4 282.0,125.8 281.9,126.2" stroke-width="1.6"/><polyline points="269.3,124.8 268.3,124.9 269.7,126.9" stroke-width="1.2"/><polyline points="270.9,125.1 270.5,126.2 271.1,125.7" stroke-width="1.2"/><polyline points="277.8,126.0 277.6,124.7 277.4,124.5" stroke-width="1.2"/><polyline points="268.4,124.6 268.3,124.8 268.5,126.3" stroke-width="1.2"/><polyline points="280.7,125.5 279.8,125.1 281.0,123.4" stroke-width="1.6"/><polyline points="265.8,124.0 265.9,123.4 266.8,122.0" stroke-width="1.2"/><polyline points="262.8,123.2 262.6,123.3 261.9,125.3" stroke-width="1.2"/><polyline points="273.0,125.4 272.3,125.1 272.9,123.0" stroke-width="1.2"/><polyline points="275.5,125.7 274.8,125.9 276.4,127.1" stroke-width="1.2"/><polyline points="257.1,122.4 257.8,121.5 257.4,119.6" stroke-width="1.2"/><polyline points="558.3,210.6 557.5,211.3 558.0,212.5" stroke-width="1.4"/><polyline points="603.3,220.5 604.4,219.2 606.3,218.0" stroke-width="1.2"/><polyline points="602.0,218.8 600.9,219.6 601.4,219.8" stroke-width="1.2"/><polyline points="548.5,206.8 550.1,205.7 550.4,203.9" stroke-width="1.4"/><polyline points="549.4,207.5 549.5,207.0 551.4,204.6" stroke-width="1.4"/><polyline points="599.3,216.5 599.1,217.8 598.4,219.6" stroke-width="1.2"/><polyline points="587.0,210.9 586.8,210.4 587.1,208.1" stroke-width="1.2"/><polyline points="543.7,203.3 544.8,202.8 544.8,201.2" stroke-width="1.4"/><polyline points="582.9,210.4 582.9,211.1 582.4,212.5" stroke-width="1.2"/><polyline points="577.6,210.0 576.5,208.6 576.4,208.6" stroke-width="1.2"/><polyline points="580.2,210.2 579.7,211.3 580.3,213.3" stroke-width="1.2"/><polyline points="598.6,216.1 598.7,216.5 597.1,219.0" stroke-width="1.2"/><polyline points="589.7,211.7 588.3,212.5 587.3,215.1" stroke-width="1.2"/><polyline points="574.5,211.1 573.7,211.1 574.2,209.1" stroke-width="1.2"/><polyline points="547.4,206.0 548.6,204.8 548.0,205.1" stroke-width="1.4"/><polyline points="597.3,215.5 597.4,213.5 598.1,212.1" stroke-width="1.2"/><polyline points="599.1,216.4 600.2,215.2 600.7,214.2" stroke-width="1.2"/><polyline points="554.5,210.2 555.3,208.9 555.2,208.7" stroke-width="1.4"/><polyline points="590.6,212.2 591.8,211.6 592.2,211.0" stroke-width="1.2"/><polyline points="600.2,216.9 601.0,216.3 601.7,213.8" stroke-width="1.2"/><polyline points="546.2,205.1 546.1,206.3 544.8,207.5" stroke-width="1.4"/><polyline points="576.5,210.3 575.8,209.1 574.6,208.5" stroke-width="1.2"/><polyline points="561.5,211.1 562.4,210.3 561.8,210.2" stroke-width="1.2"/><polyline points="581.3,210.3 580.4,212.2 581.3,213.1" stroke-width="1.2"/><polyline points="592.5,213.1 593.0,212.2 593.0,211.8" stroke-width="1.2"/><polyline points="614.9,258.8 613.9,258.9 613.1,259.6" stroke-width="1.2"/><polyline points="612.7,249.3 612.2,248.9 610.9,248.9" stroke-width="1.2"/><polyline points="610.8,239.8 611.6,239.8 613.0,239.0" stroke-width="1.2"/><polyline points="610.2,236.7 612.1,236.9 612.5,237.1" stroke-width="1.2"/><polyline points="615.3,260.5 615.9,259.9 616.6,260.8" stroke-width="1.2"/><polyline points="611.2,241.8 610.1,241.5 610.3,241.7" stroke-width="1.2"/><polyline points="608.2,229.8 606.4,230.2 605.7,230.8" stroke-width="1.2"/><polyline points="609.8,235.1 609.9,235.1 609.3,235.0" stroke-width="1.2"/><polyline points="606.6,226.7 606.9,227.0 609.1,225.1" stroke-width="1.2"/><polyline points="615.0,259.4 616.4,259.4 616.4,259.2" stroke-width="1.2"/><polyline points="653.2,242.3 654.4,241.3 656.1,241.9" stroke-width="1.2"/><polyline points="650.7,236.0 649.8,237.1 650.6,238.8" stroke-width="1.2"/><polyline points="642.5,232.9 641.3,234.2 641.8,235.7" stroke-width="1.2"/><polyline points="644.8,234.0 645.8,231.9 645.0,230.9" stroke-width="1.2"/><polyline points="637.4,230.3 638.2,229.4 639.3,227.3" stroke-width="1.2"/><polyline points="646.5,234.6 646.1,235.9 646.3,236.5" stroke-width="1.2"/><polyline points="651.6,237.5 652.4,236.9 655.1,237.2" stroke-width="1.2"/><polyline points="647.6,234.9 647.4,234.3 649.0,232.3" stroke-width="1.2"/><polyline points="652.5,240.2 651.4,239.8 650.7,241.2" stroke-width="1.2"/><polyline points="651.7,237.8 653.1,237.9 652.4,237.4" stroke-width="1.2"/><polyline points="639.2,231.2 640.3,230.6 640.5,229.9" stroke-width="1.2"/><polyline points="634.2,229.5 634.4,230.6 634.4,231.4" stroke-width="1.2"/><polyline points="649.5,246.1 648.9,245.1 649.0,244.5" stroke-width="1.2"/><polyline points="649.7,245.9 651.2,247.0 651.0,247.5" stroke-width="1.2"/><polyline points="496.9,200.1 496.6,201.2 494.3,201.0" stroke-width="1.4"/><polyline points="495.5,198.2 494.2,198.8 493.3,199.0" stroke-width="1.6"/><polyline points="510.8,216.6 511.4,215.4 511.7,213.4" stroke-width="1.4"/><polyline points="462.9,194.8 462.7,194.7 462.3,194.1" stroke-width="1.6"/><polyline points="514.8,214.1 513.2,213.3 513.3,213.2" stroke-width="1.4"/><polyline points="479.0,193.8 479.2,194.8 478.1,196.5" stroke-width="1.6"/><polyline points="503.3,210.8 503.5,210.4 505.2,209.0" stroke-width="1.4"/><polyline points="490.4,196.4 490.4,195.5 490.2,193.1" stroke-width="1.6"/><polyline points="483.9,195.2 484.5,195.9 483.2,195.6" stroke-width="1.6"/><polyline points="507.9,215.2 509.2,213.9 508.8,212.7" stroke-width="1.4"/><polyline points="498.2,201.7 496.5,202.7 496.6,203.9" stroke-width="1.4"/><polyline points="493.8,197.2 493.8,196.6 494.9,195.6" stroke-width="1.6"/><polyline points="490.6,196.5 491.5,195.6 490.8,196.1" stroke-width="1.6"/><polyline points="513.8,215.6 515.1,215.3 515.9,216.5" stroke-width="1.4"/><polyline points="518.3,202.5 519.2,203.4 520.9,204.1" stroke-width="1.4"/><polyline points="515.2,213.0 516.5,213.5 518.4,213.6" stroke-width="1.4"/><polyline points="468.0,193.4 467.8,192.4 467.3,192.0" stroke-width="1.6"/><polyline points="481.3,194.6 481.1,193.5 481.6,193.3" stroke-width="1.6"/><polyline points="192.3,184.0 191.7,183.6 191.8,184.7" stroke-width="1.4"/><polyline points="193.2,219.0 191.7,219.0 190.7,219.2" stroke-width="1.4"/><polyline points="211.8,299.7 212.3,299.2 213.3,298.0" stroke-width="1.4"/><polyline points="198.1,243.0 197.3,243.1 196.2,244.3" stroke-width="1.4"/><polyline points="192.3,184.6 193.1,185.0 193.6,184.7" stroke-width="1.4"/><polyline points="192.9,196.8 194.0,196.9 195.3,196.2" stroke-width="1.4"/><polyline points="205.7,263.3 206.6,263.7 206.9,262.0" stroke-width="1.4"/><polyline points="196.1,240.2 197.1,238.7 199.1,239.1" stroke-width="1.4"/><polyline points="210.4,297.4 209.1,298.5 208.5,299.4" stroke-width="1.4"/><polyline points="206.7,275.1 206.1,274.9 204.8,274.7" stroke-width="1.4"/><polyline points="192.1,182.0 191.2,182.2 190.2,181.9" stroke-width="1.4"/><polyline points="211.4,298.9 210.6,300.2 209.6,300.0" stroke-width="1.4"/><polyline points="192.4,212.7 190.4,213.1 188.8,213.7" stroke-width="1.4"/><polyline points="198.2,243.2 197.5,243.9 196.6,244.1" stroke-width="1.4"/><polyline points="211.7,299.6 210.1,301.0 209.2,302.2" stroke-width="1.4"/><polyline points="203.6,253.0 202.9,253.9 200.3,252.6" stroke-width="1.4"/><polyline points="208.5,291.6 209.5,291.7 210.6,290.4" stroke-width="1.4"/><polyline points="192.4,213.2 191.6,213.9 189.8,214.2" stroke-width="1.4"/><polyline points="208.6,292.2 208.1,292.4 206.7,291.9" stroke-width="1.4"/><polyline points="192.0,180.4 192.4,180.2 194.4,179.8" stroke-width="1.4"/><polyline points="203.0,250.1 204.0,249.6 206.0,249.4" stroke-width="1.4"/><polyline points="193.8,223.4 193.9,222.5 196.2,222.3" stroke-width="1.4"/><polyline points="195.3,235.1 197.2,235.7 198.0,234.6" stroke-width="1.4"/><polyline points="205.0,259.9 204.3,259.8 202.8,260.1" stroke-width="1.4"/><polyline points="202.4,249.2 203.4,247.8 204.0,247.3" stroke-width="1.4"/><polyline points="192.8,197.4 194.7,197.6 196.4,197.5" stroke-width="1.4"/><polyline points="200.0,245.7 200.8,244.8 202.5,243.6" stroke-width="1.4"/><polyline points="207.9,287.1 208.7,286.8 209.9,286.7" stroke-width="1.4"/><polyline points="193.3,219.4 191.4,220.2 190.9,220.3" stroke-width="1.4"/><polyline points="208.9,294.0 210.9,294.4 212.0,293.8" stroke-width="1.4"/><polyline points="193.6,222.4 194.3,222.6 195.1,222.2" stroke-width="1.4"/><polyline points="205.4,262.2 204.3,262.3 203.1,261.7" stroke-width="1.4"/><polyline points="204.3,256.5 205.4,256.7 207.6,256.4" stroke-width="1.4"/><polyline points="198.5,243.5 197.8,244.5 196.9,246.2" stroke-width="1.4"/><polyline points="208.4,290.3 209.6,290.2 209.8,289.9" stroke-width="1.4"/><polyline points="199.2,244.6 200.0,242.9 202.1,243.3" stroke-width="1.4"/><polyline points="192.9,217.0 194.2,217.4 194.9,217.3" stroke-width="1.4"/><polyline points="192.9,193.1 193.8,193.4 193.8,192.7" stroke-width="1.4"/><polyline points="192.7,191.1 193.4,190.6 193.3,190.8" stroke-width="1.4"/><polyline points="192.1,211.0 193.4,210.8 193.4,211.6" stroke-width="1.4"/><polyline points="397.2,565.4 396.8,564.8 395.5,563.3" stroke-width="1.2"/><polyline points="392.5,574.3 391.4,573.7 391.6,574.5" stroke-width="1.2"/><polyline points="404.1,558.7 404.3,559.1 404.5,560.9" stroke-width="1.2"/><polyline points="405.4,557.7 406.5,558.7 405.6,559.7" stroke-width="1.2"/><polyline points="395.6,568.3 397.1,568.9 398.1,569.8" stroke-width="1.2"/><polyline points="414.8,551.9 414.3,552.3 415.0,553.7" stroke-width="1.2"/><polyline points="400.5,562.1 400.5,561.2 399.7,560.5" stroke-width="1.2"/><polyline points="395.0,569.3 396.2,570.0 398.3,570.4" stroke-width="1.2"/><polyline points="412.2,553.2 411.3,552.0 411.3,551.9" stroke-width="1.2"/><polyline points="391.7,582.2 390.8,582.4 391.1,582.9" stroke-width="1.2"/><polyline points="391.7,583.3 391.2,584.1 389.3,582.5" stroke-width="1.2"/><polyline points="409.4,554.8 408.5,553.9 408.6,553.6" stroke-width="1.2"/><polyline points="397.7,565.0 396.6,564.7 396.7,563.5" stroke-width="1.2"/><polyline points="391.7,580.7 391.4,581.0 390.3,580.6" stroke-width="1.2"/><polyline points="393.7,662.6 394.0,663.1 394.8,662.4" stroke-width="1.2"/><polyline points="394.2,656.5 395.2,657.2 396.1,656.5" stroke-width="1.2"/><polyline points="393.9,659.9 395.3,660.4 395.4,659.5" stroke-width="1.2"/><polyline points="395.0,646.5 395.6,646.1 396.6,646.6" stroke-width="1.2"/><polyline points="393.4,627.6 392.1,627.4 391.6,628.2" stroke-width="1.2"/><polyline points="542.2,543.2 540.3,543.4 539.3,544.9" stroke-width="1.2"/><polyline points="546.7,551.2 547.1,551.5 547.8,550.0" stroke-width="1.2"/><polyline points="545.3,549.3 545.9,549.2 546.3,548.7" stroke-width="1.2"/><polyline points="526.9,527.8 526.5,529.4 526.8,529.4" stroke-width="1.2"/><polyline points="556.7,562.8 557.9,561.9 559.0,561.8" stroke-width="1.2"/><polyline points="539.2,536.4 539.3,536.0 537.4,537.0" stroke-width="1.2"/><polyline points="551.6,556.2 550.4,557.0 550.4,557.2" stroke-width="1.2"/><polyline points="541.6,541.6 540.1,541.5 539.6,543.2" stroke-width="1.2"/><polyline points="552.2,557.1 553.9,556.7 554.8,556.3" stroke-width="1.2"/><polyline points="533.7,531.4 534.2,530.5 535.2,528.8" stroke-width="1.2"/></g>
<g font-family="Liberation Sans, sans-serif" fill="#000"><text x="0" y="0" font-size="24.5" letter-spacing="1.7" transform="translate(183.00,151.80) scale(0.83,1)">EC</text><text x="0" y="0" font-size="24.5" letter-spacing="1.7" transform="translate(194.60,444.10) scale(0.83,1)">EC</text><text x="0" y="0" font-size="24.5" letter-spacing="1.7" transform="translate(409.60,456.10) scale(0.83,1)">EC</text><text x="0" y="0" font-size="24.5" letter-spacing="0" transform="translate(228.30,350.30) scale(0.83,1)">B</text><text x="0" y="0" font-size="24.5" letter-spacing="0" transform="translate(302.80,494.30) scale(0.83,1)">B</text><text x="0" y="0" font-size="21" letter-spacing="0" transform="translate(166.70,83.00) scale(0.82,1)">A</text><text x="0" y="0" font-size="21" letter-spacing="0" transform="translate(538.30,398.00) scale(0.82,1)">A</text></g><g font-family="Liberation Sans, sans-serif" fill="#111"><text x="0" y="0" font-size="15" letter-spacing="3.6" transform="translate(180.20,77.50) scale(0.92,1)">60</text><text x="0" y="0" font-size="15" letter-spacing="3.6" transform="translate(179.20,95.30) scale(0.92,1)">55</text><text x="0" y="0" font-size="15" letter-spacing="3.6" transform="translate(200.20,107.50) scale(0.92,1)">50</text><text x="0" y="0" font-size="15" letter-spacing="3.6" transform="translate(321.20,464.30) scale(0.92,1)">60</text><text x="0" y="0" font-size="15" letter-spacing="3.6" transform="translate(341.70,475.80) scale(0.92,1)">5550</text><text x="0" y="0" font-size="15" letter-spacing="3.6" transform="translate(525.80,381.40) scale(0.92,1)">60</text><text x="0" y="0" font-size="15" letter-spacing="3.6" transform="translate(509.60,395.90) scale(0.92,1)">55</text><text x="0" y="0" font-size="15" letter-spacing="3.6" transform="translate(468.20,408.00) scale(0.92,1)">50</text></g>
<path d="M469.5,254 L472.5,253.5 L473.5,257 L473,261.5 L470.5,262 L469.5,258 Z" fill="#000"/>
<path d="M177,421 L180,422 L181,426 L179.5,430 L177.5,427 Z" fill="#000"/>
<path d="M263,410 L265.5,408.5 L266.5,411 L268,413 L270.5,415.5 L269.5,418.5 L267,420 L265,417.5 L264,414.5 Z M265.5,414 L267,416 L266,417" fill="none" stroke="#000" stroke-width="1.1"/>
<g><g shape-rendering="crispEdges"><rect x="631.5" y="292.5" width="7" height="21.2" fill="#2e5e42" stroke="#000" stroke-width="1"/><rect x="631.5" y="313.7" width="7" height="20.8" fill="#1c9546" stroke="#000" stroke-width="1"/><rect x="631.5" y="334.5" width="7" height="21.2" fill="#3f8058" stroke="#000" stroke-width="1"/><rect x="631.5" y="355.7" width="7" height="20.8" fill="#45b33e" stroke="#000" stroke-width="1"/><rect x="631.5" y="376.5" width="7" height="21.0" fill="#9bd48c" stroke="#000" stroke-width="1"/><rect x="631.5" y="397.5" width="7" height="19.5" fill="#b8dcab" stroke="#000" stroke-width="1"/><rect x="631.5" y="417.0" width="7" height="21.5" fill="#ffffff" stroke="#000" stroke-width="1"/><rect x="631.5" y="438.5" width="7" height="19.1" fill="#f2d698" stroke="#000" stroke-width="1"/><rect x="631.5" y="457.6" width="7" height="18.2" fill="#dcaa4f" stroke="#000" stroke-width="1"/><rect x="631.5" y="475.8" width="7" height="19.2" fill="#d0782f" stroke="#000" stroke-width="1"/><rect x="631.5" y="495.0" width="7" height="18.0" fill="#b5603a" stroke="#000" stroke-width="1"/><rect x="631.5" y="513.0" width="7" height="18.0" fill="#a34e42" stroke="#000" stroke-width="1"/><rect x="631.5" y="531.0" width="7" height="19.0" fill="#5a3832" stroke="#000" stroke-width="1"/></g><g font-family="Liberation Mono, monospace" font-weight="bold" font-size="17" fill="#000" transform="translate(640,0) scale(0.97,1) translate(-640,0)"><text x="640" y="298.3">100</text><text x="640" y="319.3">90</text><text x="640" y="340.3">80</text><text x="640" y="361.3">70</text><text x="640" y="382.3">60</text><text x="640" y="402.3">55</text><text x="640" y="423.3">50</text><text x="640" y="443.3">50</text><text x="640" y="462.3">55</text><text x="640" y="481.3">60</text><text x="640" y="500.3">70</text><text x="640" y="518.3">80</text><text x="640" y="537.3">90</text><text x="640" y="555.3">100</text></g></g>
<g>
<defs><path id="arcTop" d="M 45.12 549.00 A 37.2 37.2 0 1 1 115.88 549.00"/><path id="arcBot" d="M 43.20 555.69 A 41.5 41.5 0 0 0 117.80 555.69"/></defs>
<text font-family="Liberation Sans, sans-serif" font-size="5.6" fill="#3a3a3a"><textPath href="#arcTop" textLength="140.2" lengthAdjust="spacing">NATIONAL OCEANIC AND ATMOSPHERIC ADMINISTRATION</textPath></text>
<text font-family="Liberation Sans, sans-serif" font-size="5.6" fill="#3a3a3a"><textPath href="#arcBot" textLength="92.7" lengthAdjust="spacing">U.S. DEPARTMENT OF COMMERCE</textPath></text>
<circle cx="80.5" cy="537.5" r="33.3" fill="#1e6eb6"/>
<path d="M 52.2 520 A 33.3 33.3 0 0 1 108.8 520 Q 95 532 79 543.5 Q 65 532 52.2 520 Z" fill="#1b1d6b"/>
<path d="M 48.3 528.5 Q 50.5 523 52.2 520 Q 65 532 79 543.5 Q 95 532 108.8 520 L 110.2 523 Q 96 537 84 546.5 L 95.5 544.5 L 93 548 Q 82 550.5 69.5 551.5 L 74 548.5 Q 60 540 48.3 528.5 Z" fill="#fff"/>
<text x="80.5" y="526.5" text-anchor="middle" font-family="Liberation Sans, sans-serif" font-weight="bold" font-size="10.5" fill="#fff" transform="translate(80.5,0) scale(0.95,1) translate(-80.5,0)">NOAA</text>
</g>
<g font-family="Liberation Mono, monospace" font-weight="bold" font-size="18" fill="#000" letter-spacing="2.0"><text x="0" y="0" transform="translate(40.3,594.00) scale(0.9,1)">THREE-MONTH OUTLOOK</text><text x="0" y="0" transform="translate(40.3,608.55) scale(0.9,1)">PRECIPITATION PROBABILITY</text><text x="0" y="0" transform="translate(40.3,623.10) scale(0.9,1)">0.5 MONTH LEAD</text><text x="0" y="0" transform="translate(40.3,637.65) scale(0.9,1)">VALID JJA 2021</text><text x="0" y="0" transform="translate(40.3,652.20) scale(0.9,1)">MADE 20 MAY 2021</text></g>
<g font-family="Liberation Mono, monospace" font-size="12.6" fill="#000" stroke="#000" stroke-width="0.4" letter-spacing="0.85"><text x="505" y="604.0" xml:space="preserve" style="white-space:pre">EC MEANS 50/50</text><text x="505" y="614.6" xml:space="preserve" style="white-space:pre">CHANCES FOR A &amp; B</text><text x="505" y="625.2" xml:space="preserve" style="white-space:pre">A MEANS ABOVE</text><text x="505" y="635.8" xml:space="preserve" style="white-space:pre">B MEANS BELOW</text><text x="505" y="646.4" xml:space="preserve" style="white-space:pre">EXPERIMENTAL 2-CLASS</text><text x="505" y="657.0" xml:space="preserve" style="white-space:pre">  OUTLOOK</text></g>
</svg></body></html>
